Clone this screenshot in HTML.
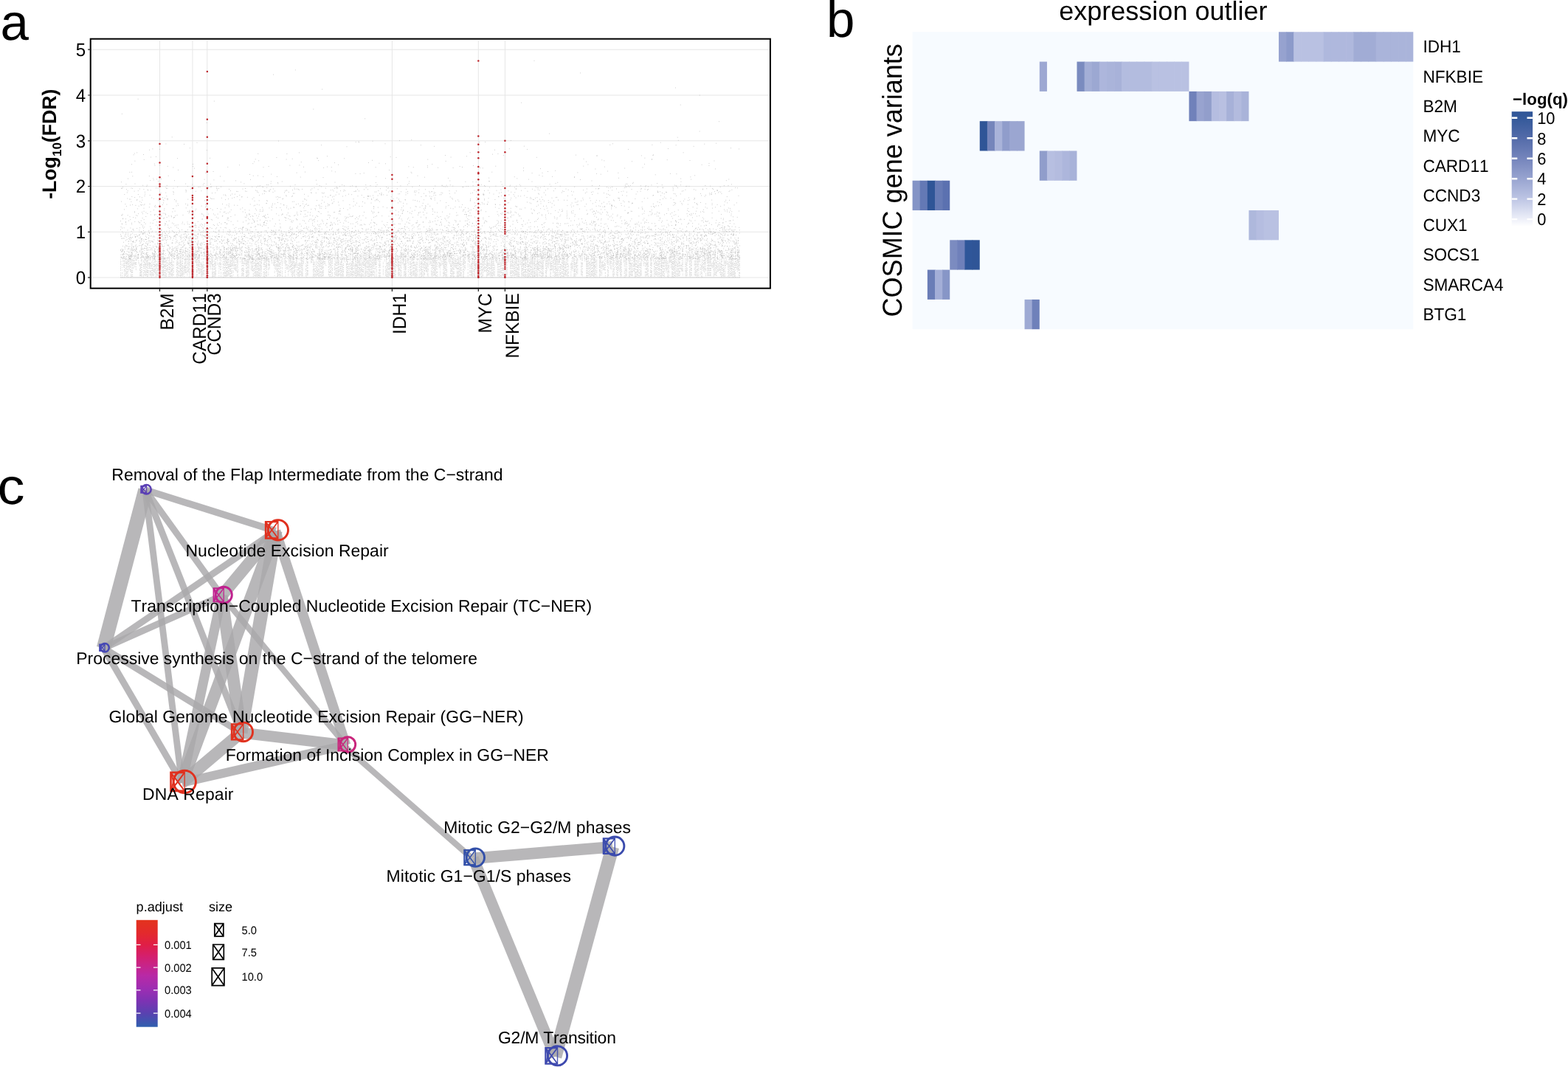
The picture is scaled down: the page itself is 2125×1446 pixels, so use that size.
<!DOCTYPE html>
<html lang="en"><head><meta charset="utf-8"><title>Figure</title>
<style>
html,body{margin:0;padding:0;background:#fff;}
body{width:2125px;height:1446px;overflow:hidden;}
svg{display:block;font-family:'Liberation Sans', sans-serif;}
text{fill:#000;font-kerning:none;text-rendering:geometricPrecision;}
</style></head><body>
<svg width="2125" height="1446" viewBox="0 0 2125 1446">
<rect width="2125" height="1446" fill="#fff"/>
<g id="panel-a">
<path d="M123.7 376.1H1042.7M123.7 314.3H1042.7M123.7 252.5H1042.7M123.7 190.8H1042.7M123.7 129.0H1042.7M123.7 67.2H1042.7M216.5 54.7V390.7M260.9 54.7V390.7M280.8 54.7V390.7M531.4 54.7V390.7M648.3 54.7V390.7M684.4 54.7V390.7" stroke="#e6e6e6" stroke-width="1" fill="none"/>
<g fill="none" stroke="#c1c1c1" stroke-width="0.8">
<path d="M163.50 375.8V349M166.80 352.8V344M174.65 363.8V346M186.80 351.2V342M245.50 375.9V337M247.50 374.5V341M255.80 369.1V345M275.20 372.9V354M281.80 372.8V340M290.80 374.4V352M309.35 372.8V335M310.35 372.7V357M337.35 373.0V335M348.65 374.6V354M350.50 375.9V355M354.20 374.0V346M366.80 351.2V338M387.20 357.4V353M389.35 365.0V357M397.80 373.1V337M400.20 362.1V355M408.80 373.3V337M411.50 357.6V351M428.80 375.6V351M435.35 374.7V350M461.65 375.5V355M464.50 373.7V358M473.20 375.4V356M475.80 373.8V357M477.65 374.8V335M480.80 373.2V357M484.35 373.7V348M489.50 376.1V357M499.80 375.1V339M504.35 373.3V344M525.65 374.5V355M528.20 373.9V349M532.50 375.2V352M534.65 373.9V356M539.80 372.9V349M549.50 375.1V336M550.20 374.2V346M552.35 356.3V352M559.80 373.4V349M564.20 375.3V354M566.20 345.2V343M586.80 373.3V342M590.35 376.0V336M601.80 373.7V350M602.20 372.9V351M603.65 375.4V344M606.20 347.5V343M609.50 357.4V343M618.35 363.4V352M665.65 373.1V348M666.65 376.0V340M672.80 356.3V338M684.20 361.8V339M688.50 347.4V340M691.80 372.9V343M697.65 375.8V336M703.50 375.2V350M706.80 372.9V355M727.80 376.0V334M728.50 374.6V333M734.80 374.1V355M736.35 373.9V333M752.65 374.1V333M753.35 375.6V341M756.65 375.5V345M764.65 375.3V338M766.35 372.9V357M792.65 354.1V339M795.35 375.7V344M797.35 374.2V346M799.35 375.4V354M805.50 373.5V335M815.65 372.9V355M836.80 375.7V336M838.35 365.7V352M840.80 373.2V352M841.20 375.3V333M853.65 374.7V336M872.35 360.3V335M897.35 373.5V335M902.80 369.3V347M911.35 374.6V354M913.50 375.9V334M932.35 353.9V340M946.80 375.8V339M959.35 373.6V335M970.50 373.1V352M977.35 375.3V349M989.65 373.9V354M990.80 374.2V342M1000.35 365.4V341" stroke-dasharray="0.8 1.1 0.8 0.7 0.8 1.4 0.8 2.3 0.8 0.9 0.8 0.9 0.8 0.9 0.8 1.8 0.8 0.5"/>
<path d="M169.80 374.1V349M173.50 375.7V351M177.20 375.9V346M187.80 357.5V348M206.65 373.6V340M209.50 368.8V338M225.35 374.7V353M229.80 372.7V334M234.20 373.3V358M259.65 351.2V347M260.80 373.5V356M265.35 356.1V334M285.65 364.9V342M298.50 366.0V347M315.20 360.1V334M319.65 367.1V358M322.50 376.0V351M327.65 374.3V339M328.65 373.8V352M330.20 374.6V357M336.20 376.1V333M343.20 374.7V345M344.65 373.8V355M351.35 374.1V335M374.65 368.0V344M376.50 374.6V349M401.35 359.9V342M404.35 373.2V358M410.20 374.1V353M414.35 374.4V356M424.50 375.5V352M426.50 375.1V354M431.80 374.5V341M440.35 358.5V339M450.50 373.8V346M456.35 373.8V341M463.50 375.5V333M490.20 374.7V341M510.20 375.6V347M517.80 349.0V335M523.50 374.5V347M535.35 375.2V337M541.35 373.2V354M563.65 374.2V359M570.80 374.3V355M581.50 352.6V337M588.65 373.2V344M605.65 376.0V355M616.50 361.0V342M624.65 373.7V353M627.35 375.9V342M653.20 375.5V347M677.35 375.3V349M680.65 373.5V344M681.80 373.3V337M682.35 373.9V345M687.20 372.9V336M707.20 374.8V339M714.80 375.6V335M722.20 375.8V343M729.50 365.9V355M754.80 373.6V348M755.20 375.7V351M757.80 356.2V337M777.80 375.1V347M819.50 366.3V345M821.50 344.3V334M822.50 356.6V339M823.50 375.4V343M827.35 364.3V337M831.35 374.9V342M832.65 373.0V352M839.80 367.9V351M847.80 375.4V335M848.20 373.8V338M851.80 354.1V334M888.50 373.0V352M894.50 374.3V335M900.35 374.8V349M919.65 374.3V333M923.80 367.7V359M924.20 367.1V344M931.20 373.7V343M936.35 373.4V346M944.20 375.8V337M948.80 355.3V335M956.50 374.2V350M958.80 373.8V334M962.35 373.7V334M964.80 361.4V357M965.20 363.3V355M969.20 373.1V338M973.20 368.2V353M979.65 373.8V359M981.20 374.7V340" stroke-dasharray="0.8 0.9 0.8 1.1 0.8 2.3 0.8 0.9 0.8 0.7 0.8 2.9 0.8 2.3 0.8 1.4 0.8 1.1"/>
<path d="M167.65 361.7V353M168.35 375.7V344M181.65 357.9V352M183.65 358.3V355M184.35 365.9V337M185.20 352.9V351M189.50 374.2V356M213.80 374.2V345M214.80 374.0V336M233.20 374.6V338M244.35 374.7V337M251.20 370.1V338M311.35 374.7V340M312.50 374.9V333M340.20 365.4V349M363.80 373.3V347M368.65 357.1V338M370.80 359.6V338M394.35 369.0V346M395.35 373.5V354M399.65 375.6V357M422.50 356.1V341M425.20 373.3V355M454.20 373.4V337M476.65 373.1V354M482.65 374.4V333M487.35 373.5V349M500.35 375.1V336M514.65 375.2V338M527.80 373.4V336M538.20 361.3V346M540.35 374.3V354M542.80 375.4V339M568.20 375.7V351M580.20 374.6V333M582.65 359.0V342M583.20 356.8V334M599.80 358.5V348M604.65 374.1V344M611.35 375.0V358M626.80 358.3V357M630.65 364.4V336M635.50 354.8V342M643.35 374.4V346M648.50 374.0V355M654.65 374.1V349M659.50 375.7V334M660.50 373.8V350M663.35 372.6V346M669.20 372.9V342M671.65 354.3V348M701.35 373.2V358M708.50 373.7V353M712.35 375.6V333M716.35 375.0V357M718.20 375.1V351M730.50 373.8V345M738.35 353.0V336M745.65 374.4V344M763.50 374.7V349M779.35 374.8V355M781.50 370.1V352M804.50 374.8V342M812.50 375.6V345M828.65 364.9V344M835.35 372.9V344M844.35 347.9V341M850.65 346.2V339M859.50 368.1V333M864.35 375.7V359M870.20 354.1V347M876.50 373.2V352M878.35 375.0V336M890.20 372.7V354M892.65 373.6V350M896.50 375.6V341M901.80 363.9V347M905.80 376.0V358M909.50 362.9V346M917.65 374.8V350M937.20 373.9V338M941.20 373.2V353M945.50 374.4V339M949.20 373.1V358M955.35 365.7V338M960.65 374.0V333M963.35 373.8V343M967.20 374.5V349M985.65 358.8V353M991.35 373.8V342M1001.35 374.0V337" stroke-dasharray="0.8 0.9 0.8 1.4 0.8 2.3 0.8 0.7 0.8 0.5 0.8 2.3 0.8 0.7 0.8 0.5 0.8 1.4"/>
<path d="M180.80 364.1V351M190.50 374.0V357M198.80 373.3V333M202.50 363.6V354M210.35 371.4V336M219.20 373.7V343M220.65 373.7V338M221.50 373.2V336M241.20 374.3V345M250.35 368.1V352M252.20 370.0V351M256.80 375.8V340M263.65 351.0V343M269.65 370.9V334M287.65 375.8V345M291.80 375.8V356M304.35 374.4V335M306.50 374.4V346M307.35 374.5V338M331.65 357.7V343M334.35 375.0V352M335.65 373.8V352M338.35 352.3V337M341.50 366.7V340M353.80 367.3V346M358.35 376.0V340M362.65 353.5V346M367.80 353.7V338M371.65 360.1V352M380.50 374.0V355M382.65 374.8V344M396.50 374.8V349M402.20 373.2V339M405.50 375.1V355M421.35 356.4V342M429.80 372.9V359M437.35 374.3V334M438.20 373.6V347M443.20 351.9V340M445.35 373.2V344M457.80 374.4V337M459.20 373.2V352M470.50 373.8V350M485.20 373.1V337M486.35 374.5V352M497.35 373.3V341M502.80 373.3V338M507.80 375.4V346M519.35 372.6V355M522.35 373.7V359M526.35 375.8V355M529.65 374.4V350M543.80 374.1V342M556.20 373.1V355M577.65 368.2V336M589.50 372.7V337M613.20 374.7V349M614.65 375.8V346M619.35 375.2V355M620.35 375.5V347M621.50 375.1V348M628.50 375.9V339M638.80 373.7V358M640.20 375.1V339M644.35 364.7V355M664.80 375.5V357M683.80 355.1V334M699.35 373.0V347M700.80 375.0V349M720.20 373.0V348M721.50 375.3V342M723.80 375.2V355M724.20 375.0V335M740.50 375.0V349M742.50 360.4V335M743.20 363.3V348M758.35 373.5V334M782.80 371.4V350M787.65 372.7V355M803.50 374.2V355M807.35 373.3V351M813.35 373.4V347M817.35 365.9V352M824.65 374.1V336M837.20 373.7V338M852.50 375.4V337M860.65 375.7V345M863.50 373.1V346M904.80 375.1V353M907.80 355.5V344M910.80 375.7V350M922.65 365.1V358M934.65 373.4V335M942.65 373.7V340M976.35 372.9V356M982.65 374.6V354M983.20 361.0V347M993.50 376.0V342M994.65 373.1V357M995.50 375.0V355" stroke-dasharray="0.8 0.7 0.8 1.4 0.8 0.9 0.8 0.9 0.8 2.3 0.8 0.7 0.8 2.3 0.8 1.4 0.8 0.7"/>
<path d="M171.65 375.2V347M172.35 374.3V352M195.80 372.7V339M223.35 373.4V353M230.35 375.1V356M235.20 373.1V353M240.35 376.0V338M243.80 373.7V349M249.80 375.3V358M261.65 375.3V357M264.35 354.5V342M267.20 372.7V345M277.80 351.2V337M282.65 374.4V339M283.80 357.8V351M297.20 361.8V335M302.20 375.9V341M316.35 373.2V339M321.50 373.5V343M325.35 355.3V335M332.20 357.9V351M339.50 355.3V354M342.50 367.1V349M345.65 373.8V348M360.80 373.8V337M372.20 373.7V348M377.35 373.2V334M391.65 365.8V333M392.20 367.3V336M393.50 366.0V341M398.65 373.3V353M406.50 372.8V358M433.65 373.1V342M436.65 374.2V356M441.80 360.1V357M448.35 372.7V349M449.35 374.8V338M453.20 375.2V357M462.50 373.2V344M467.80 355.4V335M471.20 375.7V351M478.35 373.1V344M496.20 374.1V343M498.50 374.6V350M506.35 373.0V345M536.35 372.6V348M537.35 359.9V355M555.65 375.7V346M569.80 375.8V335M571.50 375.2V344M574.80 376.0V346M587.65 373.3V351M591.50 374.2V346M597.20 359.8V357M615.35 374.7V354M629.50 366.6V340M636.35 372.9V340M637.80 372.9V359M651.65 376.1V356M652.65 375.0V357M655.20 368.6V340M657.20 367.0V343M678.35 373.8V356M694.50 373.0V344M695.65 374.2V344M719.50 375.3V339M731.80 373.3V353M732.65 373.8V339M733.80 374.8V347M744.50 357.2V342M746.50 375.1V355M749.65 373.7V336M759.50 375.9V358M761.50 374.2V342M762.65 374.7V336M770.65 374.0V357M771.50 344.0V339M786.65 352.1V343M814.20 373.6V342M834.35 361.8V345M865.35 373.5V338M873.35 356.3V342M887.20 374.9V341M893.35 375.6V345M899.50 374.0V339M906.80 373.6V349M912.35 375.4V340M914.35 374.1V337M920.50 373.8V353M950.65 374.6V357M961.80 373.5V341M971.20 373.8V355M975.35 369.8V338M986.50 374.5V357" stroke-dasharray="0.8 2.9 0.8 1.1 0.8 2.9 0.8 1.8 0.8 1.1 0.8 2.3 0.8 0.7 0.8 1.4 0.8 2.3"/>
<path d="M175.20 365.8V344M182.80 362.1V348M191.35 374.4V334M194.35 375.6V353M196.20 372.9V352M197.50 373.9V345M201.80 372.8V347M203.80 373.3V346M205.35 375.8V354M211.35 375.2V353M212.65 373.0V357M222.35 375.8V349M224.35 375.6V342M227.35 368.8V356M248.35 372.7V359M270.20 370.9V345M271.80 370.1V356M273.65 374.8V355M274.20 373.2V359M286.65 358.4V347M288.50 375.2V351M320.20 367.4V339M346.65 374.7V351M347.20 373.8V333M352.50 375.1V354M359.80 375.7V341M361.50 374.5V348M365.20 364.5V355M373.65 364.8V345M375.80 375.2V349M378.50 373.5V334M381.20 354.6V351M385.20 356.6V338M407.20 373.4V349M409.20 374.5V339M415.80 375.8V343M423.35 352.8V343M442.20 345.4V342M466.35 353.7V350M469.50 374.3V346M494.65 375.1V338M495.20 373.1V342M501.80 374.2V335M505.65 373.4V345M544.35 348.2V335M546.50 356.3V344M547.50 374.3V337M548.65 373.6V357M562.20 375.2V355M573.80 374.5V349M576.65 365.0V334M578.20 368.3V357M579.20 373.5V337M585.65 374.7V350M596.65 373.7V335M598.20 359.3V351M607.80 354.7V340M623.50 374.2V347M639.20 373.5V353M645.35 364.0V354M656.65 368.1V346M661.50 373.2V349M670.35 374.1V359M674.65 374.2V355M689.20 354.7V345M696.50 372.6V358M702.65 375.0V347M705.50 359.0V333M709.50 374.3V350M715.50 375.8V344M725.20 375.5V348M726.65 373.4V357M735.20 375.6V339M748.20 366.0V353M750.20 367.4V351M760.20 375.2V358M773.80 374.3V355M776.35 363.9V349M780.80 373.3V343M788.80 373.1V342M800.80 374.8V352M806.20 376.0V348M816.35 361.1V353M826.50 359.5V346M830.65 373.6V350M845.35 355.6V335M854.65 373.2V341M855.65 373.8V353M867.50 374.5V357M869.20 373.7V346M877.65 373.0V338M891.20 374.7V349M903.65 365.7V353M908.20 354.8V334M915.35 375.0V351M918.65 373.3V357M943.20 373.7V357M951.35 376.0V351M954.50 369.4V336M968.20 373.2V347M974.50 366.9V355M978.35 375.3V339M988.20 375.9V342M992.35 373.5V336M999.65 367.8V334" stroke-dasharray="0.8 0.9 0.8 1.4 0.8 1.1 0.8 2.3 0.8 1.8 0.8 1.4 0.8 0.7 0.8 0.5 0.8 2.9"/>
<path d="M165.65 375.9V353M170.80 373.4V341M204.20 373.4V356M226.65 365.8V348M228.80 374.9V341M231.35 373.1V355M242.35 373.8V356M246.50 373.1V357M253.80 373.4V355M254.65 367.5V337M276.50 372.6V357M280.65 372.9V338M289.80 374.8V358M292.35 372.8V342M299.50 375.2V344M303.35 375.8V341M305.50 375.4V349M318.50 365.2V346M329.65 373.0V350M349.35 374.1V338M355.65 352.4V337M357.20 374.8V345M379.20 374.6V351M384.65 345.7V339M388.20 364.6V354M390.65 373.5V359M403.80 375.7V357M416.65 373.0V339M417.20 372.9V351M427.65 373.7V358M430.65 373.1V344M432.50 375.3V341M434.65 374.3V343M446.35 374.5V342M455.50 373.3V353M472.20 374.2V358M474.65 373.9V342M479.35 374.1V351M493.35 360.1V342M503.35 374.5V357M508.35 359.0V344M513.35 375.8V339M515.20 375.8V333M557.35 375.5V347M558.20 374.0V349M560.50 373.1V337M561.80 373.1V335M575.50 372.7V346M584.50 373.1V343M592.65 374.7V345M594.80 361.7V348M595.80 363.0V354M600.80 375.5V336M625.20 376.0V352M634.20 375.4V343M649.35 373.4V338M658.20 368.3V358M662.50 372.9V358M667.80 375.6V338M668.20 373.0V345M673.50 355.6V351M676.35 374.8V349M686.65 372.9V340M698.80 373.1V341M710.35 374.9V345M713.20 374.5V341M717.50 373.6V350M741.20 367.1V342M751.35 374.9V348M765.80 372.6V352M769.65 375.3V343M775.20 367.0V349M789.20 374.4V349M790.20 345.4V341M798.65 373.2V355M801.50 373.7V346M802.50 373.1V336M818.35 365.3V358M820.35 375.7V348M857.20 374.0V346M861.20 375.1V336M862.35 375.0V353M866.20 375.6V340M868.50 372.8V342M874.35 374.2V345M875.65 374.4V338M879.80 344.9V344M883.35 373.9V343M884.50 348.9V347M885.50 354.2V340M889.20 373.2V341M895.80 375.4V344M898.65 374.0V355M916.20 373.0V341M921.35 373.4V334M935.20 375.2V342M947.20 354.4V347M953.50 367.3V352M957.65 351.0V345M972.35 367.7V333M984.80 358.2V353M996.50 376.0V334M1002.50 375.6V346" stroke-dasharray="0.8 1.1 0.8 1.8 0.8 0.5 0.8 2.9 0.8 2.9 0.8 1.8 0.8 0.9 0.8 2.9 0.8 1.8"/>
<path d="M176.50 367.6V344M178.50 375.1V333M179.65 374.9V350M192.20 374.4V333M193.50 348.8V340M199.65 374.9V353M200.20 375.2V338M207.35 373.3V358M208.35 373.8V343M216.50 352.9V345M218.50 361.0V356M232.50 373.6V345M239.50 374.3V353M262.35 374.4V342M266.65 374.5V345M268.65 365.7V346M272.65 373.7V355M284.50 361.2V353M293.20 349.4V336M294.65 358.7V349M296.80 375.8V356M308.50 374.0V351M313.35 376.0V345M314.65 375.5V333M317.65 365.4V345M333.50 375.2V352M364.65 360.1V349M386.80 375.2V334M419.50 346.7V345M439.80 356.9V348M447.50 374.9V342M458.35 373.8V340M460.65 372.9V357M465.50 374.4V356M481.65 375.9V335M483.65 375.4V357M488.20 374.5V344M491.50 374.0V354M492.50 374.5V344M509.35 364.2V335M512.35 353.0V336M521.20 354.1V345M524.50 374.8V356M533.50 375.7V354M545.65 358.2V348M553.35 374.3V337M565.65 373.9V339M572.20 374.0V351M610.65 375.9V334M612.65 372.7V343M617.50 362.8V349M622.65 373.7V353M641.20 372.8V334M642.80 374.3V337M646.35 373.8V355M647.35 375.6V359M650.35 373.2V355M675.20 373.7V353M679.35 375.3V352M692.35 376.0V354M693.80 375.7V338M711.50 374.3V336M739.50 375.4V353M747.50 366.2V341M767.20 374.2V344M768.50 373.5V344M774.80 364.3V354M778.50 373.9V341M794.80 375.7V349M796.20 375.9V353M808.80 375.4V348M842.35 374.0V350M846.20 376.0V338M849.50 373.7V338M856.65 374.0V359M858.65 366.8V349M881.65 374.7V350M882.50 375.2V351M886.50 373.4V356M925.50 373.4V336M928.65 373.4V344M929.80 375.5V357M930.35 374.0V347M940.20 347.0V343M952.65 364.3V334M966.80 362.9V352M980.50 374.4V358M987.65 373.9V355M997.35 362.8V346M998.35 365.0V353" stroke-dasharray="0.8 1.1 0.8 2.3 0.8 0.7 0.8 1.1 0.8 2.3 0.8 2.3 0.8 0.9 0.8 1.1 0.8 1.8"/>
<path d="M779.9 340.5h.8M719.5 324.4h.8M270.0 345.3h.8M343.3 343.8h.8M192.9 348.0h.8M503.8 338.3h.8M228.3 332.0h.8M953.7 332.2h.8M461.4 327.0h.8M529.8 346.8h.8M567.1 351.1h.8M730.1 347.2h.8M473.2 316.0h.8M806.3 321.5h.8M701.7 329.9h.8M754.4 315.8h.8M327.7 324.5h.8M415.4 344.2h.8M852.3 331.3h.8M875.9 319.8h.8M657.0 346.1h.8M175.6 333.9h.8M771.8 343.6h.8M221.8 351.3h.8M308.3 327.4h.8M166.3 345.0h.8M385.4 326.8h.8M991.3 351.1h.8M258.8 317.2h.8M976.8 347.6h.8M444.4 334.4h.8M431.6 338.4h.8M564.7 344.1h.8M209.1 349.5h.8M299.3 349.3h.8M686.6 327.4h.8M383.6 323.4h.8M774.4 341.2h.8M575.6 346.4h.8M942.4 332.9h.8M206.0 347.5h.8M744.1 339.6h.8M764.6 345.1h.8M831.8 322.9h.8M242.0 331.9h.8M323.5 326.9h.8M837.6 323.4h.8M357.0 349.2h.8M719.6 332.7h.8M279.0 346.2h.8M651.7 348.8h.8M694.9 344.7h.8M379.9 338.2h.8M610.3 326.2h.8M188.9 326.2h.8M348.4 343.0h.8M699.8 327.6h.8M678.7 318.6h.8M334.7 342.3h.8M718.9 344.0h.8M295.0 345.2h.8M810.1 321.9h.8M764.0 316.1h.8M829.5 342.3h.8M427.7 326.3h.8M209.7 330.9h.8M237.8 350.4h.8M594.0 347.5h.8M944.7 319.7h.8M550.4 346.1h.8M263.3 335.0h.8M600.4 340.4h.8M764.0 334.1h.8M813.6 348.9h.8M221.8 339.5h.8M568.7 344.3h.8M723.9 345.3h.8M430.0 336.1h.8M760.6 324.3h.8M474.8 337.3h.8M941.2 317.2h.8M682.1 348.9h.8M545.4 329.8h.8M396.7 350.7h.8M986.2 318.3h.8M271.2 336.6h.8M682.6 342.6h.8M220.5 325.1h.8M809.7 337.6h.8M234.9 339.3h.8M241.9 315.9h.8M206.0 343.1h.8M807.3 348.0h.8M252.4 349.8h.8M300.6 334.0h.8M862.0 347.0h.8M308.7 324.5h.8M520.2 341.3h.8M266.4 344.6h.8M978.3 348.6h.8M380.8 325.5h.8M911.2 318.5h.8M559.7 316.3h.8M669.8 343.0h.8M553.3 326.6h.8M778.8 348.2h.8M325.5 316.2h.8M252.8 322.5h.8M447.3 344.4h.8M377.1 336.4h.8M994.1 347.6h.8M879.9 341.9h.8M308.0 325.4h.8M449.6 346.4h.8M514.1 322.1h.8M887.1 332.3h.8M171.7 324.6h.8M671.9 318.7h.8M961.7 341.7h.8M874.9 322.2h.8M386.2 340.3h.8M477.3 340.8h.8M480.3 348.8h.8M353.6 318.3h.8M507.5 329.9h.8M907.4 324.9h.8M368.0 317.9h.8M837.7 314.7h.8M773.8 324.9h.8M845.1 344.3h.8M713.3 339.8h.8M867.5 348.1h.8M615.3 341.4h.8M851.5 341.0h.8M871.0 321.0h.8M900.3 347.9h.8M950.2 325.4h.8M730.9 329.2h.8M203.3 320.0h.8M622.6 337.0h.8M447.7 323.8h.8M819.3 320.0h.8M342.7 341.2h.8M372.2 349.0h.8M437.5 350.9h.8M831.3 345.1h.8M222.3 349.9h.8M784.8 346.1h.8M550.7 339.0h.8M836.2 316.4h.8M423.0 330.0h.8M913.7 336.4h.8M917.8 325.8h.8M424.4 319.9h.8M644.0 348.9h.8M655.9 321.8h.8M598.1 335.9h.8M512.4 319.6h.8M721.4 345.8h.8M467.0 340.4h.8M967.3 327.4h.8M267.8 318.1h.8M192.3 331.7h.8M525.8 326.5h.8M523.2 349.3h.8M602.4 322.2h.8M824.9 340.6h.8M349.5 325.4h.8M835.6 345.4h.8M903.9 314.7h.8M526.7 339.8h.8M758.6 317.4h.8M332.2 342.6h.8M439.1 325.9h.8M319.7 333.4h.8M582.8 328.5h.8M283.2 316.2h.8M1002.0 332.9h.8M830.2 346.5h.8M926.7 333.2h.8M800.2 320.1h.8M466.5 317.7h.8M337.0 351.0h.8M584.5 318.8h.8M918.5 316.3h.8M591.6 317.3h.8M632.8 347.8h.8M692.5 322.9h.8M518.6 331.2h.8M380.4 343.5h.8M515.6 334.7h.8M555.9 349.3h.8M167.8 341.2h.8M764.5 325.2h.8M361.9 344.2h.8M596.5 346.8h.8M668.9 318.5h.8M332.5 331.9h.8M767.7 325.2h.8M760.4 326.8h.8M391.7 321.4h.8M939.2 350.3h.8M955.1 337.4h.8M235.4 349.9h.8M831.6 328.2h.8M282.2 336.8h.8M698.9 314.4h.8M444.9 324.4h.8M368.7 346.1h.8M298.3 338.7h.8M681.7 342.5h.8M298.9 345.4h.8M234.3 346.2h.8M427.9 335.1h.8M317.0 336.0h.8M532.0 315.5h.8M571.0 316.8h.8M558.5 346.1h.8M659.7 347.7h.8M305.0 349.8h.8M751.4 315.8h.8M501.4 340.7h.8M519.7 340.8h.8M742.5 339.3h.8M290.8 320.3h.8M643.4 351.3h.8M875.7 326.0h.8M460.4 330.1h.8M935.1 339.0h.8M525.9 342.7h.8M628.0 328.8h.8M779.7 316.6h.8M284.9 340.3h.8M877.5 323.4h.8M658.0 328.2h.8M448.3 316.8h.8M623.9 339.0h.8M316.0 348.6h.8M916.0 323.0h.8M185.4 341.8h.8M565.4 335.4h.8M467.9 318.9h.8M456.5 334.0h.8M942.8 329.7h.8M563.1 341.5h.8M487.8 330.9h.8M822.4 344.0h.8M473.8 339.5h.8M467.4 318.2h.8M615.2 343.5h.8M441.9 322.1h.8M297.4 327.6h.8M181.3 346.2h.8M212.9 322.8h.8M286.2 345.1h.8M211.3 343.9h.8M778.3 326.4h.8M926.8 316.7h.8M625.2 317.8h.8M238.2 317.6h.8M527.2 346.2h.8M790.6 320.5h.8M486.7 349.2h.8M895.4 325.0h.8M663.9 315.3h.8M195.0 350.2h.8M267.2 351.0h.8M757.3 330.1h.8M257.2 347.2h.8M314.8 330.9h.8M727.2 315.7h.8M465.6 315.3h.8M527.5 339.4h.8M375.5 344.9h.8M980.7 314.5h.8M755.2 346.8h.8M313.9 347.5h.8M457.5 325.7h.8M212.4 334.1h.8M734.1 350.8h.8M531.8 323.4h.8M646.0 337.1h.8M902.5 331.3h.8M445.7 339.2h.8M954.5 320.5h.8M930.5 332.9h.8M282.5 346.8h.8M484.6 327.6h.8M166.9 322.9h.8M822.4 334.7h.8M167.7 323.1h.8M510.4 328.5h.8M641.1 326.0h.8M506.0 316.1h.8M964.7 317.5h.8M679.1 342.1h.8M479.0 343.7h.8M921.3 323.4h.8M824.2 322.1h.8M994.3 327.7h.8M430.0 324.8h.8M383.1 330.9h.8M295.9 320.6h.8M573.1 343.5h.8M937.3 349.5h.8M943.4 324.8h.8M288.1 324.7h.8M644.0 318.4h.8M655.1 338.0h.8M946.1 349.4h.8M815.0 349.0h.8M395.1 348.7h.8M894.0 337.5h.8M772.4 344.1h.8M775.7 329.3h.8M244.9 335.5h.8M768.6 345.5h.8M712.0 343.4h.8M473.9 317.9h.8M954.2 314.4h.8M521.0 332.4h.8M841.3 324.8h.8M545.8 320.3h.8M499.7 316.5h.8M559.7 348.5h.8M791.5 347.7h.8M733.1 350.3h.8M992.2 333.7h.8M784.2 348.1h.8M697.3 339.9h.8M372.0 322.4h.8M190.9 336.1h.8M235.9 320.8h.8M912.4 350.7h.8M552.8 336.4h.8M766.0 326.0h.8M451.0 317.3h.8M318.5 348.0h.8M846.5 348.5h.8M319.0 335.2h.8M445.2 347.2h.8M943.2 336.3h.8M822.3 344.4h.8M928.7 345.3h.8M923.5 330.8h.8M977.7 324.3h.8M692.3 334.0h.8M880.2 337.4h.8M245.5 318.1h.8M838.9 328.0h.8M787.8 345.0h.8M551.7 322.1h.8M970.1 317.7h.8M297.7 327.9h.8M627.9 338.9h.8M303.7 348.0h.8M557.6 335.5h.8M387.7 340.2h.8M627.8 324.6h.8M657.5 347.2h.8M906.4 340.2h.8M968.3 315.1h.8M280.7 332.0h.8M974.2 339.6h.8M622.3 342.2h.8M187.0 345.9h.8M267.0 343.2h.8M691.1 332.8h.8M958.6 327.8h.8M467.0 316.6h.8M694.9 333.6h.8M886.7 328.5h.8M465.3 331.1h.8M414.9 315.7h.8M367.9 315.5h.8M217.0 351.2h.8M627.1 345.8h.8M588.8 348.5h.8M865.1 328.5h.8M737.1 317.6h.8M995.4 328.1h.8M761.4 351.4h.8M204.3 338.1h.8M976.0 342.2h.8M639.9 351.3h.8M511.8 318.6h.8M657.6 322.0h.8M174.0 345.9h.8M313.4 321.6h.8M248.3 317.3h.8M387.4 319.6h.8M595.6 341.8h.8M973.8 338.9h.8M748.1 349.9h.8M859.7 315.2h.8M255.7 325.3h.8M389.9 347.6h.8M468.6 328.8h.8M963.0 314.6h.8M996.6 330.4h.8M711.2 347.2h.8M772.2 333.2h.8M464.2 318.7h.8M377.0 347.8h.8M295.7 347.6h.8M656.8 323.0h.8M297.3 335.1h.8M644.9 332.9h.8M509.3 333.6h.8M175.7 350.2h.8M517.6 344.8h.8M798.0 344.6h.8M854.3 344.7h.8M240.7 336.1h.8M488.1 341.4h.8M804.9 345.3h.8M725.1 321.5h.8M542.8 335.1h.8M937.9 331.1h.8M314.8 349.9h.8M231.9 341.5h.8M237.5 329.3h.8M518.4 342.3h.8M592.7 317.1h.8M368.0 347.4h.8M419.2 341.8h.8M926.4 327.0h.8M522.8 347.1h.8M201.1 348.4h.8M874.0 329.4h.8M294.4 330.3h.8M212.0 335.0h.8M444.4 349.0h.8M786.0 326.5h.8M591.4 347.0h.8M724.8 337.8h.8M717.8 349.3h.8M920.3 351.3h.8M349.9 339.1h.8M329.4 349.4h.8M739.8 314.6h.8M444.0 343.8h.8M725.7 345.3h.8M499.2 327.7h.8M524.4 347.4h.8M222.1 333.6h.8M994.1 317.9h.8M246.8 335.2h.8M572.8 346.2h.8M725.0 335.4h.8M841.6 342.9h.8M946.5 322.4h.8M560.3 347.8h.8M568.8 348.3h.8M738.3 327.3h.8M648.1 315.4h.8M200.9 326.6h.8M834.9 348.7h.8M433.2 350.3h.8M652.1 326.3h.8M455.0 327.4h.8M470.7 326.7h.8M395.3 315.3h.8M530.4 351.3h.8M239.7 326.1h.8M888.5 329.8h.8M293.4 319.9h.8M764.4 348.6h.8M482.3 328.4h.8M166.0 350.6h.8M459.7 319.8h.8M998.9 342.0h.8M925.6 323.6h.8M888.8 331.8h.8M976.3 329.5h.8M958.2 332.7h.8M327.9 334.5h.8M568.2 341.3h.8M476.5 334.8h.8M656.4 345.3h.8M395.8 335.1h.8M585.8 338.3h.8M720.2 346.5h.8M609.2 343.5h.8M809.1 327.1h.8M818.3 334.6h.8M371.9 317.6h.8M591.6 340.0h.8M406.6 339.0h.8M757.6 322.2h.8M567.9 325.9h.8M341.6 337.1h.8M463.3 342.4h.8M464.6 324.9h.8M778.3 345.8h.8M359.2 323.7h.8M712.2 328.2h.8M696.0 327.5h.8M391.9 350.1h.8M465.6 350.8h.8M970.1 334.3h.8M725.3 315.8h.8M837.9 345.1h.8M445.7 348.8h.8M830.6 325.7h.8M572.1 340.2h.8M389.4 335.7h.8M760.4 318.9h.8M875.2 320.1h.8M531.5 338.3h.8M426.5 315.5h.8M316.8 347.3h.8M398.7 317.8h.8M878.4 341.5h.8M877.6 319.1h.8M521.4 346.3h.8M811.3 340.0h.8M263.1 318.6h.8M531.8 339.1h.8M662.4 344.2h.8M180.0 339.4h.8M481.2 351.2h.8M474.9 324.7h.8M442.3 328.1h.8M687.0 346.4h.8M180.1 328.3h.8M675.6 342.9h.8M331.0 320.7h.8M925.9 344.9h.8M654.6 332.3h.8M433.2 350.7h.8M436.0 329.5h.8M668.0 334.9h.8M265.6 345.6h.8M424.2 338.4h.8M467.7 318.6h.8M260.3 314.9h.8M364.7 320.6h.8M367.4 331.8h.8M479.5 350.7h.8M831.2 322.6h.8M388.8 324.0h.8M565.0 314.9h.8M208.6 339.8h.8M354.1 330.3h.8M815.7 321.2h.8M623.1 339.5h.8M833.9 348.9h.8M381.1 325.0h.8M532.5 314.6h.8M239.3 336.7h.8M341.3 351.4h.8M241.5 349.3h.8M472.5 337.8h.8M589.0 343.0h.8M752.0 334.6h.8M986.8 347.0h.8M591.4 335.5h.8M475.0 320.4h.8M338.8 319.7h.8M463.2 341.4h.8M678.8 332.8h.8M401.3 349.5h.8M964.4 340.2h.8M259.0 329.0h.8M609.3 341.7h.8M438.6 321.1h.8M447.1 338.4h.8M965.8 340.5h.8M500.3 347.2h.8M718.8 328.7h.8M537.5 338.8h.8M358.3 323.5h.8M546.6 321.7h.8M477.6 325.8h.8M187.1 345.4h.8M968.9 328.0h.8M729.9 335.4h.8M559.3 346.1h.8M308.1 329.5h.8M745.1 344.1h.8M703.8 348.0h.8M677.3 346.9h.8M590.5 342.2h.8M625.0 348.1h.8M568.6 330.6h.8M276.1 342.3h.8M732.4 333.4h.8M680.4 323.9h.8M642.5 345.3h.8M534.3 321.7h.8M638.4 325.0h.8M468.4 337.2h.8M976.7 322.1h.8M710.7 348.9h.8M676.3 350.8h.8M946.6 315.6h.8M773.9 343.8h.8M872.6 346.7h.8M857.6 334.4h.8M176.2 319.1h.8M532.2 321.7h.8M740.6 334.0h.8M886.6 345.9h.8M916.9 341.3h.8M184.8 341.4h.8M218.4 349.8h.8M686.7 348.5h.8M297.0 342.9h.8M396.9 317.8h.8M922.6 320.0h.8M993.4 337.5h.8M830.7 343.3h.8M940.3 322.6h.8M777.3 345.1h.8M239.8 317.6h.8M626.3 330.8h.8M886.2 347.8h.8M749.7 336.6h.8M822.5 336.9h.8M328.0 316.3h.8M398.9 325.4h.8M860.4 344.4h.8M746.1 339.2h.8M351.0 345.5h.8M963.5 340.2h.8M590.8 335.2h.8M185.3 325.0h.8M788.2 319.8h.8M462.5 345.7h.8M454.5 325.9h.8M715.1 338.8h.8M603.2 347.5h.8M933.7 336.3h.8M588.2 323.6h.8M329.0 326.3h.8M459.4 322.5h.8M242.2 343.5h.8M696.3 335.9h.8M479.2 332.2h.8M345.7 337.6h.8M164.6 323.1h.8M376.0 321.7h.8M626.2 331.2h.8M688.2 348.3h.8M815.1 342.9h.8M886.9 323.6h.8M732.0 322.4h.8M529.4 328.3h.8M962.4 346.4h.8M247.5 338.6h.8M590.5 347.6h.8M348.6 320.2h.8M488.5 347.6h.8M316.5 332.2h.8M322.4 336.2h.8M614.1 337.6h.8M585.6 321.5h.8M177.0 317.4h.8M330.2 350.6h.8M807.0 332.5h.8M614.3 345.4h.8M818.3 342.4h.8M772.9 345.1h.8M643.6 329.4h.8M474.8 336.0h.8M217.7 329.6h.8M743.0 347.5h.8M625.0 325.9h.8M247.8 321.4h.8M893.3 350.4h.8M371.4 349.5h.8M375.0 349.4h.8M573.6 344.4h.8M414.8 336.7h.8M474.7 323.5h.8M769.4 348.6h.8M350.5 351.3h.8M439.3 348.8h.8M747.9 323.9h.8M998.5 345.7h.8M193.8 324.9h.8M508.5 317.4h.8M492.3 342.2h.8M224.0 316.6h.8M592.7 337.5h.8M529.7 324.4h.8M860.1 336.2h.8M312.5 338.8h.8M910.8 338.8h.8M717.5 332.9h.8M550.1 332.3h.8M368.6 333.0h.8M888.5 349.6h.8M472.5 319.6h.8M983.8 351.2h.8M689.1 330.0h.8M870.3 336.4h.8M272.9 342.6h.8M761.0 326.0h.8M334.6 329.6h.8M714.0 329.0h.8M181.4 337.5h.8M435.7 331.4h.8M445.5 348.2h.8M725.4 343.1h.8M826.4 342.4h.8M621.0 322.7h.8M260.0 325.9h.8M220.2 317.1h.8M184.1 326.2h.8M472.3 346.7h.8M494.4 335.2h.8M511.1 348.4h.8M601.6 342.6h.8M974.5 339.7h.8M528.2 345.1h.8M975.8 341.9h.8M705.2 321.6h.8M492.9 324.9h.8M396.9 348.8h.8M198.4 337.2h.8M896.2 345.9h.8M532.6 324.6h.8M394.7 347.5h.8M598.7 338.1h.8M950.4 318.8h.8M362.7 332.9h.8M512.2 350.8h.8M535.8 318.0h.8M417.0 331.9h.8M759.0 350.0h.8M938.3 348.8h.8M416.0 326.6h.8M179.2 339.9h.8M269.3 336.3h.8M176.3 347.5h.8M349.6 349.6h.8M239.0 346.2h.8M597.3 348.0h.8M851.9 338.4h.8M374.3 344.7h.8M867.4 350.4h.8M785.7 349.1h.8M955.5 338.7h.8M664.4 320.3h.8M247.3 350.0h.8M744.9 331.8h.8M767.9 343.4h.8M579.9 346.4h.8M529.7 343.3h.8M654.4 342.7h.8M393.6 329.6h.8M234.8 323.0h.8M578.9 345.1h.8M259.4 334.9h.8M585.8 326.4h.8M476.7 338.6h.8M911.9 343.6h.8M986.1 319.0h.8M993.8 316.8h.8M378.8 322.4h.8M676.4 345.9h.8M999.9 329.4h.8M842.3 333.0h.8M229.7 320.3h.8M310.2 344.1h.8M680.0 346.2h.8M551.1 326.7h.8M243.5 328.8h.8M250.7 336.2h.8M707.9 327.8h.8M199.2 346.3h.8M968.6 339.4h.8M519.4 340.0h.8M747.1 325.5h.8M708.5 339.0h.8M640.8 334.7h.8M320.7 316.6h.8M972.5 324.0h.8M995.8 336.6h.8M867.0 344.7h.8M786.1 326.6h.8M950.5 321.6h.8M900.7 343.8h.8M823.7 336.2h.8M425.2 340.2h.8M833.3 321.2h.8M871.7 328.5h.8M305.9 347.4h.8M639.5 345.6h.8M445.4 349.0h.8M292.9 326.5h.8M350.6 321.0h.8M439.1 320.9h.8M416.9 343.8h.8M494.3 351.2h.8M528.4 339.8h.8M173.6 320.4h.8M477.8 351.4h.8M968.7 345.1h.8M375.3 351.0h.8M246.5 326.8h.8M651.3 335.1h.8M369.5 343.1h.8M976.9 340.1h.8M993.1 319.3h.8M267.5 321.0h.8M180.6 326.8h.8M842.2 327.4h.8M624.3 322.5h.8M292.5 333.7h.8M386.0 339.1h.8M323.5 326.9h.8M643.8 323.9h.8M690.1 331.3h.8M936.5 322.5h.8M638.5 341.7h.8M941.5 340.1h.8M248.7 341.5h.8M755.7 317.4h.8M704.7 328.8h.8M949.4 324.0h.8M536.7 336.7h.8M800.3 342.0h.8M255.1 330.5h.8M841.7 344.4h.8M736.6 319.0h.8M270.1 348.0h.8M576.6 341.4h.8M959.6 314.5h.8M536.9 323.3h.8M693.0 346.9h.8M978.3 346.8h.8M226.8 337.1h.8M178.0 336.0h.8M508.7 316.3h.8M510.0 320.9h.8M817.2 331.9h.8M362.5 342.5h.8M575.4 339.2h.8M704.7 335.0h.8M434.0 331.0h.8M999.1 345.9h.8M444.6 351.2h.8M241.7 350.2h.8M517.8 321.5h.8M748.4 315.8h.8M865.2 331.9h.8M650.0 351.2h.8M484.8 344.0h.8M683.8 350.0h.8M618.0 339.9h.8M575.8 338.9h.8M248.7 325.9h.8M834.5 331.4h.8M260.2 331.3h.8M893.8 314.9h.8M799.4 350.5h.8M900.1 328.7h.8M395.0 317.8h.8M856.1 318.9h.8M370.7 332.2h.8M480.9 342.8h.8M801.7 330.6h.8M441.4 333.6h.8M941.9 332.6h.8M929.4 332.7h.8M995.5 350.9h.8M548.9 333.2h.8M772.8 315.7h.8M685.9 336.1h.8M695.1 334.0h.8M754.5 316.7h.8M174.7 341.9h.8M898.3 350.1h.8M826.1 350.8h.8M706.8 323.0h.8M362.8 339.7h.8M353.0 327.0h.8M606.7 331.1h.8M436.1 331.8h.8M963.8 323.9h.8M961.5 344.5h.8M595.9 339.6h.8M453.4 322.9h.8M309.8 333.0h.8M812.4 317.2h.8M178.6 343.7h.8M576.7 317.1h.8M299.9 321.3h.8M496.2 333.4h.8M941.6 350.0h.8M439.5 347.4h.8M275.3 342.5h.8M750.9 332.1h.8M265.2 323.0h.8M588.6 347.8h.8M851.4 322.1h.8M344.9 317.0h.8M842.9 345.1h.8M163.8 320.1h.8M856.1 349.1h.8M806.0 324.2h.8M694.7 321.6h.8M989.2 341.7h.8M862.7 317.8h.8M426.1 327.9h.8M737.2 320.9h.8M638.6 343.5h.8M374.1 333.6h.8M276.6 320.5h.8M909.0 344.6h.8M748.0 328.3h.8M265.2 323.9h.8M805.9 342.4h.8M245.4 343.3h.8M810.4 336.5h.8M847.1 347.3h.8M252.4 340.9h.8M901.2 347.2h.8M224.6 325.0h.8M239.6 328.6h.8M233.0 344.5h.8M719.8 319.9h.8M506.3 337.2h.8M189.1 341.2h.8M366.1 323.5h.8M762.2 323.7h.8M609.1 327.3h.8M269.7 339.6h.8M408.8 343.3h.8M783.2 345.6h.8M436.0 343.3h.8M887.9 329.8h.8M566.2 339.8h.8M936.2 317.0h.8M540.3 332.6h.8M886.6 344.1h.8M380.0 349.0h.8M584.2 324.4h.8M294.3 337.8h.8M994.1 336.0h.8M483.8 321.3h.8M911.5 339.9h.8M266.6 329.8h.8M784.2 317.7h.8M716.8 342.4h.8M595.1 343.1h.8M537.2 336.5h.8M928.4 318.5h.8M940.2 336.1h.8M972.1 347.9h.8M935.8 329.7h.8M895.0 338.5h.8M994.4 350.9h.8M874.3 322.2h.8M477.0 321.8h.8M342.2 325.0h.8M556.0 338.6h.8M327.9 323.0h.8M776.3 349.4h.8M983.6 345.3h.8M477.8 338.5h.8M646.7 319.1h.8M956.0 330.0h.8M469.7 348.8h.8M220.7 334.5h.8M652.3 337.3h.8M987.3 338.5h.8M457.5 338.4h.8M307.1 317.0h.8M658.8 333.6h.8M520.3 344.4h.8M427.6 335.5h.8M537.4 315.2h.8M635.4 345.8h.8M208.0 347.3h.8M453.1 323.8h.8M909.1 344.8h.8M817.7 337.5h.8M614.0 334.0h.8M198.7 350.0h.8M723.1 327.7h.8M482.1 317.9h.8M850.9 342.6h.8M219.2 333.2h.8M712.0 345.2h.8M199.8 335.8h.8M191.7 325.7h.8M687.8 343.4h.8M536.9 344.9h.8M319.0 346.6h.8M847.3 337.0h.8M763.3 341.0h.8M839.9 331.5h.8M711.7 339.3h.8M634.3 346.3h.8M980.0 328.4h.8M609.7 329.7h.8M247.0 341.4h.8M356.5 321.2h.8M173.8 337.4h.8M891.7 323.8h.8M766.1 342.6h.8M357.9 327.0h.8M413.6 326.3h.8M456.6 324.7h.8M643.8 322.4h.8M990.0 339.8h.8M990.7 351.2h.8M899.0 350.8h.8M620.5 339.5h.8M808.9 342.1h.8M337.7 323.7h.8M624.7 324.9h.8M573.5 350.7h.8M810.0 345.4h.8M558.9 351.4h.8M380.3 328.6h.8M804.1 329.8h.8M534.9 325.9h.8M724.2 345.8h.8M612.0 331.4h.8M774.4 346.1h.8M423.7 341.1h.8M243.5 340.9h.8M775.1 332.2h.8M308.1 325.9h.8M261.0 325.1h.8M286.9 349.1h.8M374.2 334.7h.8M389.6 319.4h.8M950.3 343.2h.8M792.2 327.4h.8M633.8 344.2h.8M959.7 316.2h.8M174.0 341.6h.8M432.3 346.1h.8M524.0 318.8h.8M183.0 321.5h.8M422.2 351.2h.8M917.8 343.6h.8M341.0 348.6h.8M471.1 348.5h.8M313.8 344.4h.8M648.2 337.3h.8M418.9 334.2h.8M812.5 326.2h.8M451.2 317.9h.8M826.9 332.8h.8M562.0 341.6h.8M275.5 319.4h.8M673.4 349.1h.8M939.5 319.3h.8M191.2 327.2h.8M362.8 333.9h.8M862.9 340.9h.8M581.1 328.7h.8M324.4 330.2h.8M519.8 315.1h.8M320.5 326.8h.8M197.6 343.5h.8M261.8 347.6h.8M606.2 346.8h.8M829.8 349.2h.8M685.7 320.4h.8M269.2 345.4h.8M804.8 336.4h.8M945.1 341.3h.8M496.9 316.2h.8M451.5 315.8h.8M910.6 346.0h.8M620.9 316.9h.8M261.5 320.9h.8M812.6 325.2h.8M667.1 349.0h.8M967.1 349.0h.8M820.4 326.3h.8M429.3 327.9h.8M507.5 325.1h.8M199.4 317.3h.8M485.6 322.9h.8M558.7 322.5h.8M415.7 333.5h.8M184.2 335.7h.8M229.4 320.5h.8M731.3 338.1h.8M980.4 316.7h.8M965.7 349.5h.8M753.7 326.1h.8M671.4 351.1h.8M938.1 337.6h.8M662.2 322.4h.8M393.9 350.9h.8M937.7 343.7h.8M197.5 348.0h.8M997.7 325.6h.8M339.1 347.7h.8M916.2 328.7h.8M652.2 348.1h.8M509.8 316.7h.8M165.8 338.3h.8M210.9 314.4h.8M250.6 316.4h.8M868.8 325.9h.8M198.5 327.4h.8M576.6 335.6h.8M284.8 334.8h.8M835.9 348.1h.8M898.1 338.3h.8M386.3 344.7h.8M548.7 329.4h.8M641.1 319.2h.8M592.1 334.8h.8M992.7 345.5h.8M176.9 341.6h.8M425.8 348.4h.8M513.8 350.7h.8M935.6 335.9h.8M900.3 327.3h.8M775.3 324.8h.8M416.1 326.0h.8M335.9 333.1h.8M662.5 324.1h.8M303.8 341.1h.8M854.6 322.8h.8M983.5 348.5h.8M339.3 348.9h.8M770.2 325.3h.8M706.8 323.9h.8M595.9 332.8h.8M935.7 329.4h.8M713.4 331.8h.8M577.4 324.9h.8M643.4 348.2h.8M520.3 338.2h.8M525.7 332.9h.8M466.5 339.4h.8M521.1 340.1h.8M978.4 349.3h.8M177.2 326.3h.8M494.6 337.2h.8M659.5 340.3h.8M363.7 351.1h.8M896.1 317.0h.8M402.9 336.6h.8M434.7 350.2h.8M911.9 321.5h.8M365.3 344.2h.8M748.8 323.2h.8M557.0 339.5h.8M358.9 323.1h.8M887.5 320.5h.8M259.0 331.6h.8M989.6 326.6h.8M548.3 347.7h.8M213.8 325.9h.8M220.6 322.6h.8M721.5 336.3h.8M911.0 317.3h.8M680.3 349.1h.8M656.8 338.3h.8M372.4 317.5h.8M775.7 348.4h.8M355.1 341.1h.8M643.7 341.8h.8M531.8 322.5h.8M315.5 326.4h.8M440.4 316.8h.8M961.6 341.7h.8M671.5 348.7h.8M507.3 330.4h.8M698.4 341.1h.8M191.5 348.4h.8M633.2 346.9h.8M419.8 330.6h.8M918.7 334.7h.8M376.7 331.9h.8M394.3 323.8h.8M293.9 344.0h.8M531.0 318.4h.8M301.8 346.3h.8M273.5 345.6h.8M441.8 339.2h.8M800.3 338.9h.8M561.6 339.2h.8M812.6 318.6h.8M520.0 317.8h.8M373.3 315.3h.8M603.8 328.0h.8M482.9 343.6h.8M276.4 319.4h.8M464.7 327.3h.8M549.6 334.2h.8M336.6 346.7h.8M445.1 328.0h.8M618.9 351.4h.8M759.3 337.8h.8M220.8 344.0h.8M340.5 322.1h.8M624.5 341.7h.8M371.6 343.0h.8M398.0 341.0h.8M826.4 323.5h.8M748.7 319.4h.8M711.6 348.7h.8M200.3 347.1h.8M379.5 334.2h.8M852.7 331.9h.8M523.5 344.6h.8M986.7 325.0h.8M449.3 350.5h.8M986.8 344.2h.8M874.2 348.6h.8M710.9 340.6h.8M908.8 342.7h.8M247.6 346.1h.8M839.0 315.3h.8M702.4 328.0h.8M399.7 343.6h.8M235.8 315.0h.8M199.4 330.8h.8M456.6 346.4h.8M528.8 317.4h.8M370.9 347.1h.8M691.1 329.0h.8M591.4 346.7h.8M896.4 348.7h.8M309.1 344.6h.8M594.1 336.2h.8M627.5 326.1h.8M913.1 336.5h.8M198.2 321.7h.8M178.5 342.0h.8M283.1 331.2h.8M819.0 348.2h.8M410.0 320.8h.8M741.2 348.8h.8M738.9 323.3h.8M505.8 347.4h.8M715.9 342.0h.8M275.3 347.1h.8M500.7 348.3h.8M486.1 333.2h.8M626.2 338.9h.8M834.3 349.4h.8M439.7 317.3h.8M888.1 317.8h.8M805.1 333.9h.8M823.8 332.4h.8M261.6 344.2h.8M244.7 319.8h.8M433.2 338.8h.8M614.6 349.0h.8M755.2 323.2h.8M830.9 319.5h.8M429.2 347.7h.8M802.0 327.5h.8M474.7 341.1h.8M291.9 321.7h.8M549.5 322.5h.8M448.0 341.9h.8M593.6 325.3h.8M903.6 340.8h.8M744.8 338.9h.8M885.8 324.7h.8M628.9 340.4h.8M392.7 319.4h.8M835.0 342.5h.8M234.1 346.2h.8M972.0 350.6h.8M842.6 334.1h.8M627.8 333.7h.8M507.2 333.0h.8M238.5 317.9h.8M249.3 347.9h.8M727.2 329.7h.8M839.8 327.5h.8M943.8 350.3h.8M171.9 344.8h.8M816.5 347.5h.8M608.7 324.3h.8M294.1 334.2h.8M918.7 325.2h.8M496.9 336.1h.8M396.1 316.1h.8M819.6 328.0h.8M418.2 325.9h.8M571.4 323.1h.8M468.3 319.5h.8M737.4 337.1h.8M635.1 322.8h.8M606.9 316.1h.8M169.1 318.8h.8M762.1 335.7h.8M876.0 347.6h.8M446.3 326.6h.8M853.8 340.0h.8M997.1 329.3h.8M201.0 348.4h.8M227.1 332.5h.8M433.1 344.0h.8M538.6 349.6h.8M925.6 321.4h.8M631.7 337.4h.8M421.8 331.2h.8M454.0 315.4h.8M965.2 326.1h.8M856.0 349.7h.8M266.8 341.0h.8M268.8 338.2h.8M990.3 321.6h.8M967.4 345.3h.8M349.1 351.0h.8M392.6 350.2h.8M606.1 342.6h.8M728.3 332.9h.8M664.2 342.7h.8M779.5 327.7h.8M762.3 336.4h.8M552.2 343.1h.8M196.6 336.6h.8M680.0 346.5h.8M884.6 319.6h.8M879.1 322.3h.8M572.7 346.8h.8M390.5 325.7h.8M989.1 348.7h.8M168.2 340.8h.8M456.0 331.4h.8M257.2 321.2h.8M446.6 318.3h.8M439.2 342.5h.8M310.5 315.8h.8M657.6 321.9h.8M215.9 333.6h.8M778.0 315.0h.8M948.8 348.9h.8M476.1 314.4h.8M611.8 316.2h.8M375.7 350.9h.8M956.9 343.9h.8M633.4 340.5h.8M647.6 317.2h.8M957.4 319.7h.8M378.4 322.1h.8M178.4 338.4h.8M955.1 344.2h.8M471.1 332.0h.8M361.5 326.9h.8M710.4 349.2h.8M935.0 349.8h.8M747.4 340.9h.8M283.5 349.7h.8M1000.1 323.0h.8M547.9 323.3h.8M976.7 317.6h.8M609.8 343.5h.8M598.0 315.1h.8M775.7 328.5h.8M870.2 338.7h.8M631.9 320.9h.8M330.1 320.5h.8M183.6 333.8h.8M645.3 347.7h.8M936.6 337.6h.8M318.3 338.6h.8M659.2 338.0h.8M165.4 349.3h.8M761.4 348.1h.8M377.3 322.7h.8M885.9 319.5h.8M309.4 351.3h.8M795.8 331.4h.8M468.8 351.1h.8M525.0 344.8h.8M656.3 315.2h.8M338.6 349.7h.8M745.7 348.8h.8M350.1 337.6h.8M990.3 341.8h.8M428.0 336.2h.8M299.2 339.0h.8M750.5 341.8h.8M831.2 346.5h.8M248.2 330.2h.8M543.0 317.9h.8M251.2 325.3h.8M725.0 340.1h.8M270.6 330.8h.8M799.2 336.3h.8M559.4 327.8h.8M674.3 338.2h.8M319.1 336.7h.8M624.3 318.9h.8M997.7 333.0h.8M438.7 345.3h.8M692.0 325.6h.8M370.9 327.6h.8M1001.3 339.4h.8M950.7 337.7h.8M710.2 320.2h.8M333.6 341.0h.8M988.7 350.0h.8M419.9 336.2h.8M787.9 330.1h.8M943.1 328.5h.8M164.3 349.8h.8M193.7 337.9h.8M185.7 334.2h.8M693.7 345.9h.8M881.3 338.5h.8M968.4 340.6h.8M683.1 333.6h.8M383.7 323.9h.8M166.4 344.4h.8M432.1 319.5h.8M583.0 350.7h.8M413.9 330.9h.8M841.6 348.8h.8M816.8 339.4h.8M602.8 338.3h.8M530.8 314.7h.8M934.1 317.9h.8M780.3 327.2h.8M281.8 350.7h.8M860.1 328.3h.8M692.1 342.2h.8M387.1 317.8h.8M609.4 351.1h.8M448.7 340.9h.8M219.7 315.3h.8M920.6 322.4h.8M166.6 338.4h.8M256.6 326.2h.8M842.1 323.5h.8M827.3 348.5h.8M174.2 349.2h.8M869.7 321.8h.8M596.0 344.9h.8M882.0 348.5h.8M435.6 351.4h.8M987.6 338.5h.8M810.0 323.0h.8M650.5 314.9h.8M812.8 317.5h.8M971.3 349.5h.8M792.8 345.2h.8M435.3 341.2h.8M992.4 350.1h.8M527.9 348.2h.8M999.9 335.4h.8M751.9 334.5h.8M806.7 341.4h.8M509.9 325.4h.8M752.5 319.3h.8M422.5 321.0h.8M781.5 332.4h.8M505.4 332.6h.8M227.5 349.1h.8M424.2 348.4h.8M203.9 326.5h.8M776.6 330.7h.8M335.8 326.3h.8M855.9 330.5h.8M353.8 332.7h.8M494.2 343.7h.8M287.6 320.2h.8M693.5 317.3h.8M307.4 343.9h.8M590.3 350.1h.8M416.6 333.7h.8M567.2 318.3h.8M647.4 329.8h.8M653.9 323.7h.8M470.4 351.4h.8M985.6 323.4h.8M269.3 348.7h.8M349.5 329.0h.8M272.9 351.0h.8M577.6 351.3h.8M380.2 339.7h.8M335.2 351.4h.8M381.1 344.6h.8M435.0 338.5h.8M464.9 341.8h.8M179.1 321.4h.8M782.4 335.5h.8M165.4 344.9h.8M918.6 336.9h.8M335.3 322.2h.8M910.9 348.4h.8M583.4 332.9h.8M261.4 342.0h.8M681.7 328.3h.8M690.3 330.5h.8M480.1 349.9h.8M176.5 321.4h.8M888.6 318.5h.8M226.8 324.3h.8M307.2 341.0h.8M331.1 320.5h.8M850.2 321.6h.8M483.0 317.1h.8M381.2 332.3h.8M727.9 344.9h.8M483.3 349.0h.8M831.4 346.5h.8M277.1 343.4h.8M700.2 329.8h.8M603.2 320.7h.8M794.3 345.7h.8M611.6 347.0h.8M365.9 347.7h.8M227.6 340.9h.8M906.7 329.0h.8M236.6 345.4h.8M659.3 334.1h.8M185.3 349.2h.8M637.8 331.3h.8M230.4 324.2h.8M364.7 331.7h.8M607.4 341.2h.8M957.0 339.2h.8M518.1 333.7h.8M867.5 314.9h.8M808.7 333.7h.8M764.4 329.8h.8M967.8 315.6h.8M800.6 345.5h.8M640.0 337.6h.8M357.0 323.8h.8M348.5 326.8h.8M573.5 338.0h.8M755.9 326.2h.8M993.3 314.4h.8M834.2 343.9h.8M724.4 335.4h.8M952.0 337.3h.8M462.9 350.9h.8M557.5 334.0h.8M421.6 348.9h.8M569.1 349.8h.8M307.0 337.4h.8M455.1 335.2h.8M607.8 339.5h.8M275.0 351.1h.8M632.3 315.6h.8M399.0 340.8h.8M431.0 325.5h.8M576.8 323.2h.8M167.4 348.1h.8M336.0 340.2h.8M498.1 339.6h.8M973.2 337.6h.8M645.9 315.9h.8M701.6 331.5h.8M857.9 341.4h.8M193.2 316.2h.8M611.3 332.0h.8M218.9 325.4h.8M476.6 329.6h.8M401.0 317.9h.8M472.4 343.5h.8M913.0 345.3h.8M390.3 335.8h.8M985.9 348.6h.8M339.5 323.2h.8M226.1 338.5h.8M820.0 326.7h.8M828.4 348.6h.8M909.6 340.6h.8M846.1 336.3h.8M910.8 336.1h.8M379.3 347.6h.8M579.5 350.4h.8M300.6 319.8h.8M644.4 320.3h.8M289.6 336.0h.8M556.1 348.8h.8M384.0 317.8h.8M770.1 334.9h.8M674.4 320.4h.8M963.3 331.5h.8M205.2 319.9h.8M301.2 344.7h.8M278.0 334.8h.8M651.8 336.8h.8M557.3 347.9h.8M765.5 333.8h.8M422.2 321.6h.8M950.8 317.7h.8M989.3 349.9h.8M489.0 337.2h.8M378.3 325.4h.8M922.3 347.9h.8M587.7 315.8h.8M908.7 337.1h.8M250.8 336.9h.8M597.3 323.6h.8M319.1 343.4h.8M989.2 351.2h.8M675.6 349.2h.8M792.7 338.2h.8M939.4 345.3h.8M899.2 345.1h.8M203.0 349.4h.8M226.9 339.5h.8M978.5 340.7h.8M764.4 350.7h.8M595.8 333.7h.8M245.2 332.1h.8M537.2 341.7h.8M859.7 327.6h.8M264.0 348.9h.8M207.0 343.9h.8M697.1 315.7h.8M975.8 320.3h.8M267.4 323.4h.8M802.5 336.3h.8M998.4 331.3h.8M262.3 345.5h.8M271.8 330.9h.8M686.7 320.6h.8M171.6 351.2h.8M979.1 344.0h.8M384.7 320.2h.8M256.4 323.3h.8M915.4 332.8h.8M673.5 351.3h.8M672.0 330.8h.8M809.9 334.6h.8M258.6 345.3h.8M710.9 349.6h.8M252.6 344.3h.8M831.1 333.4h.8M462.4 315.9h.8M650.5 344.7h.8M637.4 320.7h.8M472.2 337.8h.8M647.4 314.9h.8M698.7 346.6h.8M651.3 341.9h.8M560.1 326.7h.8M180.0 335.0h.8M426.5 331.3h.8M851.5 336.5h.8M691.4 343.0h.8M377.8 334.9h.8M609.8 345.3h.8M804.9 335.3h.8M461.3 344.2h.8M865.1 318.6h.8M950.1 344.4h.8M222.7 330.0h.8M183.8 320.6h.8M732.7 341.3h.8M533.4 327.9h.8M297.4 340.3h.8M823.1 328.0h.8M654.1 349.0h.8M345.2 344.1h.8M189.4 329.7h.8M643.5 317.7h.8M628.2 317.9h.8M556.4 334.6h.8M399.0 336.6h.8M949.0 335.7h.8M164.8 340.7h.8M328.9 330.4h.8M590.2 336.2h.8M940.9 324.6h.8M236.2 350.8h.8M750.9 331.4h.8M710.4 335.2h.8M193.0 337.1h.8M863.9 331.2h.8M200.1 348.3h.8M922.1 333.5h.8M301.0 327.0h.8M938.9 320.2h.8M704.4 322.7h.8M236.5 336.7h.8M842.8 341.2h.8M283.7 320.2h.8M754.1 351.3h.8M216.4 333.0h.8M963.4 330.6h.8M898.1 348.9h.8M646.2 346.6h.8M441.5 347.6h.8M552.1 350.5h.8M713.9 329.4h.8M922.1 324.4h.8M226.4 320.1h.8M618.5 317.1h.8M575.8 349.6h.8M753.7 346.9h.8M988.6 333.7h.8M920.0 335.5h.8M436.9 328.8h.8M758.5 336.8h.8M394.2 338.3h.8M762.7 345.1h.8M295.4 335.9h.8M715.1 350.0h.8M390.8 315.6h.8M387.1 324.2h.8M419.4 349.4h.8M570.9 320.0h.8M815.0 350.4h.8M753.1 330.5h.8M567.7 328.7h.8M600.8 346.6h.8M746.5 348.2h.8M423.0 320.8h.8M639.7 334.8h.8M758.7 335.5h.8M485.2 333.2h.8M181.7 340.8h.8M196.1 314.5h.8M924.7 329.1h.8M295.7 320.7h.8M400.4 322.8h.8M709.3 331.1h.8M785.1 343.8h.8M862.9 333.6h.8M798.2 321.3h.8M376.6 338.6h.8M466.4 349.7h.8M897.6 327.8h.8M574.0 333.5h.8M901.1 349.9h.8M463.2 327.8h.8M611.6 335.4h.8M380.1 345.3h.8M725.3 341.2h.8M949.5 318.6h.8M977.1 343.5h.8M594.6 348.9h.8M464.4 349.7h.8M583.8 316.2h.8M802.7 340.4h.8M394.7 317.3h.8M207.2 321.1h.8M881.2 349.9h.8M960.9 329.4h.8M489.3 338.1h.8M673.5 334.2h.8M891.1 318.9h.8M437.0 351.3h.8M816.3 329.4h.8M712.6 349.8h.8M226.6 318.8h.8M468.3 336.3h.8M979.6 346.2h.8M695.9 350.1h.8M633.8 325.6h.8M295.1 324.7h.8M975.7 321.9h.8M826.3 316.6h.8M764.3 333.4h.8M854.7 322.8h.8M690.8 328.5h.8M312.7 341.3h.8M436.0 320.5h.8M818.7 343.0h.8M996.9 350.1h.8M214.7 341.7h.8M227.8 316.5h.8M463.9 339.5h.8M880.3 334.0h.8M692.0 337.6h.8M549.1 316.2h.8M395.7 334.3h.8M564.5 347.9h.8M285.8 335.0h.8M833.1 337.8h.8M212.6 317.2h.8M278.4 319.4h.8M200.9 329.3h.8M285.5 344.0h.8M516.7 324.9h.8M528.1 338.4h.8M500.6 334.4h.8M398.5 316.4h.8M322.7 348.1h.8M623.2 340.8h.8M768.2 350.6h.8M730.7 340.4h.8M941.0 342.6h.8M526.2 342.0h.8M610.5 343.3h.8M724.8 338.6h.8M757.1 342.9h.8M546.1 333.0h.8M765.8 329.2h.8M523.0 349.4h.8M257.2 347.7h.8M317.2 346.5h.8M718.4 341.2h.8M924.9 344.9h.8M369.2 346.6h.8M284.1 328.0h.8M648.3 344.3h.8M842.9 328.2h.8M522.7 331.0h.8M713.9 337.5h.8M239.9 340.3h.8M956.8 340.0h.8M699.1 349.4h.8M812.4 320.3h.8M476.0 340.1h.8M593.3 344.3h.8M339.1 348.2h.8M739.4 334.9h.8M965.3 316.0h.8M896.5 316.8h.8M866.2 351.0h.8M271.7 315.4h.8M896.1 330.7h.8M682.9 337.7h.8M519.4 347.7h.8M622.8 343.5h.8M265.3 320.0h.8M645.2 319.8h.8M409.6 332.2h.8M395.3 321.7h.8M338.4 329.4h.8M628.6 341.7h.8M230.1 335.8h.8M601.8 322.3h.8M333.4 346.5h.8M419.3 322.9h.8M357.8 329.9h.8M189.9 349.5h.8M757.3 335.4h.8M257.6 336.3h.8M952.1 339.4h.8M630.4 338.3h.8M587.0 350.5h.8M903.8 332.1h.8M454.2 343.2h.8M319.9 317.2h.8M868.6 339.8h.8M669.0 333.2h.8M331.0 350.8h.8M780.0 347.2h.8M637.0 351.1h.8M181.3 347.1h.8M711.4 330.8h.8M994.5 328.9h.8M601.1 351.2h.8M966.8 335.7h.8M882.8 350.6h.8M863.7 336.2h.8M344.9 338.8h.8M226.0 332.1h.8M346.8 327.2h.8M308.7 327.6h.8M681.1 326.7h.8M960.4 342.8h.8M736.0 339.1h.8M913.1 322.0h.8M803.7 331.3h.8M382.4 318.4h.8M975.8 316.5h.8M446.8 322.1h.8M732.6 321.3h.8M836.0 337.0h.8M494.6 323.2h.8M712.2 333.7h.8M896.0 350.8h.8M174.2 336.6h.8M244.7 321.2h.8M237.0 319.5h.8M351.8 348.1h.8M795.4 328.2h.8M507.3 331.5h.8M627.0 316.6h.8M588.8 333.7h.8M550.6 338.6h.8M741.9 348.7h.8M743.8 317.5h.8M801.6 333.6h.8M459.5 349.1h.8M240.5 333.7h.8M901.4 320.2h.8M316.8 325.2h.8M840.2 336.0h.8M883.1 346.4h.8M444.5 334.7h.8M772.7 337.2h.8M416.5 320.2h.8M491.8 338.3h.8M350.6 335.9h.8M755.5 340.4h.8M718.6 335.5h.8M173.0 316.0h.8M404.7 333.5h.8M967.5 345.8h.8M216.6 345.8h.8M291.3 320.8h.8M597.0 350.6h.8M390.9 334.8h.8M309.3 342.4h.8M922.0 337.4h.8M358.7 331.4h.8M257.6 334.5h.8M706.6 349.4h.8M623.2 342.3h.8M787.8 330.7h.8M926.0 331.0h.8M316.5 346.5h.8M753.4 322.6h.8M215.5 338.4h.8M400.3 336.5h.8M895.0 332.9h.8M787.4 324.5h.8M396.0 330.6h.8M477.7 336.2h.8M608.1 328.6h.8M304.3 321.4h.8M298.1 342.2h.8M875.5 315.0h.8M470.7 316.4h.8M194.4 316.3h.8M331.6 350.7h.8M802.3 347.2h.8M794.1 351.3h.8M267.0 340.6h.8M233.8 336.4h.8M453.4 325.6h.8M576.5 315.9h.8M870.7 346.9h.8M932.7 318.9h.8M637.0 334.2h.8M305.6 341.9h.8M347.7 346.1h.8M678.2 341.8h.8M807.1 332.4h.8M857.1 349.4h.8M873.8 335.0h.8M693.4 344.8h.8M747.0 338.8h.8M768.3 331.9h.8M280.6 342.6h.8M793.9 351.1h.8M693.1 333.5h.8M762.7 341.6h.8M563.2 336.1h.8M791.6 349.8h.8M591.1 344.0h.8M657.4 344.0h.8M336.0 345.0h.8M913.8 340.4h.8M901.5 325.8h.8M388.6 333.1h.8M170.3 317.3h.8M692.4 348.7h.8M598.4 335.4h.8M725.7 343.0h.8M926.3 330.4h.8M224.0 322.2h.8M905.2 342.5h.8M759.9 320.4h.8M902.9 349.9h.8M865.1 344.4h.8M835.8 327.8h.8M553.7 318.6h.8M837.0 314.6h.8M967.4 332.4h.8M779.6 328.4h.8M498.8 335.3h.8M589.1 345.5h.8M382.0 321.1h.8M872.9 327.3h.8M740.7 334.9h.8M643.9 328.6h.8M169.2 337.4h.8M976.6 345.8h.8M555.2 349.7h.8M376.9 322.0h.8M190.5 323.1h.8M832.5 320.1h.8M378.7 317.3h.8M474.9 337.2h.8M960.7 333.5h.8M734.3 348.8h.8M167.0 343.9h.8M251.7 322.0h.8M372.5 316.2h.8M732.1 346.3h.8M759.3 342.0h.8M605.1 349.7h.8M861.7 323.6h.8M650.4 327.6h.8M448.2 348.3h.8M435.8 325.6h.8M635.4 348.0h.8M365.0 336.2h.8M175.1 350.5h.8M540.4 348.1h.8M908.8 348.2h.8M791.7 323.3h.8M427.7 333.6h.8M995.4 330.6h.8M487.8 315.4h.8M380.9 316.3h.8M423.0 338.2h.8M427.8 329.2h.8M903.3 327.7h.8M315.7 314.8h.8M769.4 335.0h.8M875.9 348.8h.8M664.8 323.6h.8M814.6 328.3h.8M215.5 336.1h.8M388.5 331.0h.8M496.0 336.9h.8M614.3 331.8h.8M910.0 343.3h.8M393.6 346.5h.8M257.4 320.9h.8M934.5 348.3h.8M465.3 318.5h.8M887.9 315.3h.8M995.7 342.5h.8M218.8 344.4h.8M584.5 351.1h.8M375.8 336.3h.8M734.9 347.4h.8M266.3 341.6h.8M239.2 348.4h.8M249.5 323.0h.8M900.6 350.5h.8M837.9 321.2h.8M709.1 342.7h.8M851.0 349.6h.8M202.1 316.3h.8M348.7 318.1h.8M795.7 350.4h.8M242.2 329.4h.8M285.5 328.6h.8M727.2 345.0h.8M562.8 345.6h.8M894.0 330.1h.8M742.8 330.4h.8M214.1 319.3h.8M816.9 334.7h.8M658.4 335.6h.8M796.8 334.0h.8M396.0 334.6h.8M342.3 351.3h.8M600.0 320.0h.8M766.6 345.7h.8M589.5 332.0h.8M649.1 336.8h.8M590.4 327.7h.8M902.3 334.6h.8M820.9 328.1h.8M263.3 344.1h.8M426.1 340.7h.8M575.1 342.8h.8M1000.2 325.8h.8M474.4 327.2h.8M938.7 347.3h.8M690.9 316.1h.8M477.9 319.7h.8M837.3 341.9h.8M284.1 322.8h.8M511.6 340.9h.8M552.1 326.1h.8M913.2 318.0h.8M806.0 346.8h.8M472.8 351.3h.8M331.3 341.2h.8M311.7 336.2h.8M273.6 329.2h.8M507.9 344.5h.8M738.4 341.7h.8M183.0 321.4h.8M795.7 319.7h.8M409.5 343.9h.8M747.3 347.7h.8M974.0 329.1h.8M623.1 350.3h.8M400.7 338.2h.8M985.8 347.7h.8M659.5 349.7h.8M977.9 325.3h.8M844.6 325.2h.8M313.8 344.7h.8M196.0 333.2h.8M231.1 346.4h.8M309.1 317.8h.8M825.5 343.1h.8M977.6 347.3h.8M280.9 339.7h.8M838.9 349.1h.8M824.8 333.5h.8M832.9 341.4h.8M198.3 349.1h.8M769.8 335.0h.8M803.8 346.1h.8M397.3 345.6h.8M876.8 327.1h.8M292.9 326.2h.8M195.5 336.5h.8M378.8 324.5h.8M766.0 327.9h.8M328.5 350.5h.8M700.0 327.5h.8M170.8 321.4h.8M915.9 340.5h.8M598.5 329.2h.8M939.7 329.3h.8M595.7 324.3h.8M574.0 350.8h.8M622.2 338.5h.8M444.2 339.3h.8M348.6 342.2h.8M789.8 319.4h.8M545.9 321.1h.8M268.3 334.6h.8M787.6 323.8h.8M487.9 347.0h.8M969.1 330.9h.8M711.0 341.0h.8M257.9 332.5h.8M502.5 319.2h.8M719.5 324.9h.8M641.0 325.0h.8M275.4 314.5h.8M650.3 331.4h.8M322.1 349.3h.8M754.7 326.1h.8M722.3 344.2h.8M571.5 324.4h.8M700.5 318.3h.8M237.9 324.1h.8M174.1 330.3h.8M611.2 349.8h.8M514.5 328.5h.8M890.7 349.7h.8M590.6 323.2h.8M261.0 319.0h.8M950.7 341.1h.8M338.2 347.7h.8M347.2 338.3h.8M756.2 317.1h.8M631.6 316.4h.8M521.1 329.0h.8M163.1 338.3h.8M182.1 348.1h.8M841.5 348.6h.8M414.5 334.2h.8M603.7 350.8h.8M255.7 328.2h.8M502.6 349.3h.8M564.5 340.1h.8M1001.6 350.4h.8M314.2 349.7h.8M625.5 316.1h.8M815.4 348.7h.8M615.7 340.6h.8M983.0 326.9h.8M669.9 344.1h.8M529.4 334.2h.8M480.7 332.7h.8M238.6 338.3h.8M991.0 339.1h.8M587.5 325.0h.8M844.5 325.7h.8M482.9 326.7h.8M330.5 330.6h.8M176.4 346.3h.8M309.9 340.8h.8M782.3 351.0h.8M898.2 349.3h.8M960.4 316.6h.8M678.6 321.3h.8M952.4 337.3h.8M881.1 350.7h.8M818.1 329.4h.8M814.5 347.6h.8M232.9 334.4h.8M671.8 327.7h.8M313.3 332.6h.8M975.8 344.3h.8M850.8 316.1h.8M727.5 337.5h.8M514.0 336.5h.8M267.6 349.7h.8M397.7 346.9h.8M917.7 340.4h.8M897.5 332.8h.8M916.4 318.9h.8M759.7 337.2h.8M367.5 332.7h.8M424.5 321.8h.8M198.8 329.8h.8M447.5 338.3h.8M618.0 315.1h.8M996.5 340.6h.8M966.2 316.3h.8M604.4 332.8h.8M328.7 323.5h.8M570.3 324.6h.8M936.4 330.4h.8M746.1 333.3h.8M272.9 336.8h.8M215.4 346.6h.8M985.7 339.8h.8M276.4 337.7h.8M213.3 331.0h.8M354.6 345.4h.8M697.4 317.6h.8M174.4 326.6h.8M651.3 335.8h.8M516.5 351.2h.8M458.1 334.3h.8M444.4 314.6h.8M448.4 321.1h.8M843.1 323.3h.8M575.7 335.3h.8M870.8 348.5h.8M351.6 351.2h.8M575.3 337.0h.8M964.9 317.4h.8M503.6 335.4h.8M251.1 325.0h.8M598.5 347.0h.8M898.7 350.5h.8M324.5 336.1h.8M999.5 347.9h.8M386.6 323.4h.8M445.1 317.5h.8M178.8 344.8h.8M422.9 321.0h.8M248.7 328.3h.8M907.0 315.5h.8M839.2 350.4h.8M568.3 345.4h.8M265.3 344.6h.8M779.8 332.3h.8M272.4 343.1h.8M218.4 317.6h.8M795.7 336.3h.8M969.5 315.3h.8M336.4 344.2h.8M323.5 330.2h.8M662.2 334.5h.8M812.4 334.1h.8M427.0 328.5h.8M959.3 350.4h.8M570.9 347.9h.8M789.8 337.9h.8M866.8 328.5h.8M967.8 332.1h.8M662.8 315.5h.8M836.8 341.3h.8M249.8 317.8h.8M216.4 317.7h.8M946.1 328.8h.8M959.1 331.0h.8M788.8 331.5h.8M349.6 349.6h.8M786.4 337.1h.8M267.6 332.9h.8M385.3 343.9h.8M898.1 330.6h.8M790.7 322.3h.8M529.4 337.1h.8M525.5 340.6h.8M816.2 319.4h.8M413.0 326.8h.8M343.7 351.3h.8M737.9 324.0h.8M439.7 314.5h.8M766.3 341.9h.8M800.8 321.2h.8M280.7 318.2h.8M527.4 343.5h.8M479.9 334.1h.8M605.3 342.8h.8M213.4 330.1h.8M765.1 327.4h.8M495.7 320.6h.8M177.5 348.2h.8M178.4 333.1h.8M601.9 345.1h.8M603.9 351.3h.8M193.3 316.0h.8M906.1 349.9h.8M713.2 334.9h.8M614.7 321.3h.8M701.0 316.9h.8M735.0 318.1h.8M260.7 322.1h.8M431.1 317.8h.8M827.1 315.8h.8M796.7 339.4h.8M602.4 323.8h.8M211.6 333.7h.8M639.6 326.5h.8M450.0 331.1h.8M780.5 339.7h.8M734.9 318.6h.8M472.9 334.2h.8M569.0 321.4h.8M389.5 343.1h.8M492.3 329.2h.8M292.6 315.3h.8M585.0 326.0h.8M509.0 350.9h.8M486.5 332.4h.8M238.8 315.2h.8M655.6 336.8h.8M187.2 344.5h.8M446.0 329.3h.8M309.1 335.8h.8M390.1 332.7h.8M740.3 334.6h.8M792.4 330.4h.8M233.2 329.0h.8M568.9 324.8h.8M949.2 340.8h.8M876.2 345.0h.8M708.4 351.3h.8M855.1 337.3h.8M544.5 335.3h.8M475.4 345.0h.8M743.8 330.2h.8M208.7 343.7h.8M944.7 343.2h.8M409.2 332.2h.8M475.7 316.6h.8M987.5 348.2h.8M351.7 346.9h.8M536.1 343.2h.8M728.8 319.4h.8M222.9 350.9h.8M257.1 342.3h.8M275.3 337.9h.8M468.0 326.1h.8M974.3 315.3h.8M515.8 329.6h.8M273.9 330.9h.8M904.3 319.4h.8M280.6 347.1h.8M919.6 327.3h.8M802.7 349.9h.8M681.9 351.0h.8M781.2 323.3h.8M433.2 351.4h.8M777.9 314.4h.8M683.6 340.3h.8M439.0 322.5h.8M975.7 340.3h.8M348.4 314.5h.8M521.7 337.5h.8M423.8 326.2h.8M987.3 336.4h.8M880.4 339.0h.8M517.1 322.9h.8M977.6 324.9h.8M754.3 321.9h.8M934.2 316.4h.8M609.0 339.5h.8M168.9 334.2h.8M461.1 351.4h.8M996.2 342.4h.8M944.9 351.1h.8M464.9 323.7h.8M727.7 328.3h.8M572.6 349.3h.8M860.5 324.7h.8M563.9 332.8h.8M837.5 335.5h.8M562.0 335.8h.8M780.6 325.7h.8M443.9 324.0h.8M478.1 328.3h.8M479.6 318.8h.8M951.8 324.0h.8M482.8 340.8h.8M526.6 331.1h.8M191.3 333.5h.8M942.0 350.0h.8M910.8 332.4h.8M1000.0 326.3h.8M766.1 325.0h.8M516.4 348.5h.8M880.1 319.7h.8M768.2 345.4h.8M582.0 334.7h.8M468.4 335.7h.8M546.9 315.2h.8M689.0 315.4h.8M925.1 346.7h.8M810.1 339.7h.8M664.2 332.8h.8M783.6 342.6h.8M731.8 340.2h.8M819.4 335.5h.8M702.7 314.5h.8M398.1 351.3h.8M914.4 334.3h.8M705.1 321.7h.8M910.1 339.6h.8M991.3 339.4h.8M772.7 321.7h.8M467.4 338.3h.8M470.5 341.2h.8M508.6 321.0h.8M213.9 314.8h.8M826.3 332.9h.8M701.8 342.7h.8M804.5 319.8h.8M483.4 335.3h.8M346.6 344.3h.8M877.9 329.6h.8M538.2 329.7h.8M318.4 351.3h.8M462.7 332.3h.8M317.9 333.6h.8M435.8 343.9h.8M783.9 340.5h.8M785.8 325.2h.8M478.1 350.8h.8M870.1 333.2h.8M649.7 327.8h.8M623.3 318.4h.8M170.4 315.7h.8M680.1 338.8h.8M924.2 318.9h.8M663.4 351.2h.8M686.1 338.6h.8M644.5 321.7h.8M273.6 321.1h.8M423.6 344.3h.8M194.3 348.9h.8M387.7 334.1h.8M951.5 346.9h.8M405.5 340.0h.8M700.0 340.7h.8M725.0 347.6h.8M199.7 332.1h.8M770.3 348.1h.8M203.3 328.5h.8M218.0 317.6h.8M742.4 347.3h.8M506.6 350.2h.8M236.6 340.8h.8M899.3 318.3h.8M794.9 329.8h.8M653.1 334.8h.8M713.3 335.4h.8M496.7 321.5h.8M415.5 338.8h.8M732.9 315.9h.8M452.1 337.8h.8M500.3 345.7h.8M460.7 323.5h.8M320.6 336.1h.8M401.3 332.2h.8M811.8 348.6h.8M571.1 346.4h.8M705.4 328.1h.8M348.6 345.0h.8M417.3 341.6h.8M912.0 319.9h.8M827.0 339.3h.8M546.6 346.0h.8M549.1 316.5h.8M239.6 339.3h.8M326.9 321.1h.8M415.9 335.7h.8M206.7 327.6h.8M594.3 323.0h.8M768.3 325.4h.8M383.5 344.3h.8M664.5 350.4h.8M949.0 326.4h.8M577.0 340.5h.8M228.0 333.1h.8M811.6 348.5h.8M246.1 327.8h.8M557.3 323.4h.8M508.2 315.1h.8M895.1 341.9h.8M613.1 331.8h.8M540.9 322.3h.8M754.7 322.2h.8M375.2 335.1h.8M619.0 332.0h.8M176.5 322.5h.8M538.9 347.3h.8M880.3 333.0h.8M784.2 325.6h.8M685.5 318.1h.8M209.9 341.5h.8M300.4 329.8h.8M347.2 350.9h.8M277.3 346.8h.8M616.3 337.0h.8M552.8 351.2h.8M606.2 344.2h.8M239.7 350.2h.8M289.6 339.0h.8M302.9 336.7h.8M300.3 325.8h.8M897.9 341.8h.8M223.2 315.9h.8M233.6 329.3h.8M797.8 335.9h.8M910.6 347.7h.8M767.5 318.4h.8M915.7 320.9h.8M529.2 334.8h.8M875.1 339.8h.8M377.1 350.8h.8M334.3 347.9h.8M942.7 342.3h.8M458.7 315.4h.8M742.7 337.8h.8M251.5 340.3h.8M407.1 316.6h.8M516.0 315.5h.8M389.6 350.4h.8M917.5 349.7h.8M824.2 331.5h.8M401.2 321.6h.8M523.1 315.1h.8M631.2 316.8h.8M943.7 339.9h.8M743.1 326.1h.8M712.6 351.0h.8M740.3 324.6h.8M325.5 349.2h.8M219.6 333.5h.8M252.1 321.0h.8M511.4 314.5h.8M778.8 338.0h.8M316.2 338.1h.8M672.4 320.4h.8M911.3 341.8h.8M182.6 328.7h.8M739.7 329.4h.8M836.9 322.5h.8M687.8 322.1h.8M268.0 316.7h.8M722.1 349.2h.8M304.3 329.6h.8M419.8 317.1h.8M397.0 335.8h.8M585.5 317.0h.8M418.0 319.1h.8M769.9 332.5h.8M956.8 319.4h.8M791.8 333.5h.8M199.8 345.3h.8M709.0 348.6h.8M702.6 341.0h.8M488.1 322.1h.8M868.4 325.2h.8M537.7 333.8h.8M989.9 317.6h.8M672.8 349.6h.8M919.5 350.5h.8M261.3 328.9h.8M327.8 325.0h.8M739.0 347.1h.8M925.1 314.4h.8M714.1 315.1h.8M835.2 336.3h.8M854.7 317.0h.8M747.0 349.5h.8M475.5 327.1h.8M470.0 347.1h.8M545.8 347.9h.8M561.0 349.1h.8M772.7 345.6h.8M948.1 348.8h.8M692.6 329.5h.8M329.9 330.2h.8M623.8 330.7h.8M318.3 336.1h.8M864.4 330.6h.8M367.5 341.4h.8M900.6 350.3h.8M564.1 334.7h.8M523.9 351.4h.8M252.2 321.2h.8M544.8 342.9h.8M541.8 350.3h.8M231.2 321.8h.8M800.4 346.1h.8M429.4 349.7h.8M429.7 334.4h.8M794.5 335.0h.8M874.3 314.4h.8M639.0 350.5h.8M275.8 328.4h.8M272.3 318.8h.8M208.5 350.2h.8M998.5 338.8h.8M628.7 331.5h.8M262.4 341.4h.8M472.4 325.7h.8M819.3 327.4h.8M314.7 336.7h.8M931.3 346.8h.8M455.7 330.7h.8M998.0 350.9h.8M742.9 336.7h.8M606.8 321.3h.8M243.4 331.4h.8M428.9 324.9h.8M762.4 338.5h.8M290.6 324.5h.8M751.0 332.8h.8M788.7 316.6h.8M368.1 327.7h.8M839.9 343.8h.8M920.7 342.2h.8M965.1 332.0h.8M979.2 319.4h.8M819.0 340.1h.8M547.5 331.8h.8M838.5 338.4h.8M917.2 345.5h.8M600.0 347.7h.8M306.3 343.0h.8M202.9 332.5h.8M683.3 339.2h.8M832.3 333.5h.8M736.3 349.5h.8M439.6 351.0h.8M297.1 320.9h.8M276.7 331.5h.8M479.8 328.4h.8M894.2 321.8h.8M972.5 315.8h.8M497.4 314.9h.8M802.8 343.4h.8M438.4 334.3h.8M872.3 349.1h.8M910.7 328.4h.8M660.5 338.8h.8M483.1 338.8h.8M763.5 337.4h.8M761.8 319.8h.8M235.9 351.1h.8M952.7 346.2h.8M846.1 338.9h.8M351.6 351.2h.8M522.6 331.3h.8M208.6 351.2h.8M404.1 319.5h.8M792.3 344.1h.8M501.5 338.4h.8M757.5 343.2h.8M461.0 335.1h.8M361.9 338.0h.8M790.4 335.1h.8M209.9 340.9h.8M641.4 345.0h.8M488.2 332.9h.8M468.7 346.6h.8M897.1 350.0h.8M923.4 349.2h.8M627.8 333.5h.8M506.6 330.3h.8M904.2 342.0h.8M213.4 346.0h.8M900.0 331.4h.8M795.7 339.4h.8M434.7 327.6h.8M639.5 318.1h.8M297.8 341.1h.8M743.0 318.4h.8M554.5 323.6h.8M254.9 329.7h.8M439.2 327.5h.8M412.5 346.4h.8M388.8 326.2h.8M760.6 318.2h.8M510.2 350.0h.8M841.5 344.1h.8M765.3 335.7h.8M535.6 350.8h.8M353.3 325.2h.8M548.7 319.5h.8M840.0 333.9h.8M987.7 351.4h.8M499.4 333.9h.8M208.2 320.0h.8M288.6 332.1h.8M390.4 339.7h.8M553.5 343.0h.8M306.7 328.6h.8M688.4 349.6h.8M979.4 348.9h.8M350.2 343.3h.8M468.8 335.6h.8M920.7 349.0h.8M644.8 330.3h.8M379.1 340.7h.8M536.3 319.3h.8M814.8 336.0h.8M220.9 340.6h.8M848.2 337.8h.8M490.8 329.7h.8M197.0 329.4h.8M738.2 348.7h.8M513.0 320.6h.8M383.1 334.1h.8M453.1 333.2h.8M491.0 341.1h.8M938.8 327.5h.8M1000.9 341.4h.8M554.4 340.3h.8M890.3 340.2h.8M733.6 346.8h.8M618.0 343.7h.8M929.6 340.3h.8M962.4 332.6h.8M449.2 333.3h.8M944.0 327.5h.8M854.6 332.6h.8M681.8 347.9h.8M860.9 329.7h.8M707.0 342.5h.8M803.2 334.2h.8M431.8 314.7h.8M811.0 328.1h.8M867.6 327.4h.8M485.7 316.3h.8M923.0 328.4h.8M527.8 335.2h.8M201.3 319.2h.8M860.0 331.5h.8M553.9 322.9h.8M180.9 339.0h.8M373.3 331.0h.8M460.1 331.0h.8M915.9 338.6h.8M259.4 351.2h.8M863.9 336.5h.8M533.4 350.8h.8M249.5 351.4h.8M914.5 350.4h.8M433.0 336.3h.8M644.0 345.3h.8M704.8 329.7h.8M989.2 349.2h.8M411.2 349.0h.8M406.0 345.6h.8M188.4 322.7h.8M394.0 325.4h.8M845.8 323.2h.8M183.9 331.8h.8M877.1 330.0h.8M669.7 338.1h.8M853.2 333.9h.8M458.2 335.4h.8M558.5 346.4h.8M727.4 321.6h.8M711.5 351.2h.8M502.8 324.5h.8M273.0 335.0h.8M736.3 333.9h.8M440.3 351.1h.8M753.7 347.1h.8M667.5 334.3h.8M769.5 348.7h.8M980.0 325.2h.8M895.2 346.5h.8M767.3 339.8h.8M750.4 327.3h.8M506.0 316.6h.8M530.7 336.5h.8M763.0 347.5h.8M914.6 341.5h.8M907.6 347.7h.8M266.9 331.7h.8M364.9 337.6h.8M331.0 326.2h.8M781.6 327.8h.8M275.7 350.4h.8M652.0 349.6h.8M763.8 333.4h.8M945.2 322.3h.8M712.8 321.9h.8M588.8 343.0h.8M214.4 327.1h.8M721.6 330.0h.8M592.5 337.0h.8M934.2 339.9h.8M280.4 316.5h.8M801.9 318.9h.8M989.9 337.7h.8M293.4 335.5h.8M574.2 339.5h.8M822.6 344.4h.8M977.1 345.6h.8M401.2 321.8h.8M359.3 326.2h.8M392.7 338.7h.8M557.0 344.5h.8M853.7 316.9h.8M938.9 347.3h.8M184.6 337.5h.8M784.1 333.4h.8M969.0 314.9h.8M735.8 344.0h.8M500.0 350.0h.8M493.4 325.1h.8M428.3 346.5h.8M615.0 318.9h.8M704.7 348.8h.8M525.2 345.1h.8M844.2 338.4h.8M535.2 319.7h.8M412.1 337.2h.8M985.5 342.4h.8M615.7 329.3h.8M443.9 330.1h.8M516.6 321.7h.8M630.1 326.1h.8M643.9 327.3h.8M490.2 347.6h.8M468.0 341.7h.8M175.1 324.3h.8M603.3 336.0h.8M754.0 350.0h.8M268.4 326.5h.8M197.2 320.1h.8M589.3 315.8h.8M883.8 338.7h.8M451.4 337.8h.8M808.5 336.7h.8M767.1 314.7h.8M791.3 334.7h.8M785.7 335.5h.8M650.3 338.3h.8M947.8 314.9h.8M639.6 333.0h.8M249.5 332.7h.8M942.7 344.6h.8M813.0 344.2h.8M761.8 343.3h.8M662.7 324.1h.8M190.1 321.3h.8M602.3 344.6h.8M420.8 333.1h.8M784.8 346.7h.8M221.9 345.0h.8M695.3 338.9h.8M803.1 326.1h.8M471.6 331.7h.8M285.3 330.9h.8M706.1 344.8h.8M722.1 347.9h.8M978.4 333.4h.8M936.7 328.5h.8M343.0 325.9h.8M678.6 339.8h.8M744.3 324.7h.8M733.3 345.4h.8M973.0 318.3h.8M527.2 317.6h.8M996.5 341.1h.8M323.4 344.6h.8M573.8 347.8h.8M362.1 325.9h.8M178.7 330.8h.8M505.2 326.8h.8M380.1 336.1h.8M341.7 351.1h.8M888.2 340.3h.8M410.6 317.2h.8M473.5 333.6h.8M281.0 338.6h.8M897.4 322.0h.8M849.3 318.1h.8M356.6 350.3h.8M272.2 329.3h.8M620.8 340.2h.8M760.5 345.4h.8M673.1 338.4h.8M280.0 324.1h.8M317.7 323.0h.8M801.6 337.7h.8M543.4 345.9h.8M280.0 327.4h.8M474.1 332.8h.8M471.8 343.8h.8M299.8 324.6h.8M526.2 347.5h.8M895.7 347.5h.8M355.3 347.4h.8M632.5 324.0h.8M189.0 317.6h.8M752.3 321.7h.8M516.9 337.7h.8M241.8 343.9h.8M893.6 343.2h.8M918.8 321.6h.8M935.4 347.9h.8M517.7 321.6h.8M424.2 344.5h.8M180.2 333.9h.8M624.5 345.6h.8M380.3 330.0h.8M307.9 323.6h.8M894.8 338.3h.8M272.3 332.5h.8M410.8 348.9h.8M758.1 332.9h.8M390.7 344.5h.8M770.3 318.0h.8M458.1 331.9h.8M348.2 336.6h.8M650.0 342.5h.8M670.5 333.6h.8M199.5 348.5h.8M510.5 347.7h.8M621.3 331.6h.8M687.5 319.4h.8M673.3 324.2h.8M259.9 319.9h.8M943.0 331.7h.8M857.4 333.3h.8M527.6 347.3h.8M566.2 326.7h.8M829.4 319.0h.8M597.7 316.8h.8M475.1 351.1h.8M520.6 333.7h.8M811.4 344.9h.8M184.2 326.3h.8M323.4 320.8h.8M637.9 348.0h.8M600.1 324.2h.8M350.7 316.3h.8M210.4 347.6h.8M661.8 328.2h.8M668.2 317.7h.8M331.9 350.5h.8M613.8 340.8h.8M495.4 339.2h.8M903.2 343.2h.8M743.6 332.6h.8M401.4 318.2h.8M377.4 342.6h.8M324.6 327.2h.8M744.6 340.3h.8M261.7 331.5h.8M446.1 333.3h.8M713.0 351.4h.8M201.3 322.2h.8M891.2 349.4h.8M350.1 338.1h.8M861.7 342.3h.8M965.5 349.3h.8M922.6 350.2h.8M667.9 315.6h.8M768.5 318.1h.8M457.8 316.3h.8M921.2 343.5h.8M810.4 318.0h.8M342.3 339.4h.8M809.4 332.4h.8M933.0 337.8h.8M538.9 347.0h.8M393.2 319.8h.8M382.3 318.9h.8M836.7 332.5h.8M416.2 351.4h.8M261.9 321.8h.8M967.3 316.0h.8M398.1 317.1h.8M532.4 340.2h.8M925.4 322.2h.8M732.3 343.1h.8M252.8 346.6h.8M383.9 346.3h.8M642.0 342.1h.8M343.8 319.7h.8M472.2 351.4h.8M170.9 333.2h.8M187.9 333.0h.8M184.5 336.4h.8M682.2 333.7h.8M344.4 321.4h.8M978.9 322.4h.8M944.9 315.6h.8M471.6 333.6h.8M510.2 323.6h.8M304.0 345.2h.8M541.4 333.5h.8M994.3 341.4h.8M166.3 339.5h.8M898.7 349.2h.8M598.2 331.3h.8M867.0 341.7h.8M672.5 316.4h.8M978.8 332.7h.8M446.9 329.3h.8M775.8 328.0h.8M729.4 339.6h.8M763.8 340.8h.8M358.1 349.1h.8M627.3 347.0h.8M399.7 342.7h.8M475.0 338.4h.8M980.8 334.2h.8M623.7 339.0h.8M622.4 322.4h.8M601.5 334.8h.8M457.6 346.5h.8M341.7 349.3h.8M401.7 350.6h.8M511.7 332.4h.8M259.2 324.9h.8M542.0 330.4h.8M523.9 323.3h.8M733.2 348.5h.8M623.5 343.9h.8M789.5 340.1h.8M351.0 350.8h.8M990.3 348.5h.8M373.9 317.4h.8M205.7 338.7h.8M526.2 328.0h.8M819.4 315.5h.8M430.4 349.5h.8M343.7 351.3h.8M388.8 330.5h.8M913.3 349.1h.8M387.9 319.2h.8M655.6 339.1h.8M223.4 350.2h.8M345.3 330.7h.8M211.6 335.1h.8M849.1 351.4h.8M404.2 338.5h.8M674.7 325.7h.8M732.3 337.8h.8M446.6 330.2h.8M548.7 317.4h.8M607.0 331.9h.8M721.7 335.9h.8M576.0 328.7h.8M666.1 314.4h.8M419.1 335.5h.8M980.6 322.4h.8M627.9 342.5h.8M312.8 338.5h.8M520.7 337.8h.8M377.8 336.0h.8M644.3 349.0h.8M715.8 326.8h.8M326.9 344.4h.8M195.1 336.3h.8M729.4 338.6h.8M657.1 331.1h.8M200.2 350.3h.8M588.4 317.6h.8M755.4 337.3h.8M380.9 348.1h.8M705.1 324.5h.8M492.6 349.5h.8M395.5 326.9h.8M809.8 339.0h.8M907.4 339.4h.8M182.8 345.9h.8M909.8 327.0h.8M235.7 343.1h.8M494.2 336.0h.8M184.2 317.8h.8M608.6 343.9h.8M189.4 332.5h.8M945.6 326.5h.8M883.5 319.9h.8M721.0 350.2h.8M424.0 332.0h.8M512.1 345.5h.8M219.8 320.2h.8M722.7 342.7h.8M557.4 319.9h.8M283.9 330.1h.8M358.5 318.5h.8M834.6 316.6h.8M484.2 335.0h.8M432.7 340.8h.8M962.9 315.7h.8M997.1 318.4h.8M573.6 328.9h.8M924.7 337.9h.8M933.9 323.1h.8M401.3 340.5h.8M742.4 347.2h.8M377.7 346.2h.8M252.6 318.4h.8M1000.0 322.2h.8M585.8 325.3h.8M739.4 337.5h.8M599.6 348.3h.8M366.0 341.1h.8M462.6 328.9h.8M365.7 344.8h.8M896.8 323.8h.8M945.1 323.9h.8M326.7 335.7h.8M862.7 322.8h.8M354.5 335.9h.8M657.3 351.2h.8M367.4 325.5h.8M722.3 337.3h.8M642.1 334.2h.8M453.1 349.5h.8M785.5 324.2h.8M527.9 324.3h.8M857.3 327.6h.8M841.0 315.8h.8M196.4 316.9h.8M542.5 324.0h.8M781.4 349.1h.8M655.1 349.4h.8M776.9 341.3h.8M478.9 343.6h.8M842.3 329.7h.8M413.5 325.5h.8M318.5 322.9h.8M670.1 324.5h.8M680.0 315.0h.8M746.2 336.6h.8M658.5 332.6h.8M402.4 342.4h.8M833.2 322.3h.8M972.8 327.8h.8M586.5 339.2h.8M754.7 329.3h.8M954.4 325.2h.8M485.0 343.4h.8M200.7 323.9h.8M521.9 339.3h.8M207.3 335.4h.8M916.7 343.4h.8M786.7 324.8h.8M716.9 331.5h.8M372.2 328.3h.8M653.4 315.8h.8M595.3 340.7h.8M923.2 330.3h.8M449.4 329.3h.8M290.9 346.4h.8M904.8 336.7h.8M835.8 345.5h.8M557.9 344.8h.8M836.1 331.4h.8M493.1 339.6h.8M340.2 345.7h.8M742.3 342.2h.8M250.7 339.6h.8M543.0 314.8h.8M486.3 338.9h.8M978.5 326.4h.8M547.9 339.1h.8M352.0 347.5h.8M559.3 329.7h.8M251.8 336.2h.8M308.3 331.2h.8M452.1 328.6h.8M819.8 338.9h.8M484.0 349.6h.8M340.7 330.4h.8M840.0 347.9h.8M982.0 318.1h.8M469.8 333.7h.8M727.3 341.6h.8M470.4 326.3h.8M569.5 337.7h.8M635.2 348.6h.8M557.8 342.8h.8M303.3 334.3h.8M752.2 334.2h.8M581.6 328.5h.8M516.7 315.1h.8M342.6 351.3h.8M640.0 327.4h.8M483.9 339.1h.8M450.6 344.6h.8M827.2 320.3h.8M397.2 332.7h.8M548.7 348.1h.8M778.4 334.0h.8M994.2 318.3h.8M920.9 344.0h.8M255.0 322.6h.8M253.8 327.8h.8M310.3 327.0h.8M208.1 349.4h.8M891.2 334.7h.8M541.0 315.6h.8M821.0 345.2h.8M755.3 339.6h.8M552.2 342.2h.8M353.5 342.6h.8M391.8 346.4h.8M896.1 339.8h.8M633.3 322.5h.8M732.1 347.4h.8M962.5 317.3h.8M867.2 341.6h.8M859.6 329.6h.8M189.2 339.9h.8M748.6 333.5h.8M958.2 323.4h.8M864.7 315.2h.8M450.8 318.4h.8M165.1 323.1h.8M236.7 335.3h.8M533.1 349.8h.8M697.0 323.6h.8M350.5 344.5h.8M809.7 334.1h.8M178.5 342.4h.8M954.8 343.5h.8M405.6 337.1h.8M906.7 322.6h.8M486.1 328.6h.8M186.2 350.0h.8M475.1 329.9h.8M280.9 350.5h.8M878.9 346.5h.8M208.9 349.4h.8M229.3 343.1h.8M648.7 329.0h.8M402.8 334.7h.8M441.9 332.1h.8M254.6 330.3h.8M163.2 317.7h.8M338.6 333.1h.8M321.2 337.4h.8M384.9 329.7h.8M816.8 321.1h.8M980.3 337.0h.8M624.0 340.8h.8M404.8 334.9h.8M979.5 350.2h.8M790.0 341.8h.8M664.4 343.8h.8M766.1 335.4h.8M423.2 337.2h.8M166.9 349.1h.8M924.6 349.5h.8M496.5 328.5h.8M193.4 317.4h.8M336.4 316.0h.8M526.9 331.9h.8M669.6 349.4h.8M587.7 325.2h.8M825.4 325.8h.8M733.8 348.2h.8M506.3 334.9h.8M197.1 324.5h.8M248.7 332.7h.8M387.0 347.2h.8M962.2 330.5h.8M777.7 331.0h.8M636.4 319.9h.8M216.1 339.8h.8M346.7 331.4h.8M493.9 317.8h.8M358.6 343.7h.8M932.6 326.4h.8M523.1 340.0h.8M778.8 347.6h.8M768.6 345.1h.8M839.4 349.8h.8M930.0 320.4h.8M183.5 347.3h.8M930.2 322.2h.8M407.9 323.0h.8M649.6 344.5h.8M740.1 338.5h.8M282.1 320.8h.8M765.0 344.6h.8M521.3 327.9h.8M474.5 344.1h.8M604.7 316.5h.8M242.7 344.3h.8M568.3 315.0h.8M995.8 351.3h.8M701.5 347.9h.8M336.7 348.0h.8M582.3 314.6h.8M973.3 340.2h.8M916.6 327.7h.8M225.3 318.7h.8M392.4 315.3h.8M273.9 318.7h.8M593.2 334.7h.8M316.5 335.7h.8M800.2 333.1h.8M985.4 333.9h.8M921.6 348.1h.8M781.1 331.3h.8M903.7 341.4h.8M551.4 322.5h.8M377.5 340.1h.8M873.2 329.3h.8M573.7 351.1h.8M803.8 338.5h.8M362.4 339.6h.8M278.3 321.3h.8M831.9 315.8h.8M728.6 347.2h.8M517.6 314.5h.8M163.8 341.2h.8M288.2 346.9h.8M393.8 330.5h.8M219.5 320.1h.8M523.9 346.9h.8M247.9 334.3h.8M456.0 335.2h.8M253.6 340.7h.8M587.1 349.5h.8M583.7 321.3h.8M657.9 348.2h.8M692.7 349.5h.8M282.1 351.2h.8M608.0 346.7h.8M396.8 348.5h.8M914.0 347.7h.8M728.8 322.8h.8M540.0 332.0h.8M442.6 322.2h.8M738.3 349.7h.8M753.5 347.9h.8M566.6 346.5h.8M569.4 329.1h.8M778.3 341.8h.8M208.9 337.2h.8M930.2 333.2h.8M682.7 324.5h.8M698.3 316.6h.8M963.9 325.6h.8M840.2 347.8h.8M385.0 326.8h.8M650.0 320.4h.8M812.4 341.5h.8M306.8 329.0h.8M256.1 335.4h.8M394.3 339.0h.8M711.7 330.0h.8M681.1 350.1h.8M913.0 327.0h.8M924.0 330.8h.8M705.4 319.2h.8M789.0 329.9h.8M196.5 351.0h.8M764.4 321.0h.8M487.3 345.7h.8M533.3 321.3h.8M796.9 348.2h.8M332.2 345.8h.8M788.4 344.3h.8M908.6 338.6h.8M325.0 338.5h.8M280.3 319.6h.8M182.4 338.4h.8M480.7 350.6h.8M349.1 314.8h.8M883.7 338.3h.8M895.5 318.4h.8M882.5 326.1h.8M638.8 334.8h.8M764.0 331.2h.8M979.5 346.6h.8M916.8 324.9h.8M534.3 321.0h.8M403.2 339.4h.8M646.9 315.7h.8M366.5 321.0h.8M714.5 317.8h.8M414.7 328.7h.8M908.5 319.4h.8M748.9 321.3h.8M695.0 333.2h.8M324.3 334.5h.8M982.6 316.7h.8M198.3 342.5h.8M363.9 321.2h.8M315.7 324.5h.8M327.6 341.2h.8M978.9 348.3h.8M651.0 343.5h.8M797.2 349.9h.8M731.1 344.1h.8M966.2 341.6h.8M724.6 350.9h.8M951.2 330.0h.8M930.1 325.4h.8M213.5 325.4h.8M482.5 346.0h.8M910.2 328.7h.8M455.9 349.8h.8M707.6 350.1h.8M363.7 350.4h.8M307.5 325.2h.8M387.4 314.9h.8M397.2 323.1h.8M780.5 329.5h.8M670.5 347.9h.8M858.3 317.7h.8M608.6 346.4h.8M235.2 344.2h.8M978.5 342.0h.8M398.3 334.3h.8M192.0 323.5h.8M817.0 342.4h.8M188.0 318.7h.8M842.2 324.6h.8M339.7 316.3h.8M700.7 350.8h.8M986.4 327.3h.8M317.4 319.1h.8M664.0 329.8h.8M186.4 345.6h.8M827.7 351.2h.8M325.6 349.9h.8M651.9 348.0h.8M821.1 337.1h.8M819.3 318.1h.8M978.3 346.3h.8M468.7 323.3h.8M441.9 317.1h.8M445.1 330.2h.8M377.8 326.3h.8M400.8 338.2h.8M769.7 321.8h.8M280.6 346.9h.8M340.9 324.4h.8M728.4 326.5h.8M840.6 344.9h.8M579.6 351.3h.8M458.5 331.3h.8M381.5 323.2h.8M341.2 337.5h.8M736.9 345.3h.8M719.8 339.0h.8M203.6 348.9h.8M710.3 322.1h.8M733.3 320.3h.8M721.5 323.9h.8M866.2 331.5h.8M608.9 347.2h.8M361.2 349.4h.8M256.2 339.3h.8M408.2 332.8h.8M857.9 343.7h.8M913.4 321.6h.8M324.2 331.7h.8M328.7 350.0h.8M347.8 345.9h.8M169.4 350.9h.8M840.3 320.2h.8M887.6 349.8h.8M182.7 320.6h.8M477.3 341.0h.8M750.9 334.1h.8M439.3 347.6h.8M259.4 326.7h.8M922.8 350.6h.8M350.3 334.3h.8M386.6 335.7h.8M584.0 343.9h.8M261.3 338.3h.8M843.5 347.9h.8M614.4 322.6h.8M641.6 341.0h.8M941.8 323.8h.8M999.4 342.7h.8M568.9 337.2h.8M868.1 330.5h.8M624.6 334.7h.8M910.4 340.8h.8M273.1 346.8h.8M367.5 349.2h.8M982.3 333.1h.8M832.4 337.0h.8M600.4 345.2h.8M910.4 338.3h.8M503.5 325.5h.8M891.7 314.4h.8M566.8 338.1h.8M856.1 338.1h.8M332.9 336.1h.8M419.7 344.1h.8M811.2 340.9h.8M687.6 342.5h.8M258.8 323.8h.8M813.1 327.0h.8M674.7 346.8h.8M583.7 321.6h.8M821.0 331.7h.8M692.5 346.9h.8M209.3 321.1h.8M178.3 344.2h.8M498.4 327.2h.8M747.7 320.2h.8M943.1 343.6h.8M371.8 348.4h.8M439.8 349.0h.8M969.4 332.3h.8M575.0 350.2h.8M928.2 344.5h.8M808.8 345.9h.8M390.0 348.0h.8M611.8 343.2h.8M642.5 326.6h.8M352.5 348.1h.8M595.4 339.1h.8M537.9 340.2h.8M301.3 348.4h.8M773.1 329.9h.8M740.0 329.7h.8M593.6 346.1h.8M929.9 334.0h.8M547.3 344.0h.8M479.3 315.2h.8M503.8 322.9h.8M267.3 331.3h.8M391.0 344.9h.8M417.8 339.2h.8M703.0 338.8h.8M885.5 347.4h.8M880.6 337.7h.8M827.9 339.2h.8M378.8 319.0h.8M697.1 326.3h.8M601.4 326.8h.8M965.5 325.5h.8M975.9 340.9h.8M412.9 319.4h.8M862.6 319.2h.8M528.4 338.5h.8M957.8 345.9h.8M302.6 346.9h.8M416.9 338.4h.8M484.4 336.8h.8M192.6 341.2h.8M589.3 350.3h.8M566.9 318.5h.8M711.1 316.7h.8M884.6 335.5h.8M180.7 350.1h.8M646.4 321.2h.8M441.3 348.1h.8M799.8 333.7h.8M555.6 348.3h.8M627.7 332.4h.8M759.1 318.6h.8M226.6 321.7h.8M432.6 338.5h.8M451.6 322.7h.8M533.1 349.8h.8M560.8 347.6h.8M176.3 350.3h.8M482.3 337.1h.8M163.6 348.0h.8M919.6 333.5h.8M985.3 333.6h.8M963.6 327.6h.8M487.9 350.4h.8M286.9 323.4h.8M718.6 342.7h.8M300.0 329.7h.8M943.1 344.4h.8M999.4 333.9h.8M337.6 346.6h.8M760.0 317.5h.8M333.6 344.8h.8M283.0 345.7h.8M352.3 338.4h.8M362.5 328.8h.8M364.2 343.8h.8M514.3 347.0h.8M205.9 349.3h.8M167.1 328.3h.8M204.2 336.0h.8M909.0 330.7h.8M419.9 339.0h.8M521.5 341.9h.8M208.1 347.4h.8M283.1 345.8h.8M440.6 349.0h.8M679.6 346.0h.8M591.2 327.5h.8M580.1 325.5h.8M817.5 337.3h.8M341.1 350.6h.8M744.3 340.2h.8M407.0 349.5h.8M314.0 319.1h.8M559.1 321.0h.8M871.4 344.4h.8M352.6 319.3h.8M361.7 331.4h.8M948.7 336.6h.8M519.3 316.2h.8M887.1 317.5h.8M756.2 345.2h.8M203.3 351.0h.8M937.5 333.6h.8M904.0 316.2h.8M362.1 315.6h.8M392.7 346.7h.8M391.3 314.5h.8M951.4 340.8h.8M567.4 322.0h.8M837.6 318.8h.8M467.0 345.0h.8M593.3 317.2h.8M677.4 319.9h.8M327.6 335.0h.8M932.5 332.5h.8M829.0 322.7h.8M534.4 327.7h.8M743.5 337.6h.8M599.4 322.6h.8M902.7 314.9h.8M471.3 328.2h.8M625.1 320.8h.8M364.7 336.5h.8M377.9 322.9h.8M759.0 351.3h.8M254.0 347.8h.8M659.0 324.1h.8M451.6 349.6h.8M654.2 330.7h.8M524.1 343.7h.8M454.0 345.0h.8M844.9 339.7h.8M761.6 333.3h.8M355.3 343.4h.8M725.5 320.3h.8M932.8 347.5h.8M380.5 349.1h.8M321.8 339.5h.8M765.5 318.0h.8M658.7 347.7h.8M478.8 347.8h.8M397.5 332.3h.8M583.9 346.9h.8M394.7 318.9h.8M692.0 331.2h.8M433.2 342.7h.8M801.9 351.1h.8M711.6 316.3h.8M696.0 350.4h.8M191.4 323.7h.8M318.4 338.2h.8M709.6 328.3h.8M404.5 328.0h.8M929.6 336.5h.8M495.5 327.8h.8M895.6 327.8h.8M941.0 323.8h.8M965.6 344.4h.8M727.7 345.7h.8M261.5 341.2h.8M956.5 342.8h.8M422.1 317.6h.8M986.8 324.8h.8M458.8 322.0h.8M218.0 351.2h.8M216.0 341.4h.8M365.4 320.5h.8M537.8 320.8h.8M572.3 340.1h.8M447.7 350.4h.8M544.5 316.5h.8M978.2 317.3h.8M245.1 337.5h.8M862.7 347.5h.8M217.8 345.8h.8M233.6 325.6h.8M760.9 314.8h.8M205.4 327.1h.8M828.8 346.7h.8M229.4 315.2h.8M826.2 349.9h.8M320.0 328.9h.8M306.4 337.7h.8M288.8 349.3h.8M569.4 333.6h.8M873.7 351.3h.8M460.6 349.8h.8M626.6 347.1h.8M440.8 315.7h.8M707.9 328.5h.8M671.2 346.0h.8M737.5 315.6h.8M237.9 321.4h.8M451.6 346.0h.8M712.7 320.8h.8M303.1 346.1h.8M583.2 345.9h.8M588.2 314.8h.8M184.5 338.0h.8M332.5 347.1h.8M656.9 316.6h.8M557.1 333.0h.8M749.7 320.5h.8M974.1 341.5h.8M311.7 318.0h.8M670.7 319.5h.8M286.1 323.5h.8M262.2 348.1h.8M264.6 340.4h.8M511.4 329.0h.8M949.8 337.9h.8M648.4 338.6h.8M484.2 343.9h.8M167.3 344.2h.8M769.5 323.1h.8M738.6 337.5h.8M507.8 346.4h.8M366.6 314.4h.8M656.0 338.9h.8M612.0 335.5h.8M409.6 338.4h.8M524.1 318.8h.8M910.5 343.1h.8M545.2 345.3h.8M962.4 348.0h.8M567.0 351.2h.8M549.6 336.8h.8M175.0 347.5h.8M582.4 336.3h.8M417.5 350.3h.8M435.0 341.0h.8M250.0 331.3h.8M347.6 334.0h.8M758.5 351.2h.8M580.7 329.8h.8M913.2 327.6h.8M865.8 328.8h.8M351.2 322.5h.8M797.1 335.8h.8M939.4 350.4h.8M924.7 340.6h.8M618.1 323.2h.8M303.3 335.4h.8M175.7 350.7h.8M965.1 345.4h.8M521.1 348.5h.8M945.0 335.0h.8M880.5 343.6h.8M551.7 344.5h.8M657.7 326.9h.8M644.1 331.9h.8M423.2 316.4h.8M179.3 347.1h.8M722.9 315.5h.8M874.0 344.5h.8M954.5 336.9h.8M642.1 329.4h.8M681.1 319.6h.8M917.0 342.1h.8M911.5 342.1h.8M736.7 347.3h.8M698.1 342.6h.8M997.4 328.7h.8M488.0 316.0h.8M259.9 325.3h.8M707.1 351.1h.8M548.9 348.6h.8M1001.9 349.1h.8M696.2 333.6h.8M268.0 317.2h.8M644.5 330.6h.8M383.9 347.5h.8M436.3 350.7h.8M331.9 335.4h.8M490.6 324.7h.8M282.0 345.8h.8M601.9 327.8h.8M426.8 345.8h.8M268.0 340.4h.8M481.2 323.2h.8M364.5 341.2h.8M788.2 345.8h.8M195.4 315.6h.8M930.3 342.1h.8M400.7 336.8h.8M339.4 323.6h.8M905.6 326.7h.8M498.1 321.3h.8M948.6 346.5h.8M723.8 346.9h.8M990.4 323.2h.8M506.7 325.5h.8M409.0 350.0h.8M593.9 349.7h.8M546.3 320.8h.8M647.2 343.8h.8M340.9 333.0h.8M590.3 318.6h.8M306.9 336.6h.8M538.6 339.9h.8M319.2 339.7h.8M618.5 346.2h.8M431.9 334.2h.8M951.7 335.9h.8M453.5 350.7h.8M597.6 341.1h.8M260.1 336.2h.8M679.9 340.8h.8M779.8 330.0h.8M215.6 350.4h.8M603.9 331.1h.8M630.3 345.1h.8M451.9 326.5h.8M496.0 334.1h.8M354.7 330.1h.8M565.2 351.4h.8M796.0 322.9h.8M991.1 316.9h.8M752.2 336.5h.8M385.9 327.1h.8M514.4 341.8h.8M261.1 331.1h.8M759.1 324.3h.8M291.0 345.9h.8M697.6 348.2h.8M906.6 317.5h.8M692.3 344.0h.8M634.8 324.5h.8M452.4 329.3h.8M667.5 318.3h.8M814.2 328.5h.8M620.2 319.2h.8M668.6 327.7h.8M423.6 348.8h.8M631.0 345.3h.8M976.5 345.3h.8M914.4 341.5h.8M323.9 332.2h.8M433.4 314.6h.8M681.2 349.0h.8M423.1 348.7h.8M577.1 334.2h.8M428.0 328.3h.8M536.2 322.2h.8M732.8 344.1h.8M859.3 350.8h.8M360.4 350.9h.8M961.3 333.9h.8M868.9 314.8h.8M239.7 318.7h.8M180.4 327.2h.8M828.5 339.6h.8M909.8 324.4h.8M580.5 343.3h.8M296.6 349.7h.8M617.2 334.3h.8M320.4 334.1h.8M229.6 342.6h.8M724.4 347.5h.8M601.8 348.1h.8M903.0 345.6h.8M944.5 317.9h.8M972.4 343.3h.8M734.9 349.9h.8M978.6 327.5h.8M194.0 347.9h.8M251.6 341.0h.8M949.3 323.5h.8M436.6 322.6h.8M171.9 333.5h.8M489.6 349.7h.8M934.4 329.0h.8M998.4 329.7h.8M684.0 348.3h.8M562.5 318.9h.8M631.7 329.8h.8M548.7 340.6h.8M172.8 345.4h.8M319.3 349.3h.8M208.4 324.9h.8M998.2 327.3h.8M859.9 345.7h.8M875.8 339.8h.8M880.1 344.8h.8M413.9 334.2h.8M350.6 344.1h.8M772.7 323.5h.8M987.8 329.1h.8M457.1 336.4h.8M654.5 331.6h.8M932.7 332.6h.8M969.7 336.1h.8M537.4 350.9h.8M434.9 335.9h.8M172.7 337.6h.8M260.3 343.8h.8M904.7 318.0h.8M259.0 331.8h.8M571.1 350.3h.8M412.5 333.9h.8M519.8 332.5h.8M218.4 330.8h.8M676.0 346.3h.8M638.7 317.2h.8M910.6 330.6h.8M599.9 325.2h.8M543.8 326.9h.8M475.7 333.1h.8M778.7 331.9h.8M668.8 339.6h.8M456.7 329.1h.8M537.1 337.5h.8M480.8 343.0h.8M688.1 319.7h.8M326.5 329.3h.8M608.8 329.8h.8M719.5 339.0h.8M171.8 340.4h.8M600.2 330.1h.8M940.5 329.0h.8M711.0 340.9h.8M829.5 348.2h.8M905.7 335.7h.8M543.5 327.6h.8M618.4 314.5h.8M264.2 350.0h.8M662.0 345.2h.8M353.8 314.4h.8M606.9 342.9h.8M469.0 345.2h.8M374.5 348.0h.8M982.2 325.8h.8M464.7 348.8h.8M981.5 319.2h.8M242.7 320.1h.8M625.6 315.0h.8M532.5 337.7h.8M170.0 332.3h.8M363.3 319.5h.8M350.8 319.5h.8M442.9 322.7h.8M762.1 317.3h.8M645.5 340.5h.8M383.6 344.9h.8M249.6 342.7h.8M429.0 322.1h.8M168.8 335.2h.8M588.9 347.3h.8M744.8 345.8h.8M786.5 347.0h.8M900.1 342.2h.8M242.2 347.6h.8M334.3 348.1h.8M426.4 315.6h.8M477.4 339.3h.8M794.7 349.8h.8M236.5 320.0h.8M437.4 346.8h.8M317.1 325.4h.8M983.1 339.1h.8M760.1 336.7h.8M334.0 342.1h.8M447.6 344.4h.8M828.8 349.3h.8M487.2 325.8h.8M190.8 315.9h.8M678.9 329.2h.8M324.3 345.9h.8M870.5 315.4h.8M175.5 322.3h.8M330.8 349.7h.8M663.7 349.2h.8M868.4 321.1h.8M403.0 347.7h.8M593.4 325.2h.8M194.8 327.0h.8M266.7 339.9h.8M301.4 349.6h.8M611.7 342.7h.8M927.4 318.6h.8M772.3 334.8h.8M705.5 341.5h.8M556.5 333.4h.8M516.3 337.4h.8M877.8 314.8h.8M780.4 320.5h.8M419.0 349.7h.8M349.8 335.3h.8M804.6 325.8h.8M930.7 323.9h.8M413.6 350.2h.8M567.6 341.6h.8M892.8 318.5h.8M614.6 324.1h.8M772.8 334.5h.8M533.9 316.4h.8M832.1 332.5h.8M991.0 347.6h.8M808.5 333.3h.8M432.8 348.3h.8M650.6 320.1h.8M310.5 318.8h.8M991.0 346.2h.8M626.5 335.8h.8M444.6 348.5h.8M387.4 316.9h.8M867.8 316.5h.8M581.3 335.3h.8M214.7 338.0h.8M650.9 314.6h.8M217.0 329.0h.8M202.3 315.6h.8M332.4 327.5h.8M695.1 345.8h.8M550.5 338.2h.8M313.0 339.2h.8M216.2 326.9h.8M977.8 333.6h.8M498.2 334.7h.8M284.0 325.6h.8M742.8 348.9h.8M480.0 348.4h.8M751.1 351.2h.8M893.3 350.0h.8M864.0 346.3h.8M606.8 326.7h.8M950.7 319.8h.8M290.8 326.6h.8M523.8 347.0h.8M550.6 317.1h.8M179.2 327.3h.8M618.1 319.5h.8M561.7 344.4h.8M877.1 348.8h.8M740.8 342.9h.8M208.1 347.0h.8M876.3 347.4h.8M933.6 347.7h.8M941.8 350.3h.8M716.1 333.9h.8M663.6 317.6h.8M353.3 314.6h.8M641.0 322.6h.8M373.2 314.4h.8M767.5 336.4h.8M345.4 319.6h.8M633.0 314.8h.8M904.6 325.2h.8M768.7 347.0h.8M859.4 326.6h.8M244.9 349.9h.8M248.1 345.4h.8M804.2 324.4h.8M746.0 340.2h.8M950.1 347.5h.8M354.0 337.5h.8M381.7 325.7h.8M863.2 325.4h.8M434.4 332.1h.8M427.3 333.3h.8M608.5 347.5h.8M872.0 322.5h.8M815.4 349.3h.8M359.2 325.2h.8M840.5 330.6h.8M945.8 338.1h.8M353.3 336.2h.8M416.0 339.7h.8M819.3 341.8h.8M761.0 331.6h.8M181.2 334.8h.8M890.5 329.4h.8M877.2 329.7h.8M997.6 350.6h.8M519.8 346.1h.8M797.7 342.9h.8M720.8 329.1h.8M177.4 330.7h.8M439.1 344.3h.8M704.6 330.0h.8M342.3 326.8h.8M226.0 350.2h.8M907.7 317.5h.8M957.4 314.6h.8M784.6 332.6h.8M607.3 333.9h.8M954.6 315.8h.8M528.7 346.0h.8M614.2 338.2h.8M841.8 317.8h.8M683.1 349.5h.8M611.3 348.2h.8M613.4 322.2h.8M727.7 336.5h.8M295.6 317.4h.8M894.1 335.7h.8M206.9 328.2h.8M499.4 339.1h.8M480.4 343.5h.8M280.8 329.3h.8M597.9 337.9h.8M792.6 335.1h.8M298.8 343.8h.8M631.7 328.6h.8M694.6 325.3h.8M463.0 324.4h.8M652.1 344.2h.8M268.2 330.3h.8M873.8 316.5h.8M848.1 322.1h.8M657.9 344.5h.8M411.6 320.4h.8M392.2 335.9h.8M623.7 351.1h.8M256.4 346.0h.8M830.9 323.7h.8M236.3 347.2h.8M990.7 347.1h.8M834.1 331.9h.8M894.6 325.7h.8M244.6 324.3h.8M763.2 350.6h.8M953.5 342.9h.8M552.6 334.3h.8M628.9 332.5h.8M218.1 320.7h.8M602.0 349.1h.8M584.7 346.4h.8M525.2 326.4h.8M795.4 347.2h.8M404.3 315.7h.8M690.2 346.5h.8M674.5 344.4h.8M225.2 328.9h.8M257.0 347.9h.8M732.0 315.8h.8M220.7 325.2h.8M282.8 350.2h.8M177.0 351.0h.8M776.2 318.4h.8M173.9 347.6h.8M202.7 338.8h.8M433.3 346.3h.8M847.2 348.9h.8M693.5 347.8h.8M711.6 348.2h.8M328.3 314.8h.8M386.6 337.1h.8M717.4 314.4h.8M623.8 348.6h.8M724.0 327.9h.8M653.2 339.6h.8M851.0 350.0h.8M621.4 333.5h.8M933.2 323.9h.8M363.9 339.7h.8M663.1 339.8h.8M215.7 314.6h.8M544.2 347.9h.8M291.1 351.1h.8M927.2 347.9h.8M635.8 316.8h.8M807.4 331.7h.8M401.8 328.3h.8M839.9 345.8h.8M354.7 338.6h.8M665.0 319.2h.8M658.9 343.8h.8M771.6 347.6h.8M253.0 351.3h.8M646.6 332.2h.8M552.8 333.1h.8M320.7 345.7h.8M653.8 338.9h.8M581.8 318.1h.8M555.1 325.4h.8M213.9 335.6h.8M208.2 346.1h.8M321.2 339.6h.8M296.4 317.2h.8M415.1 342.5h.8M222.6 340.2h.8M820.9 333.4h.8M912.8 330.6h.8M703.3 338.0h.8M863.8 337.2h.8M279.9 345.2h.8M831.9 350.2h.8M314.4 330.2h.8M735.5 336.6h.8M710.4 338.3h.8M657.8 350.6h.8M508.8 315.5h.8M645.6 341.2h.8M685.9 315.4h.8M553.7 338.4h.8M852.3 320.9h.8M352.7 328.5h.8M413.7 340.7h.8M836.7 340.4h.8M930.2 335.8h.8M890.6 348.2h.8M502.3 350.8h.8M882.9 319.2h.8M570.7 336.6h.8M977.2 339.5h.8M419.8 348.0h.8M934.0 322.9h.8M605.2 326.0h.8M864.3 328.5h.8M253.9 329.3h.8M894.4 336.2h.8M521.4 329.5h.8M323.0 345.2h.8M733.7 314.6h.8M258.4 328.7h.8M585.4 350.7h.8M298.4 342.5h.8M743.9 348.1h.8M476.3 330.5h.8M796.2 314.5h.8M866.0 346.3h.8M632.2 331.1h.8M626.5 331.4h.8M484.2 344.8h.8M722.8 319.9h.8M735.4 329.0h.8M966.6 344.2h.8M645.4 321.9h.8M710.6 351.4h.8M591.6 322.3h.8M332.9 339.3h.8M987.3 337.0h.8M618.9 331.4h.8M876.0 337.0h.8M916.9 327.0h.8M499.7 330.7h.8M415.0 350.3h.8M570.1 350.5h.8M413.9 321.2h.8M977.3 346.1h.8M302.2 340.8h.8M541.0 347.8h.8M839.8 347.4h.8M615.5 343.6h.8M705.5 348.6h.8M577.5 321.0h.8M177.1 346.2h.8M223.6 321.5h.8M725.7 344.6h.8M918.1 346.9h.8M572.9 326.0h.8M667.3 350.0h.8M202.6 346.5h.8M956.4 318.8h.8M415.1 350.4h.8M695.6 346.1h.8M911.4 317.9h.8M819.1 324.0h.8M816.2 321.7h.8M481.6 326.3h.8M173.7 327.5h.8M536.2 315.0h.8M822.0 337.1h.8M756.1 331.9h.8M680.6 351.3h.8M351.6 344.1h.8M753.1 318.0h.8M690.3 324.8h.8M696.7 347.7h.8M377.2 332.0h.8M795.6 338.3h.8M746.0 341.4h.8M427.2 347.0h.8M510.3 332.1h.8M255.1 317.4h.8M170.0 325.9h.8M454.0 317.1h.8M403.4 350.9h.8M742.4 339.8h.8M849.4 328.6h.8M533.1 328.8h.8M734.6 341.6h.8M326.5 329.1h.8M640.4 350.4h.8M298.8 337.9h.8M238.5 334.3h.8M494.7 342.8h.8M792.8 325.6h.8M219.2 331.4h.8M995.8 331.0h.8M989.3 344.9h.8M348.4 341.7h.8M359.7 347.3h.8M376.7 335.2h.8M843.9 324.2h.8M196.4 324.4h.8M698.4 343.8h.8M168.8 320.5h.8M276.0 344.2h.8M418.2 323.2h.8M956.1 318.0h.8M875.7 321.1h.8M559.2 350.2h.8M360.1 347.9h.8M260.2 348.0h.8M430.7 350.4h.8M410.7 320.7h.8M365.8 334.9h.8M876.9 351.1h.8M773.1 333.6h.8M188.4 319.1h.8M830.3 349.0h.8M969.5 332.2h.8M695.8 345.6h.8M188.7 327.0h.8M761.4 346.6h.8M191.6 332.3h.8M421.3 341.1h.8M891.3 332.7h.8M261.9 327.3h.8M767.5 332.6h.8M963.0 336.2h.8M708.2 350.2h.8M415.6 342.6h.8M523.5 334.8h.8M259.2 327.6h.8M208.7 344.3h.8M654.0 351.0h.8M438.9 322.6h.8M776.8 339.9h.8M303.1 325.1h.8M892.2 349.6h.8M514.0 333.4h.8M744.6 345.9h.8M852.8 330.9h.8M833.2 316.6h.8M736.4 328.4h.8M412.6 343.6h.8M476.5 322.6h.8M663.0 343.4h.8M920.2 334.6h.8M984.3 329.2h.8M779.6 341.1h.8M995.0 336.0h.8M728.2 338.9h.8M601.8 346.8h.8M472.1 338.5h.8M786.3 347.3h.8M328.9 329.5h.8M560.2 319.5h.8M179.4 337.5h.8M860.5 324.9h.8M459.1 334.6h.8M496.1 351.3h.8M231.1 345.1h.8M894.8 346.3h.8M402.5 333.0h.8M747.9 329.4h.8M422.4 341.2h.8M173.8 323.3h.8M479.4 342.9h.8M336.8 335.5h.8M288.7 341.7h.8M251.3 346.3h.8M605.5 341.7h.8M253.0 319.9h.8M212.9 338.6h.8M408.8 350.2h.8M411.2 337.5h.8M741.2 344.1h.8M481.3 318.7h.8M695.5 337.3h.8M341.0 323.6h.8M943.7 344.7h.8M876.8 340.0h.8M564.7 350.9h.8M366.6 344.7h.8M333.1 321.9h.8M960.9 342.0h.8M836.0 342.6h.8M650.5 346.2h.8M925.8 334.7h.8M658.3 323.3h.8M602.4 335.6h.8M760.1 336.2h.8M646.6 342.7h.8M291.0 345.3h.8M977.8 331.7h.8M178.3 346.4h.8M652.3 334.8h.8M992.8 318.6h.8M222.8 322.8h.8M987.8 325.3h.8M962.8 339.7h.8M690.8 327.8h.8M831.4 326.5h.8M851.3 341.3h.8M830.2 331.4h.8M969.4 341.8h.8M682.9 320.4h.8M800.6 327.3h.8M285.3 347.4h.8M429.8 329.2h.8M190.4 328.9h.8M263.7 346.2h.8M395.9 333.4h.8M765.5 316.7h.8M354.7 349.4h.8M882.6 331.7h.8M934.1 326.6h.8M272.2 340.4h.8M346.9 337.2h.8M402.5 320.4h.8M914.6 346.4h.8M1001.8 316.0h.8M486.3 319.8h.8M956.7 325.8h.8M467.6 330.1h.8M806.3 341.2h.8M561.8 349.4h.8M294.1 323.2h.8M421.9 327.1h.8M523.2 326.8h.8M402.5 349.4h.8M723.0 344.1h.8M334.6 336.7h.8M579.3 319.1h.8M747.8 337.7h.8M532.9 331.3h.8M271.8 342.7h.8M669.6 317.0h.8M667.2 345.7h.8M974.7 323.2h.8M349.9 340.2h.8M191.1 324.6h.8M346.0 321.9h.8M765.2 324.0h.8M636.7 344.6h.8M193.2 331.5h.8M174.0 334.5h.8M812.4 347.9h.8M529.5 333.6h.8M289.5 346.0h.8M675.2 346.9h.8M290.7 345.3h.8M949.0 318.8h.8M256.4 332.4h.8M508.0 350.8h.8M373.9 329.3h.8M179.4 316.2h.8M402.6 341.0h.8M959.3 347.9h.8M272.6 336.3h.8M425.8 342.0h.8M651.9 316.5h.8M511.1 350.5h.8M475.9 320.8h.8M526.0 350.1h.8M372.5 345.1h.8M457.2 342.0h.8M725.9 326.4h.8M200.5 347.7h.8M852.8 319.8h.8M824.5 346.7h.8M744.3 349.7h.8M729.6 345.3h.8M867.6 321.2h.8M555.0 326.2h.8M955.5 319.0h.8M706.1 330.7h.8M462.4 327.9h.8M281.1 336.9h.8M234.4 349.3h.8M723.2 338.1h.8M337.1 316.6h.8M406.8 333.7h.8M574.3 346.5h.8M996.6 324.8h.8M911.3 342.7h.8M927.3 318.3h.8M953.1 346.7h.8M293.7 349.5h.8M238.5 327.2h.8M205.5 336.6h.8M460.9 326.0h.8M202.0 326.4h.8M966.8 342.8h.8M501.6 325.5h.8M419.2 321.0h.8M999.0 345.3h.8M557.6 347.7h.8M630.9 339.3h.8M978.8 326.1h.8M995.5 322.6h.8M855.0 339.7h.8M720.8 348.7h.8M455.0 317.8h.8M985.2 346.9h.8M578.1 338.9h.8M683.2 331.6h.8M381.9 319.6h.8M540.6 324.1h.8M768.8 315.2h.8M595.1 331.8h.8M810.7 345.0h.8M200.8 322.5h.8M745.4 325.2h.8M834.4 346.0h.8M899.6 329.7h.8M955.4 333.1h.8M889.1 350.2h.8M301.9 333.2h.8M723.1 339.6h.8M223.4 319.3h.8M223.1 319.2h.8M358.5 327.0h.8M660.6 344.8h.8M438.5 344.7h.8M610.2 343.4h.8M619.3 343.3h.8M264.0 327.4h.8M382.5 316.6h.8M503.0 344.0h.8M765.5 318.7h.8M473.7 325.8h.8M441.2 314.6h.8M414.8 350.7h.8M166.2 333.6h.8M687.0 343.1h.8M510.4 338.7h.8M467.8 346.4h.8M619.9 328.6h.8M185.7 319.5h.8M380.6 336.2h.8M345.7 328.3h.8M503.7 332.1h.8M505.2 334.9h.8M235.6 315.1h.8M520.1 341.6h.8M873.4 342.8h.8M826.7 338.1h.8M260.8 332.3h.8M398.2 346.0h.8M993.5 317.1h.8M558.6 322.7h.8M725.0 342.6h.8M271.6 332.1h.8M323.1 324.9h.8M662.1 345.4h.8M814.7 315.8h.8M565.8 315.7h.8M540.4 351.1h.8M550.8 340.8h.8M932.8 334.4h.8M969.1 347.2h.8M484.5 351.2h.8M206.1 326.8h.8M190.6 345.3h.8M527.4 317.8h.8M361.1 351.3h.8M751.4 327.4h.8M279.3 317.5h.8M889.0 317.1h.8M854.1 333.4h.8M751.3 348.4h.8M703.1 340.7h.8M444.7 342.2h.8M231.0 322.6h.8M804.3 351.3h.8M593.4 351.0h.8M620.3 347.1h.8M969.1 342.0h.8M602.2 344.0h.8M921.5 351.3h.8M417.1 345.2h.8M789.2 340.1h.8M886.0 341.7h.8M268.6 337.0h.8M235.3 347.5h.8M601.7 332.3h.8M342.2 346.7h.8M600.5 337.3h.8M567.1 328.4h.8M281.3 351.2h.8M217.3 323.2h.8M752.5 347.5h.8M440.3 342.4h.8M937.3 338.6h.8M762.3 349.4h.8M197.7 345.2h.8M701.3 337.3h.8M894.7 322.1h.8M720.4 314.4h.8M968.6 319.5h.8M238.0 339.1h.8M285.0 330.8h.8M586.8 349.3h.8M229.7 336.6h.8M687.2 338.8h.8M558.8 329.9h.8M748.6 326.9h.8M511.2 346.9h.8M892.8 350.6h.8M335.6 346.3h.8M661.6 330.4h.8M246.8 334.7h.8M645.3 327.8h.8M225.0 326.1h.8M389.7 339.6h.8M267.4 321.2h.8M681.6 322.5h.8M594.9 348.8h.8M499.7 349.6h.8M245.8 322.8h.8M163.0 339.4h.8M198.0 324.5h.8M994.2 350.8h.8M468.2 315.4h.8M373.5 342.3h.8M991.3 317.8h.8M487.1 328.4h.8M829.2 340.7h.8M164.9 340.0h.8M744.0 315.9h.8M533.5 338.6h.8M482.5 331.0h.8M181.7 318.2h.8M963.5 350.8h.8M168.1 342.2h.8M285.5 324.3h.8M892.8 333.5h.8M955.0 345.1h.8M327.5 339.6h.8M541.7 346.1h.8M935.8 325.1h.8M404.8 345.2h.8M400.9 339.2h.8M712.1 324.0h.8M960.0 349.6h.8M327.1 339.8h.8M961.8 336.9h.8M766.3 321.8h.8M549.6 339.9h.8M814.1 329.7h.8M996.0 343.7h.8M962.9 335.8h.8M891.9 329.6h.8M635.9 320.7h.8M230.6 343.3h.8M572.1 322.2h.8M319.1 323.9h.8M237.0 340.9h.8M552.0 326.6h.8M601.6 320.9h.8M744.1 339.6h.8M600.1 339.4h.8M895.1 342.5h.8M314.6 344.6h.8M373.1 322.6h.8M739.2 344.5h.8M515.4 319.0h.8M969.2 345.3h.8M954.9 350.2h.8M1000.9 341.9h.8M963.7 350.8h.8M740.5 317.7h.8M851.1 332.4h.8M293.6 344.8h.8M954.2 320.2h.8M348.6 341.1h.8M677.5 342.5h.8M342.0 320.1h.8M256.3 330.0h.8M503.4 336.4h.8M894.3 325.3h.8M812.7 351.1h.8M842.8 323.3h.8M163.5 345.2h.8M775.9 320.1h.8M615.4 319.2h.8M236.6 344.0h.8M851.2 323.3h.8M350.3 332.5h.8M530.7 325.6h.8M497.2 342.0h.8M802.2 327.4h.8M466.5 326.6h.8M383.1 335.2h.8M320.5 341.1h.8M514.1 349.4h.8M424.5 340.8h.8M437.4 335.0h.8M917.7 320.9h.8M411.1 348.0h.8M236.7 319.4h.8M800.5 325.6h.8M924.7 339.0h.8M306.7 349.3h.8M498.1 324.4h.8M234.5 337.6h.8M231.2 345.6h.8M627.4 329.3h.8M953.8 341.9h.8M357.9 350.1h.8M320.5 350.7h.8M164.1 348.6h.8M613.2 336.9h.8M923.8 335.8h.8M235.9 347.7h.8M750.7 315.2h.8M791.7 344.9h.8M452.8 337.6h.8M526.6 343.3h.8M292.7 350.9h.8M901.4 315.4h.8M983.6 339.8h.8M739.7 345.8h.8M257.4 351.4h.8M442.5 323.1h.8M605.7 344.9h.8M567.0 333.7h.8M326.9 337.3h.8M942.5 337.3h.8M993.8 326.3h.8M270.9 317.9h.8M743.9 337.4h.8M321.4 328.9h.8M322.7 336.7h.8M289.9 338.5h.8M974.5 331.4h.8M593.1 330.6h.8M712.2 331.2h.8M402.2 345.6h.8M671.7 317.4h.8M894.5 335.7h.8M410.6 331.8h.8M202.2 335.4h.8M820.3 315.8h.8M239.4 346.0h.8M565.6 331.0h.8M971.7 348.8h.8M271.0 335.8h.8M828.6 350.9h.8M482.1 326.8h.8M515.8 346.7h.8M222.7 324.7h.8M591.1 333.8h.8M736.3 324.6h.8M500.1 340.3h.8M934.1 349.7h.8M814.6 336.8h.8M610.0 344.3h.8M954.0 342.5h.8M431.9 350.1h.8M911.0 321.8h.8M205.3 347.6h.8M404.9 350.9h.8M580.5 321.0h.8M767.1 335.1h.8M984.5 342.5h.8M429.7 343.8h.8M668.7 336.6h.8M267.6 335.6h.8M973.8 319.7h.8M686.3 320.3h.8M571.0 335.4h.8M747.0 346.0h.8M660.8 335.2h.8M413.0 335.4h.8M312.3 329.6h.8M259.1 337.3h.8M209.7 333.7h.8M244.4 322.0h.8M178.2 322.7h.8M413.8 316.3h.8M438.8 347.7h.8M724.7 344.6h.8M845.2 336.1h.8M387.4 331.7h.8M350.1 343.9h.8M231.8 344.8h.8M346.5 347.3h.8M512.0 337.2h.8M661.8 333.3h.8M735.5 330.8h.8M557.9 320.7h.8M281.7 343.5h.8M173.2 318.3h.8M901.3 338.8h.8M870.0 332.8h.8M944.0 318.7h.8M441.0 343.4h.8M511.8 316.3h.8M555.8 340.4h.8M183.0 339.6h.8M939.3 338.3h.8M829.9 318.9h.8M949.3 325.9h.8M579.8 342.7h.8M952.0 322.8h.8M786.5 350.2h.8M707.0 327.6h.8M276.2 341.7h.8M544.4 344.2h.8M253.0 347.5h.8M546.7 351.2h.8M828.5 338.4h.8M396.8 344.3h.8M428.3 331.4h.8M763.0 337.9h.8M762.9 332.4h.8M843.7 326.0h.8M804.9 351.0h.8M457.7 348.6h.8M859.5 347.2h.8M938.1 341.1h.8M290.8 327.3h.8M318.4 340.4h.8M531.2 329.9h.8M597.3 328.7h.8M827.9 315.8h.8M683.9 338.1h.8M579.4 341.0h.8M862.6 333.4h.8M747.4 322.2h.8M747.2 319.3h.8M543.8 327.4h.8M905.6 335.7h.8M851.7 343.4h.8M296.6 320.8h.8M625.8 316.0h.8M665.1 344.1h.8M265.0 318.8h.8M375.1 347.1h.8M606.1 326.5h.8M644.6 350.4h.8M818.7 328.2h.8M435.7 317.7h.8M578.1 324.4h.8M239.3 342.4h.8M797.4 327.9h.8M751.7 327.5h.8M186.1 320.6h.8M197.9 344.6h.8M416.9 335.3h.8M243.4 338.0h.8M280.4 341.4h.8M451.9 348.7h.8M836.7 350.8h.8M331.7 319.0h.8M503.0 316.7h.8M421.0 334.5h.8M605.3 338.9h.8M993.2 339.0h.8M831.7 335.0h.8M456.0 321.1h.8M938.3 351.1h.8M665.4 325.0h.8M588.5 338.9h.8M766.4 347.4h.8M561.5 346.0h.8M888.2 323.6h.8M495.7 323.6h.8M618.1 329.1h.8M363.6 324.2h.8M707.5 314.5h.8M383.1 339.0h.8M816.8 344.1h.8M805.2 320.9h.8M302.3 326.1h.8M406.7 343.6h.8M458.4 323.9h.8M698.4 339.6h.8M735.7 322.5h.8M327.6 320.2h.8M600.1 329.9h.8M884.9 345.6h.8M555.5 326.8h.8M176.4 339.4h.8M617.5 337.2h.8M586.4 321.4h.8M258.7 326.4h.8M399.8 349.5h.8M550.7 348.2h.8M548.0 347.0h.8M535.9 348.0h.8M998.8 345.7h.8M535.2 331.1h.8M728.4 348.2h.8M874.3 340.1h.8M232.5 337.9h.8M685.0 340.5h.8M773.9 342.3h.8M847.5 317.3h.8M848.3 350.1h.8M515.2 334.0h.8M484.2 346.5h.8M656.6 348.5h.8M303.4 338.4h.8M999.4 339.7h.8M973.3 328.3h.8M705.4 318.1h.8M652.0 325.6h.8M559.1 323.2h.8M897.2 351.4h.8M946.8 350.8h.8M700.0 349.8h.8M797.4 337.8h.8M277.6 321.2h.8M370.6 318.7h.8M485.1 333.0h.8M536.6 324.7h.8M460.4 334.7h.8M356.0 341.3h.8M255.6 344.0h.8M396.3 327.7h.8M285.0 347.5h.8M979.3 329.6h.8M235.0 320.2h.8M799.9 330.9h.8M970.1 333.9h.8M279.7 351.2h.8M238.7 336.6h.8M627.0 321.6h.8M222.1 349.8h.8M243.2 340.4h.8M948.3 323.9h.8M199.7 331.7h.8M314.9 345.2h.8M432.8 344.5h.8M411.1 345.2h.8M451.5 331.7h.8M635.0 326.0h.8M397.7 350.9h.8M642.8 342.2h.8M339.2 338.7h.8M956.9 331.3h.8M764.7 350.5h.8M619.2 327.2h.8M888.5 324.7h.8M205.5 314.9h.8M176.7 324.3h.8M558.1 317.5h.8M957.6 325.3h.8M232.6 329.4h.8M261.9 338.1h.8M271.9 342.6h.8M207.0 333.7h.8M240.1 344.6h.8M815.3 342.9h.8M649.0 320.2h.8M696.8 322.2h.8M945.3 344.5h.8M319.2 314.6h.8M932.9 341.9h.8M940.0 349.4h.8M353.5 320.3h.8M250.5 320.4h.8M350.2 324.3h.8M269.8 335.2h.8M645.0 333.0h.8M886.9 350.7h.8M757.4 320.8h.8M600.7 344.8h.8M832.0 337.9h.8M382.3 324.2h.8M804.0 322.0h.8M577.4 351.1h.8M182.8 333.2h.8M193.7 330.4h.8M274.8 324.0h.8M179.7 327.6h.8M350.0 314.4h.8M561.1 334.6h.8M875.5 343.2h.8M978.1 342.8h.8M194.0 343.4h.8M471.1 331.4h.8M218.9 318.5h.8M815.5 325.3h.8M992.2 350.3h.8M738.8 320.6h.8M312.6 338.6h.8M330.6 317.6h.8M558.4 321.7h.8M374.6 331.2h.8M789.0 341.2h.8M387.7 349.5h.8M690.2 338.7h.8M330.9 341.9h.8M430.7 348.3h.8M660.5 347.4h.8M344.4 340.5h.8M992.3 326.8h.8M341.2 321.1h.8M950.6 341.6h.8M832.0 330.1h.8M627.7 318.5h.8M725.8 329.4h.8M949.1 336.9h.8M250.7 351.3h.8M769.8 336.4h.8M898.2 315.5h.8M376.8 346.0h.8M644.1 351.0h.8M247.6 349.8h.8M412.5 337.5h.8M327.4 327.7h.8M799.6 321.6h.8M621.4 325.0h.8M830.8 326.1h.8M429.3 332.3h.8M855.1 344.5h.8M463.9 351.2h.8M667.4 348.6h.8M536.6 346.4h.8M260.1 319.2h.8M439.2 316.2h.8M782.2 331.8h.8M569.3 329.3h.8M843.2 346.3h.8M616.5 343.7h.8M320.0 345.4h.8M824.7 317.3h.8M525.9 346.8h.8M311.4 342.4h.8M474.8 319.4h.8M604.0 335.6h.8M688.6 346.7h.8M473.9 337.5h.8M217.9 342.4h.8M642.7 331.2h.8M386.2 349.8h.8M642.0 347.4h.8M166.4 315.9h.8M776.7 317.1h.8M430.2 324.3h.8M877.7 330.2h.8M191.3 343.5h.8M477.1 337.6h.8M643.3 346.5h.8M349.1 351.0h.8M500.2 348.5h.8M358.9 351.1h.8M870.0 345.1h.8M588.9 332.2h.8M197.5 333.5h.8M835.8 344.7h.8M692.4 326.2h.8M633.3 340.6h.8M592.2 328.6h.8M529.9 325.7h.8M791.6 325.1h.8M527.0 347.7h.8M308.8 342.8h.8M634.6 350.1h.8M423.6 347.7h.8M612.2 346.0h.8M853.2 350.0h.8M462.4 325.3h.8M862.6 339.4h.8M954.1 319.7h.8M635.0 341.6h.8M324.8 327.7h.8M213.3 329.3h.8M355.4 346.4h.8M679.7 339.4h.8M210.5 347.6h.8M825.6 339.5h.8M817.2 330.6h.8M165.5 341.1h.8M666.4 344.6h.8M274.4 314.3h.8M435.1 328.9h.8M533.3 314.8h.8M353.5 350.8h.8M707.8 327.5h.8M863.8 348.8h.8M311.0 336.2h.8M396.7 348.2h.8M281.3 350.5h.8M522.1 348.1h.8M187.1 349.2h.8M752.8 329.4h.8M452.2 322.8h.8M200.5 338.4h.8M945.7 350.3h.8M288.1 336.0h.8M457.3 349.9h.8M867.3 323.4h.8M655.0 338.4h.8M630.0 335.3h.8M640.4 341.9h.8M846.8 334.5h.8M361.2 331.9h.8M815.5 335.3h.8M435.2 333.5h.8M741.9 346.6h.8M906.6 338.7h.8M514.3 334.5h.8M800.4 346.9h.8M317.1 335.7h.8M176.2 337.7h.8M270.5 346.0h.8M469.6 318.9h.8M676.3 343.3h.8M698.2 334.9h.8M164.7 337.6h.8M752.1 322.7h.8M973.2 351.1h.8M594.1 339.8h.8M536.5 322.2h.8M529.6 333.6h.8M799.8 320.1h.8M652.8 334.2h.8M247.9 339.9h.8M322.9 324.2h.8M726.2 348.0h.8M649.0 319.8h.8M874.7 339.9h.8M470.4 334.1h.8M513.7 315.5h.8M877.6 319.0h.8M1001.9 348.9h.8M956.9 340.5h.8M382.2 331.3h.8M497.5 345.7h.8M981.0 346.6h.8M233.5 339.3h.8M855.0 322.8h.8M544.0 338.9h.8M280.0 323.1h.8M798.7 345.4h.8M724.2 319.0h.8M464.5 345.0h.8M787.6 330.4h.8M494.1 351.3h.8M434.6 327.0h.8M320.0 336.0h.8M809.2 341.0h.8M268.1 328.2h.8M738.0 331.0h.8M924.3 340.1h.8M591.0 337.1h.8M880.8 341.6h.8M365.1 340.2h.8M854.3 325.4h.8M320.1 322.3h.8M991.4 341.3h.8M825.2 327.5h.8M680.0 345.0h.8M163.8 320.1h.8M441.2 322.0h.8M879.8 320.6h.8M778.0 326.1h.8M851.0 316.9h.8M934.5 319.6h.8M432.9 317.8h.8M239.9 346.5h.8M890.4 333.4h.8M963.3 341.5h.8M218.5 347.6h.8M904.0 322.7h.8M522.4 329.1h.8M193.4 317.1h.8M400.6 346.0h.8M571.2 336.1h.8M572.2 326.4h.8M317.6 323.2h.8M436.0 339.1h.8M915.6 325.6h.8M774.0 323.3h.8M518.0 341.0h.8M601.4 321.0h.8M309.1 327.2h.8M561.4 316.8h.8M758.3 317.8h.8M509.8 336.7h.8M372.3 345.8h.8M425.6 345.6h.8M688.1 287.8h.8M781.5 274.1h.8M977.0 290.6h.8M679.6 290.5h.8M563.6 302.0h.8M423.0 302.5h.8M589.7 296.0h.8M622.1 280.5h.8M991.4 286.8h.8M994.5 303.3h.8M673.6 286.9h.8M541.3 295.1h.8M361.3 254.2h.8M225.9 269.6h.8M565.1 301.7h.8M420.7 257.5h.8M444.3 287.2h.8M511.9 281.1h.8M630.8 290.4h.8M251.7 314.1h.8M708.5 314.3h.8M598.2 305.2h.8M785.0 302.9h.8M203.9 310.4h.8M440.9 282.3h.8M754.4 267.4h.8M964.7 288.7h.8M201.9 280.8h.8M460.3 285.2h.8M309.6 298.9h.8M367.7 279.8h.8M957.7 300.5h.8M585.6 283.0h.8M804.1 301.1h.8M388.0 281.6h.8M423.4 292.7h.8M691.0 288.7h.8M979.5 301.6h.8M343.1 298.3h.8M916.1 265.4h.8M213.3 309.9h.8M360.9 271.8h.8M743.4 310.2h.8M825.9 264.6h.8M846.9 301.6h.8M850.2 306.1h.8M944.7 311.0h.8M493.2 303.9h.8M851.6 273.0h.8M609.0 290.0h.8M408.2 286.5h.8M202.6 276.4h.8M964.7 295.3h.8M552.1 286.7h.8M481.3 259.1h.8M342.6 293.3h.8M742.9 274.5h.8M420.4 311.7h.8M741.6 311.6h.8M854.7 314.2h.8M901.9 268.9h.8M587.8 262.4h.8M816.7 280.3h.8M380.7 312.7h.8M260.6 312.5h.8M729.3 278.0h.8M956.2 299.7h.8M467.9 265.0h.8M827.1 254.4h.8M171.0 256.7h.8M509.6 270.3h.8M337.4 289.7h.8M794.3 276.6h.8M746.2 312.7h.8M930.6 313.5h.8M850.9 288.1h.8M684.6 307.8h.8M824.8 273.4h.8M372.0 258.9h.8M511.7 265.0h.8M358.1 300.2h.8M340.9 313.9h.8M282.3 310.6h.8M596.7 293.6h.8M251.7 260.1h.8M695.7 291.3h.8M392.7 297.7h.8M926.9 297.3h.8M584.9 259.6h.8M497.9 265.6h.8M220.2 277.5h.8M264.5 305.5h.8M234.7 263.2h.8M912.5 270.7h.8M581.6 312.0h.8M599.4 261.7h.8M768.3 314.3h.8M991.5 257.2h.8M656.5 314.1h.8M761.5 283.8h.8M166.3 296.0h.8M177.7 313.4h.8M732.5 273.0h.8M435.8 310.5h.8M392.8 307.6h.8M630.0 305.5h.8M928.6 314.2h.8M355.9 283.8h.8M538.6 312.8h.8M487.7 305.1h.8M833.0 307.1h.8M699.6 280.1h.8M512.8 313.7h.8M611.8 312.1h.8M364.8 259.4h.8M310.1 256.4h.8M296.6 314.0h.8M189.1 266.8h.8M915.0 305.5h.8M452.6 302.0h.8M694.6 304.0h.8M555.8 281.8h.8M393.8 311.3h.8M711.3 281.8h.8M166.2 296.7h.8M873.0 286.1h.8M729.5 254.7h.8M333.2 299.0h.8M287.2 261.7h.8M654.9 263.9h.8M714.5 302.1h.8M758.7 305.6h.8M586.1 283.6h.8M814.4 306.8h.8M795.9 289.6h.8M689.6 312.5h.8M604.4 312.6h.8M691.6 270.8h.8M484.9 296.7h.8M686.7 288.5h.8M984.9 266.6h.8M738.3 301.6h.8M209.2 279.9h.8M350.8 277.8h.8M710.4 265.0h.8M213.1 293.6h.8M448.5 302.0h.8M379.0 267.4h.8M545.2 289.1h.8M261.7 288.7h.8M694.3 311.6h.8M447.2 305.8h.8M626.6 312.9h.8M987.7 299.3h.8M939.7 313.9h.8M792.9 261.6h.8M532.1 300.2h.8M685.2 303.9h.8M369.6 260.4h.8M702.9 292.6h.8M548.7 270.5h.8M783.5 305.1h.8M425.2 298.1h.8M209.6 297.5h.8M259.5 280.7h.8M442.2 302.8h.8M346.0 306.6h.8M355.5 262.8h.8M544.6 289.4h.8M430.7 256.8h.8M665.2 310.0h.8M733.9 314.3h.8M997.9 274.9h.8M342.2 296.9h.8M926.0 272.3h.8M822.2 287.0h.8M328.3 281.8h.8M648.3 310.7h.8M210.6 290.8h.8M932.6 302.7h.8M698.1 312.2h.8M899.8 262.7h.8M415.2 276.7h.8M783.7 296.8h.8M901.8 313.7h.8M404.6 311.8h.8M856.6 275.1h.8M355.3 281.2h.8M592.1 287.9h.8M512.4 288.0h.8M632.9 303.2h.8M470.8 310.2h.8M692.4 268.4h.8M354.7 286.4h.8M490.3 309.6h.8M215.6 313.9h.8M787.0 311.3h.8M399.5 291.8h.8M328.7 287.0h.8M560.7 307.8h.8M732.3 282.7h.8M960.8 302.3h.8M814.3 283.9h.8M642.5 313.9h.8M421.2 297.0h.8M201.4 312.4h.8M854.4 312.0h.8M633.1 307.1h.8M604.7 299.2h.8M386.3 295.2h.8M396.2 257.6h.8M549.1 311.5h.8M785.6 310.2h.8M787.3 272.2h.8M937.2 291.2h.8M789.9 270.8h.8M846.7 285.2h.8M913.2 274.6h.8M483.7 300.5h.8M867.7 259.2h.8M479.6 259.5h.8M829.0 278.5h.8M447.0 305.4h.8M406.3 279.2h.8M551.4 307.8h.8M285.8 269.3h.8M323.0 310.0h.8M608.7 313.5h.8M502.5 308.7h.8M883.6 288.8h.8M577.2 294.5h.8M178.4 266.4h.8M955.6 314.3h.8M637.0 271.2h.8M873.7 256.4h.8M921.8 262.9h.8M286.1 253.0h.8M989.2 282.4h.8M899.5 306.1h.8M525.5 312.1h.8M558.5 253.4h.8M754.7 295.1h.8M427.4 308.3h.8M523.8 304.8h.8M573.2 287.6h.8M503.2 286.1h.8M510.2 292.6h.8M570.6 266.5h.8M913.7 286.7h.8M799.3 304.1h.8M299.6 303.4h.8M279.7 272.9h.8M931.8 282.5h.8M346.5 311.4h.8M810.1 287.5h.8M285.1 253.2h.8M794.9 256.0h.8M988.0 271.4h.8M942.5 257.7h.8M296.9 301.7h.8M613.7 282.8h.8M290.0 305.6h.8M810.9 255.6h.8M561.9 258.7h.8M897.2 261.5h.8M321.6 299.6h.8M719.8 269.1h.8M860.9 311.7h.8M731.4 314.1h.8M423.7 313.6h.8M591.8 311.6h.8M716.3 298.2h.8M842.5 302.9h.8M994.1 311.8h.8M231.7 292.5h.8M584.6 266.3h.8M185.3 309.6h.8M369.0 296.7h.8M851.9 280.9h.8M361.9 299.4h.8M806.7 288.7h.8M253.6 301.0h.8M183.4 295.3h.8M357.2 304.1h.8M447.7 264.6h.8M232.8 312.7h.8M273.4 297.0h.8M528.1 258.8h.8M772.8 305.7h.8M273.3 289.3h.8M861.4 307.7h.8M804.9 300.7h.8M966.3 256.6h.8M309.2 269.6h.8M658.6 299.4h.8M597.6 261.1h.8M566.9 288.1h.8M578.0 314.1h.8M799.6 312.2h.8M917.9 314.3h.8M639.3 306.4h.8M737.5 283.8h.8M789.5 268.5h.8M991.9 311.9h.8M355.7 293.5h.8M941.6 298.9h.8M337.1 290.9h.8M427.7 313.0h.8M840.5 295.3h.8M870.1 312.2h.8M446.4 311.8h.8M872.5 295.9h.8M671.3 313.6h.8M532.4 299.4h.8M753.9 307.2h.8M988.9 302.7h.8M594.0 294.4h.8M451.0 313.5h.8M195.9 260.3h.8M985.0 284.6h.8M275.0 309.1h.8M431.3 313.9h.8M449.9 305.1h.8M436.8 266.9h.8M631.6 252.6h.8M420.5 313.2h.8M802.8 275.9h.8M848.6 300.3h.8M846.3 312.4h.8M768.5 278.7h.8M637.8 284.5h.8M552.2 296.9h.8M561.7 285.0h.8M873.2 302.3h.8M630.4 299.3h.8M306.7 277.8h.8M168.4 263.5h.8M204.4 310.0h.8M788.2 296.6h.8M414.1 293.2h.8M944.3 282.2h.8M465.8 257.3h.8M367.9 312.5h.8M779.0 269.9h.8M830.8 298.9h.8M734.9 308.4h.8M387.6 257.8h.8M877.0 257.5h.8M626.1 277.3h.8M466.9 298.9h.8M941.0 274.6h.8M951.3 310.7h.8M509.6 260.0h.8M940.7 268.5h.8M906.1 305.9h.8M762.0 312.2h.8M547.4 314.2h.8M526.2 309.0h.8M506.4 280.4h.8M730.1 263.1h.8M946.5 303.8h.8M443.0 297.5h.8M375.9 266.5h.8M828.4 280.9h.8M707.0 304.5h.8M395.9 273.3h.8M240.4 253.3h.8M284.4 308.4h.8M801.1 260.6h.8M293.9 258.1h.8M590.8 311.6h.8M621.2 307.4h.8M706.4 283.6h.8M863.5 259.8h.8M886.6 280.1h.8M775.0 264.3h.8M865.5 292.8h.8M952.2 256.1h.8M328.5 308.3h.8M678.3 289.4h.8M517.4 292.6h.8M337.6 297.7h.8M660.9 274.0h.8M755.4 312.3h.8M339.0 293.6h.8M811.2 305.4h.8M782.3 307.5h.8M417.4 265.9h.8M327.6 266.7h.8M625.0 314.1h.8M557.4 289.7h.8M267.8 300.3h.8M570.2 294.2h.8M936.0 299.5h.8M915.1 304.5h.8M788.4 310.5h.8M652.8 274.4h.8M857.0 313.6h.8M787.3 310.6h.8M973.5 303.9h.8M879.3 310.2h.8M990.7 290.0h.8M348.3 260.2h.8M826.0 276.3h.8M522.2 307.4h.8M696.8 266.0h.8M781.5 277.3h.8M215.4 294.9h.8M407.0 290.2h.8M723.9 285.6h.8M165.3 303.8h.8M402.3 297.4h.8M402.1 309.1h.8M349.9 293.1h.8M903.2 308.1h.8M969.3 280.9h.8M914.8 262.9h.8M794.7 260.2h.8M325.6 283.3h.8M465.5 310.1h.8M393.6 282.2h.8M275.0 312.2h.8M872.8 268.8h.8M189.0 308.8h.8M165.7 290.3h.8M988.8 310.7h.8M647.4 296.3h.8M774.1 286.4h.8M777.5 312.2h.8M983.4 271.3h.8M254.1 314.3h.8M844.4 272.1h.8M482.1 259.0h.8M693.4 291.7h.8M197.4 293.5h.8M481.2 296.5h.8M452.3 266.0h.8M472.9 312.5h.8M373.8 267.1h.8M596.8 301.5h.8M897.9 254.0h.8M512.7 311.1h.8M432.7 312.0h.8M895.9 277.2h.8M432.8 282.0h.8M874.0 253.0h.8M308.7 295.1h.8M705.9 296.1h.8M606.7 295.2h.8M506.7 287.5h.8M494.6 304.4h.8M512.1 271.7h.8M292.8 294.2h.8M357.8 259.1h.8M169.9 301.6h.8M971.7 277.3h.8M360.8 275.4h.8M583.9 312.5h.8M250.4 313.7h.8M402.3 298.1h.8M977.5 262.5h.8M624.7 280.7h.8M683.8 269.1h.8M473.8 282.0h.8M345.3 307.6h.8M386.8 298.5h.8M411.8 285.7h.8M196.7 303.3h.8M670.5 270.5h.8M823.7 296.9h.8M686.3 314.1h.8M938.7 280.7h.8M827.9 312.2h.8M510.2 304.2h.8M869.8 273.4h.8M295.9 255.4h.8M335.4 311.3h.8M633.4 296.4h.8M963.6 313.7h.8M924.1 277.1h.8M429.4 310.7h.8M755.3 314.0h.8M408.5 312.9h.8M455.7 253.2h.8M872.5 289.1h.8M704.4 283.3h.8M822.1 267.6h.8M971.6 257.6h.8M450.5 257.2h.8M373.6 312.0h.8M709.3 313.7h.8M897.9 254.5h.8M835.9 306.2h.8M606.8 313.5h.8M537.6 268.2h.8M327.5 310.4h.8M460.8 301.4h.8M442.8 302.9h.8M222.5 282.5h.8M575.4 284.8h.8M436.0 261.3h.8M812.6 288.8h.8M484.6 265.7h.8M528.7 297.7h.8M639.3 313.5h.8M579.2 312.8h.8M934.0 270.9h.8M265.2 308.3h.8M720.9 289.6h.8M503.3 298.2h.8M352.2 298.1h.8M205.9 313.3h.8M360.8 314.1h.8M363.1 308.8h.8M460.7 286.1h.8M994.7 277.8h.8M851.1 288.5h.8M801.9 283.3h.8M170.0 300.6h.8M272.7 279.2h.8M468.3 296.7h.8M293.1 255.3h.8M395.9 311.1h.8M474.9 303.3h.8M321.5 278.4h.8M524.3 314.2h.8M958.9 311.7h.8M891.0 253.7h.8M621.5 272.9h.8M167.7 308.8h.8M828.1 278.5h.8M263.5 305.8h.8M226.7 270.8h.8M701.2 301.5h.8M637.8 292.5h.8M382.5 290.1h.8M169.5 276.7h.8M966.4 310.2h.8M528.6 286.1h.8M737.1 272.3h.8M439.1 274.0h.8M464.6 271.9h.8M588.8 287.5h.8M913.1 309.7h.8M581.2 301.7h.8M214.5 271.8h.8M327.9 310.2h.8M276.9 271.9h.8M754.1 302.7h.8M572.8 301.2h.8M576.7 313.9h.8M404.1 256.4h.8M431.5 278.1h.8M683.0 294.7h.8M683.9 278.5h.8M645.9 271.2h.8M415.0 307.5h.8M548.9 271.1h.8M580.5 314.3h.8M552.2 262.0h.8M303.2 287.6h.8M402.1 289.7h.8M803.3 302.7h.8M307.8 295.8h.8M988.0 314.1h.8M417.8 308.0h.8M559.6 271.2h.8M634.1 286.5h.8M350.8 290.3h.8M791.4 302.5h.8M179.3 255.3h.8M587.0 255.7h.8M675.4 302.0h.8M312.2 258.6h.8M802.7 287.4h.8M178.3 304.1h.8M517.4 312.6h.8M559.1 294.4h.8M334.1 290.8h.8M961.5 263.9h.8M852.4 304.0h.8M358.3 293.9h.8M945.9 308.3h.8M225.4 265.8h.8M172.7 291.8h.8M988.1 287.5h.8M170.5 304.0h.8M792.4 279.8h.8M234.9 294.9h.8M566.5 310.2h.8M272.5 303.6h.8M498.1 256.8h.8M437.6 262.2h.8M180.3 294.6h.8M289.0 313.4h.8M406.8 278.5h.8M672.2 304.8h.8M773.5 277.8h.8M888.7 278.9h.8M238.4 271.6h.8M964.1 263.5h.8M714.3 311.6h.8M889.9 292.9h.8M774.2 259.3h.8M341.8 314.1h.8M949.0 262.4h.8M234.9 295.2h.8M882.8 284.6h.8M600.8 252.8h.8M187.4 300.3h.8M294.3 256.0h.8M653.2 306.0h.8M891.6 260.3h.8M567.5 257.0h.8M343.7 278.8h.8M996.4 307.5h.8M752.8 267.7h.8M888.5 305.8h.8M485.3 312.0h.8M587.6 264.9h.8M412.1 263.3h.8M385.6 294.4h.8M718.3 269.1h.8M953.1 301.2h.8M491.1 273.4h.8M831.0 271.0h.8M387.4 264.8h.8M804.1 286.1h.8M443.7 276.2h.8M221.0 275.0h.8M513.9 273.3h.8M656.3 301.1h.8M428.9 292.3h.8M276.6 306.2h.8M698.2 309.0h.8M934.0 290.6h.8M432.1 309.7h.8M394.9 298.9h.8M277.2 303.7h.8M971.5 258.3h.8M928.6 257.2h.8M752.2 255.7h.8M700.0 298.1h.8M304.7 281.8h.8M972.2 258.2h.8M979.9 296.1h.8M737.3 252.5h.8M768.9 265.4h.8M892.7 288.7h.8M896.2 301.3h.8M855.6 296.7h.8M343.6 267.8h.8M828.3 283.0h.8M557.8 306.0h.8M869.7 280.8h.8M725.1 268.4h.8M185.5 270.5h.8M879.3 311.1h.8M202.7 264.6h.8M382.5 290.2h.8M943.2 309.1h.8M578.0 313.4h.8M895.1 265.0h.8M529.3 270.7h.8M289.5 269.5h.8M841.4 275.8h.8M191.1 304.3h.8M718.6 267.4h.8M576.1 279.1h.8M545.3 286.8h.8M401.8 308.8h.8M893.5 288.9h.8M432.6 304.4h.8M445.7 291.3h.8M295.2 295.6h.8M457.0 299.5h.8M470.0 313.7h.8M905.3 304.0h.8M790.3 257.6h.8M482.3 301.6h.8M730.6 257.8h.8M610.4 282.2h.8M253.8 303.5h.8M544.1 281.7h.8M483.1 275.2h.8M866.1 306.7h.8M604.8 312.3h.8M432.0 287.2h.8M858.1 309.1h.8M834.5 281.2h.8M853.4 313.3h.8M596.6 310.9h.8M813.0 279.8h.8M356.4 253.5h.8M915.1 299.3h.8M344.6 272.3h.8M447.3 264.9h.8M396.1 265.6h.8M459.3 286.4h.8M427.2 284.1h.8M212.5 300.8h.8M459.5 286.2h.8M835.9 292.9h.8M961.8 310.6h.8M778.0 298.9h.8M341.1 302.4h.8M477.1 293.3h.8M574.1 270.8h.8M827.9 298.7h.8M808.2 285.8h.8M191.9 267.8h.8M905.0 282.7h.8M587.9 260.8h.8M985.3 286.9h.8M209.1 291.4h.8M333.1 294.6h.8M667.9 307.9h.8M217.6 292.8h.8M733.9 290.8h.8M847.4 252.7h.8M979.4 302.3h.8M539.7 287.2h.8M346.2 258.0h.8M807.3 255.8h.8M486.9 292.3h.8M600.1 312.3h.8M379.4 281.5h.8M940.0 313.3h.8M444.3 291.8h.8M506.7 306.0h.8M307.1 303.6h.8M211.0 305.1h.8M216.2 263.3h.8M704.5 292.7h.8M433.3 279.8h.8M450.0 266.9h.8M872.7 307.3h.8M596.8 300.8h.8M988.0 307.3h.8M195.4 307.8h.8M953.2 284.2h.8M778.5 293.2h.8M754.4 297.0h.8M603.7 281.9h.8M829.3 257.9h.8M698.7 268.0h.8M298.6 308.6h.8M928.6 313.3h.8M548.3 306.9h.8M620.3 304.0h.8M922.5 312.3h.8M855.6 256.6h.8M503.1 269.6h.8M680.8 307.7h.8M599.2 311.5h.8M422.3 313.1h.8M314.4 262.9h.8M590.2 264.6h.8M548.7 303.8h.8M573.1 300.9h.8M980.9 313.9h.8M329.2 308.0h.8M589.4 299.4h.8M264.6 284.9h.8M903.2 289.4h.8M446.9 292.5h.8M369.5 313.8h.8M417.9 299.7h.8M814.3 298.1h.8M896.3 311.8h.8M426.1 309.7h.8M824.2 310.1h.8M635.2 292.1h.8M778.9 290.8h.8M404.8 257.3h.8M568.8 310.2h.8M619.8 291.6h.8M243.1 313.8h.8M579.6 276.8h.8M465.1 282.4h.8M380.3 276.1h.8M829.9 290.2h.8M934.4 298.2h.8M480.1 314.3h.8M479.1 273.0h.8M810.7 296.9h.8M536.1 285.1h.8M208.8 291.0h.8M873.4 311.5h.8M228.4 292.7h.8M675.2 300.0h.8M512.5 258.5h.8M996.3 254.3h.8M307.3 303.1h.8M385.0 260.9h.8M680.3 288.7h.8M236.1 270.5h.8M982.1 307.6h.8M407.2 314.2h.8M870.3 307.2h.8M305.2 264.1h.8M729.2 296.0h.8M366.4 256.6h.8M450.5 275.1h.8M700.1 299.4h.8M979.8 297.8h.8M379.6 307.6h.8M192.7 295.6h.8M943.9 275.8h.8M454.2 304.0h.8M837.4 268.3h.8M425.1 306.6h.8M383.3 269.1h.8M563.8 280.1h.8M731.2 270.2h.8M617.4 314.1h.8M718.7 307.0h.8M880.0 286.7h.8M740.0 279.2h.8M877.4 268.7h.8M932.9 268.0h.8M376.1 274.5h.8M458.2 274.0h.8M630.5 287.4h.8M241.3 309.5h.8M270.4 312.4h.8M891.1 260.7h.8M456.6 295.4h.8M644.4 278.5h.8M234.6 255.1h.8M188.5 311.9h.8M769.3 302.7h.8M699.3 288.5h.8M566.2 291.3h.8M846.3 298.4h.8M805.2 286.4h.8M905.4 312.2h.8M411.5 314.1h.8M187.3 289.6h.8M545.6 309.5h.8M293.3 308.8h.8M910.4 288.4h.8M512.7 287.8h.8M526.6 293.0h.8M224.5 254.0h.8M653.8 276.2h.8M918.0 312.4h.8M213.5 307.8h.8M306.0 309.0h.8M492.7 267.6h.8M660.0 276.5h.8M581.4 259.4h.8M900.8 311.4h.8M728.6 257.0h.8M850.1 289.0h.8M495.6 312.7h.8M391.1 312.6h.8M221.6 271.9h.8M585.9 300.6h.8M759.3 303.2h.8M930.1 307.5h.8M329.4 307.9h.8M963.2 262.9h.8M332.2 259.0h.8M191.3 278.3h.8M548.0 307.6h.8M662.9 307.8h.8M604.4 274.6h.8M516.6 261.4h.8M913.4 309.5h.8M339.3 314.2h.8M458.7 313.1h.8M416.7 311.7h.8M566.5 306.2h.8M940.3 270.4h.8M461.0 290.1h.8M234.1 313.4h.8M850.3 312.7h.8M471.7 307.2h.8M339.4 308.1h.8M347.8 258.6h.8M364.6 281.9h.8M364.0 258.8h.8M913.1 291.8h.8M956.0 276.1h.8M915.4 291.0h.8M229.2 313.0h.8M868.0 256.2h.8M514.1 262.6h.8M923.4 303.4h.8M799.9 271.9h.8M723.9 307.4h.8M206.7 302.5h.8M388.5 291.0h.8M459.4 298.7h.8M426.6 311.2h.8M397.6 280.7h.8M398.6 262.1h.8M894.1 295.1h.8M411.4 281.7h.8M908.7 268.7h.8M340.2 308.2h.8M203.8 257.8h.8M397.3 299.1h.8M806.0 304.6h.8M768.7 314.2h.8M504.0 314.0h.8M851.2 304.9h.8M845.7 273.7h.8M256.1 304.2h.8M829.1 279.4h.8M515.6 311.3h.8M304.3 301.6h.8M575.9 281.7h.8M892.1 278.8h.8M629.2 290.6h.8M677.0 313.6h.8M199.5 289.5h.8M524.0 264.5h.8M358.0 301.7h.8M374.3 281.6h.8M836.2 312.4h.8M486.6 279.6h.8M782.7 272.6h.8M301.1 276.5h.8M541.3 262.7h.8M327.3 266.9h.8M931.3 285.0h.8M305.3 301.7h.8M472.2 263.2h.8M307.6 297.9h.8M472.7 290.4h.8M774.0 314.0h.8M358.6 312.9h.8M576.3 282.1h.8M822.4 276.1h.8M299.1 253.2h.8M176.5 309.0h.8M691.8 282.3h.8M490.5 279.6h.8M541.9 303.5h.8M426.1 297.0h.8M253.9 277.0h.8M304.5 287.1h.8M941.0 269.0h.8M849.0 309.4h.8M838.6 314.2h.8M352.6 305.4h.8M732.0 254.2h.8M341.7 292.6h.8M403.8 276.2h.8M171.9 261.0h.8M414.9 309.7h.8M856.0 275.9h.8M824.3 263.4h.8M543.7 296.9h.8M827.9 292.9h.8M367.6 284.6h.8M530.3 273.2h.8M894.3 270.7h.8M220.7 289.0h.8M537.8 313.7h.8M404.9 314.3h.8M755.5 308.2h.8M312.1 264.6h.8M388.4 279.2h.8M719.7 283.2h.8M227.6 308.1h.8M853.9 299.3h.8M415.9 292.8h.8M192.2 277.3h.8M811.5 255.6h.8M428.0 278.9h.8M950.0 265.0h.8M550.4 256.6h.8M618.4 288.1h.8M645.9 309.3h.8M491.6 292.2h.8M823.1 288.4h.8M453.3 255.2h.8M228.9 309.7h.8M455.5 254.4h.8M554.8 298.7h.8M853.6 307.4h.8M834.4 313.0h.8M661.2 258.0h.8M669.4 306.9h.8M341.7 269.7h.8M386.0 258.9h.8M523.4 312.4h.8M774.7 275.1h.8M725.4 314.3h.8M473.8 293.1h.8M930.4 312.5h.8M524.6 301.5h.8M687.9 295.5h.8M430.3 293.5h.8M619.1 313.8h.8M431.5 306.5h.8M395.7 301.1h.8M394.4 300.6h.8M737.1 307.3h.8M962.3 313.0h.8M410.1 276.1h.8M711.7 303.9h.8M401.1 277.0h.8M478.7 269.7h.8M924.7 310.7h.8M728.2 307.4h.8M637.5 262.0h.8M695.7 263.7h.8M448.0 304.9h.8M617.5 301.0h.8M602.5 306.5h.8M337.6 285.0h.8M257.4 307.5h.8M238.7 278.9h.8M295.3 305.5h.8M881.9 291.1h.8M554.7 302.7h.8M596.5 272.0h.8M465.5 311.2h.8M317.2 278.1h.8M564.3 258.9h.8M348.1 277.1h.8M489.9 305.1h.8M764.9 303.1h.8M348.6 295.7h.8M519.9 312.8h.8M989.4 298.8h.8M467.4 311.5h.8M286.7 309.5h.8M222.9 289.2h.8M705.3 265.9h.8M382.5 269.8h.8M790.2 313.5h.8M328.6 308.7h.8M893.6 274.5h.8M215.9 307.0h.8M298.9 283.6h.8M523.0 257.7h.8M865.6 304.9h.8M391.5 292.4h.8M503.4 270.6h.8M324.4 264.5h.8M657.0 299.1h.8M974.5 301.6h.8M810.0 255.9h.8M911.6 254.1h.8M534.6 272.2h.8M862.9 304.3h.8M543.1 259.8h.8M818.8 303.9h.8M812.4 311.9h.8M493.1 287.5h.8M420.5 314.3h.8M644.9 284.6h.8M718.5 310.1h.8M222.2 313.7h.8M619.3 313.9h.8M334.2 292.6h.8M478.5 279.3h.8M275.5 291.4h.8M517.3 309.0h.8M925.6 258.7h.8M972.2 306.5h.8M183.5 278.4h.8M919.1 301.6h.8M412.3 269.6h.8M626.9 286.2h.8M759.4 291.1h.8M850.8 288.7h.8M782.3 314.3h.8M567.1 261.2h.8M571.7 278.8h.8M608.6 258.7h.8M227.0 305.1h.8M302.7 264.1h.8M981.1 309.1h.8M402.9 306.8h.8M671.0 277.4h.8M377.4 267.8h.8M542.0 292.7h.8M469.3 295.3h.8M190.9 313.8h.8M974.9 304.7h.8M457.3 254.5h.8M423.1 312.6h.8M892.7 298.7h.8M707.0 304.3h.8M269.3 308.0h.8M806.4 289.8h.8M719.4 275.8h.8M643.2 279.7h.8M325.3 309.4h.8M529.8 266.7h.8M350.8 271.9h.8M856.8 275.4h.8M253.9 311.5h.8M841.3 308.0h.8M182.2 286.8h.8M747.6 268.2h.8M762.2 285.8h.8M465.4 259.2h.8M387.5 295.5h.8M256.5 287.3h.8M739.2 291.4h.8M477.3 313.7h.8M695.4 313.8h.8M799.7 284.3h.8M886.4 281.1h.8M801.7 305.1h.8M952.2 286.6h.8M622.9 299.6h.8M870.6 283.3h.8M627.6 284.7h.8M822.1 253.6h.8M328.6 256.1h.8M401.0 296.6h.8M779.1 269.1h.8M449.8 303.8h.8M608.1 293.8h.8M500.4 304.2h.8M172.7 258.7h.8M456.3 260.3h.8M688.8 312.1h.8M312.7 300.2h.8M328.1 312.2h.8M805.5 293.0h.8M290.8 291.4h.8M733.7 267.1h.8M528.2 308.3h.8M194.7 286.3h.8M605.6 253.0h.8M370.7 313.6h.8M607.5 278.5h.8M359.8 305.4h.8M321.2 266.4h.8M645.2 305.4h.8M464.5 306.4h.8M182.3 267.5h.8M807.6 303.4h.8M451.6 258.9h.8M384.5 278.0h.8M931.7 304.0h.8M820.7 303.3h.8M984.7 310.9h.8M309.6 278.4h.8M452.4 295.3h.8M881.9 310.4h.8M352.2 284.4h.8M360.0 295.5h.8M346.2 283.0h.8M712.1 313.7h.8M824.2 258.3h.8M415.1 271.2h.8M421.7 261.6h.8M964.7 277.6h.8M507.3 301.8h.8M317.9 263.2h.8M944.8 277.5h.8M933.1 302.4h.8M232.1 293.8h.8M1001.2 286.0h.8M865.3 282.0h.8M508.4 293.3h.8M365.6 299.2h.8M968.2 259.7h.8M677.0 277.6h.8M434.8 282.4h.8M919.7 313.0h.8M981.4 309.9h.8M201.3 314.1h.8M502.6 275.1h.8M365.4 257.7h.8M805.9 311.1h.8M817.9 308.3h.8M760.4 313.6h.8M834.0 301.6h.8M740.5 313.2h.8M582.3 299.5h.8M285.8 297.4h.8M978.6 313.9h.8M969.7 302.0h.8M838.1 268.9h.8M651.8 284.4h.8M976.8 296.0h.8M841.1 293.6h.8M434.9 252.9h.8M280.6 256.9h.8M787.0 309.8h.8M908.5 313.8h.8M766.6 256.0h.8M803.3 259.9h.8M747.8 275.8h.8M923.8 259.1h.8M471.8 309.8h.8M481.2 312.2h.8M922.0 296.9h.8M982.7 312.1h.8M546.4 285.3h.8M473.5 277.4h.8M384.8 314.0h.8M908.0 290.0h.8M436.3 271.3h.8M249.5 304.0h.8M576.8 265.3h.8M654.5 295.0h.8M688.5 258.7h.8M477.2 309.3h.8M614.8 311.3h.8M368.1 281.3h.8M540.5 309.7h.8M164.3 255.1h.8M870.0 283.0h.8M631.8 293.9h.8M975.7 253.4h.8M957.8 282.1h.8M714.6 259.2h.8M357.0 292.9h.8M639.8 302.9h.8M658.1 286.8h.8M938.0 294.9h.8M504.9 289.2h.8M165.4 314.0h.8M186.9 263.5h.8M890.7 273.6h.8M381.1 284.6h.8M289.1 289.9h.8M604.1 279.9h.8M264.9 259.2h.8M657.1 252.7h.8M240.6 276.1h.8M849.3 253.2h.8M361.2 302.8h.8M912.0 278.2h.8M256.5 285.2h.8M413.0 270.2h.8M251.3 276.4h.8M499.2 310.4h.8M375.6 270.2h.8M957.4 255.7h.8M196.2 263.1h.8M689.1 299.3h.8M195.6 276.8h.8M612.6 308.1h.8M611.7 312.9h.8M954.8 266.2h.8M778.3 253.2h.8M312.5 293.5h.8M964.2 261.3h.8M700.5 312.0h.8M578.0 288.9h.8M614.1 304.8h.8M349.1 304.1h.8M369.9 256.0h.8M304.6 308.5h.8M987.1 311.5h.8M190.8 299.1h.8M630.0 281.4h.8M891.2 260.1h.8M175.1 270.0h.8M347.2 284.9h.8M854.4 311.7h.8M617.9 258.8h.8M506.2 282.7h.8M806.2 300.7h.8M253.8 278.6h.8M181.7 259.1h.8M567.0 288.9h.8M282.4 290.1h.8M532.1 281.7h.8M240.8 304.8h.8M617.2 272.3h.8M718.2 314.1h.8M951.9 299.0h.8M697.3 254.0h.8M864.9 301.0h.8M377.5 291.9h.8M582.7 311.3h.8M675.0 266.5h.8M312.8 284.4h.8M614.5 308.3h.8M881.7 311.2h.8M817.8 313.1h.8M910.1 305.5h.8M747.4 280.9h.8M728.3 272.5h.8M390.5 296.2h.8M659.9 277.2h.8M506.0 301.3h.8M687.6 312.6h.8M616.3 298.6h.8M736.7 302.7h.8M210.2 278.4h.8M431.4 313.2h.8M199.7 257.1h.8M585.0 311.1h.8M216.6 288.6h.8M527.3 313.7h.8M618.3 292.0h.8M649.8 312.1h.8M168.0 283.9h.8M164.7 291.9h.8M489.8 264.5h.8M606.9 310.8h.8M284.9 268.4h.8M356.3 285.9h.8M457.5 303.9h.8M470.7 284.2h.8M465.4 302.3h.8M464.2 266.0h.8M982.0 273.3h.8M801.5 299.8h.8M774.3 280.3h.8M991.7 307.0h.8M164.7 291.7h.8M756.2 303.3h.8M979.0 308.9h.8M701.9 265.7h.8M989.5 299.5h.8M775.6 311.0h.8M582.5 311.2h.8M814.3 290.2h.8M211.1 254.8h.8M576.8 265.6h.8M933.0 286.5h.8M531.0 279.7h.8M581.0 309.5h.8M164.1 273.1h.8M931.9 277.0h.8M609.8 266.9h.8M441.0 305.1h.8M821.8 262.9h.8M631.5 290.6h.8M678.8 299.3h.8M519.7 313.2h.8M656.0 269.7h.8M458.9 278.0h.8M776.8 279.1h.8M308.8 295.9h.8M668.6 263.1h.8M180.7 312.3h.8M324.5 270.8h.8M294.7 290.1h.8M416.7 278.6h.8M520.9 305.5h.8M608.8 262.3h.8M887.1 290.2h.8M763.8 259.5h.8M757.8 284.3h.8M809.1 312.0h.8M642.3 306.0h.8M582.0 312.8h.8M403.0 291.4h.8M845.8 254.4h.8M981.1 284.0h.8M842.3 299.3h.8M264.5 303.8h.8M730.4 288.2h.8M257.8 308.1h.8M738.9 258.0h.8M536.3 291.3h.8M914.6 275.0h.8M728.0 289.6h.8M848.6 302.8h.8M207.8 269.3h.8M732.8 312.4h.8M952.1 294.9h.8M546.7 313.0h.8M287.4 269.5h.8M756.1 287.7h.8M607.7 301.2h.8M824.5 254.6h.8M236.6 305.9h.8M811.1 278.9h.8M819.3 311.2h.8M506.1 294.4h.8M182.2 287.9h.8M301.4 292.5h.8M806.6 312.6h.8M949.2 274.4h.8M467.8 312.5h.8M739.6 296.8h.8M998.8 294.4h.8M677.9 302.2h.8M287.0 298.1h.8M347.3 292.1h.8M372.1 276.2h.8M882.3 279.9h.8M401.6 313.6h.8M793.2 298.7h.8M981.9 311.7h.8M679.3 265.3h.8M422.8 299.1h.8M380.8 314.2h.8M970.5 298.7h.8M856.3 314.3h.8M918.9 293.2h.8M860.4 303.9h.8M358.8 295.0h.8M507.6 302.5h.8M311.6 314.0h.8M179.6 310.9h.8M334.9 267.3h.8M720.6 288.4h.8M224.1 303.4h.8M961.0 262.0h.8M916.3 301.0h.8M708.1 306.6h.8M702.0 290.3h.8M655.7 313.6h.8M357.6 305.0h.8M597.8 303.6h.8M477.8 292.7h.8M635.8 301.1h.8M453.3 287.6h.8M687.6 275.0h.8M691.1 311.7h.8M460.7 282.7h.8M760.9 261.0h.8M776.5 285.7h.8M675.4 305.7h.8M645.2 300.7h.8M442.7 307.9h.8M965.3 255.5h.8M419.8 291.5h.8M220.0 267.7h.8M387.7 265.8h.8M359.2 291.6h.8M742.0 285.9h.8M923.5 275.5h.8M565.3 299.2h.8M495.5 295.4h.8M856.1 314.0h.8M417.8 278.2h.8M254.4 270.1h.8M459.1 263.0h.8M361.9 272.4h.8M883.1 302.8h.8M636.9 272.1h.8M953.5 287.5h.8M912.8 262.4h.8M977.3 308.6h.8M545.9 284.6h.8M675.8 312.3h.8M645.4 259.8h.8M616.5 309.6h.8M421.3 260.8h.8M515.0 312.8h.8M402.0 287.6h.8M300.9 293.1h.8M568.6 280.9h.8M395.8 309.3h.8M553.5 309.5h.8M632.7 299.1h.8M877.0 309.4h.8M607.1 305.2h.8M278.7 311.2h.8M632.2 291.2h.8M681.9 279.7h.8M226.5 255.3h.8M949.6 306.1h.8M305.0 270.6h.8M233.8 282.6h.8M422.5 255.8h.8M275.7 293.1h.8M268.9 311.5h.8M764.1 271.2h.8M293.3 253.2h.8M288.8 304.4h.8M371.6 306.4h.8M664.0 314.2h.8M839.2 268.8h.8M965.1 282.1h.8M274.2 304.7h.8M272.5 258.7h.8M670.8 276.9h.8M806.7 274.1h.8M975.4 309.5h.8M469.7 294.2h.8M675.5 292.4h.8M372.9 303.4h.8M728.4 313.0h.8M856.7 312.7h.8M519.4 263.9h.8M318.1 291.3h.8M338.0 312.0h.8M676.4 261.6h.8M507.6 260.1h.8M435.5 279.8h.8M891.9 309.7h.8M775.8 305.1h.8M495.5 311.0h.8M915.7 304.7h.8M497.9 266.2h.8M504.7 287.3h.8M656.0 271.1h.8M539.5 262.9h.8M354.9 253.2h.8M172.4 269.0h.8M597.7 263.7h.8M296.3 312.6h.8M809.8 297.9h.8M395.2 266.2h.8M665.6 308.4h.8M647.4 285.6h.8M203.8 291.0h.8M664.6 309.3h.8M916.2 300.1h.8M632.9 303.3h.8M525.9 254.4h.8M483.2 294.6h.8M378.0 298.3h.8M402.0 256.1h.8M948.0 310.9h.8M809.7 262.1h.8M724.6 258.0h.8M390.8 260.4h.8M819.1 279.6h.8M550.8 276.2h.8M956.1 309.7h.8M185.9 282.9h.8M217.6 261.7h.8M878.1 252.9h.8M274.2 296.9h.8M215.7 277.9h.8M259.8 312.1h.8M334.9 310.3h.8M894.0 259.8h.8M750.8 278.1h.8M525.7 308.7h.8M324.4 312.9h.8M238.5 305.1h.8M626.8 313.2h.8M635.0 292.5h.8M418.6 313.0h.8M501.4 265.8h.8M782.8 277.4h.8M416.4 310.0h.8M809.4 312.8h.8M550.7 301.0h.8M323.7 313.6h.8M416.8 287.6h.8M583.0 268.9h.8M698.8 256.0h.8M352.2 304.0h.8M458.1 311.0h.8M398.4 292.4h.8M488.8 304.6h.8M815.2 275.9h.8M936.5 289.5h.8M651.4 285.8h.8M938.3 302.7h.8M878.7 292.0h.8M807.8 271.4h.8M406.8 286.1h.8M542.7 310.2h.8M484.3 256.8h.8M446.2 311.4h.8M739.2 294.2h.8M675.1 311.5h.8M602.5 295.8h.8M643.2 294.1h.8M626.9 253.5h.8M259.1 313.6h.8M456.5 311.8h.8M191.3 274.3h.8M864.1 314.3h.8M319.5 308.3h.8M482.0 253.4h.8M228.8 299.3h.8M605.7 308.7h.8M446.1 277.8h.8M735.3 270.5h.8M749.2 302.4h.8M277.5 314.2h.8M721.8 270.4h.8M752.4 285.4h.8M505.9 313.7h.8M539.3 312.0h.8M410.3 272.9h.8M654.7 262.2h.8M884.9 276.4h.8M948.2 310.6h.8M784.9 283.2h.8M624.6 311.7h.8M582.1 261.1h.8M762.1 258.9h.8M816.9 313.3h.8M499.0 266.3h.8M767.8 293.1h.8M544.6 299.1h.8M471.7 301.3h.8M558.0 286.3h.8M292.2 310.0h.8M692.4 287.5h.8M574.1 291.1h.8M460.2 252.8h.8M413.0 290.3h.8M413.8 285.5h.8M419.0 297.3h.8M203.6 302.1h.8M543.4 284.4h.8M810.8 313.6h.8M433.4 306.9h.8M549.8 261.0h.8M943.7 276.3h.8M947.3 292.4h.8M681.4 311.3h.8M770.0 305.9h.8M627.9 307.4h.8M592.8 298.9h.8M900.2 291.0h.8M806.2 306.3h.8M586.2 290.6h.8M423.7 297.9h.8M180.3 310.7h.8M440.9 279.7h.8M650.7 277.1h.8M239.3 308.0h.8M941.5 311.2h.8M308.7 288.7h.8M549.6 263.9h.8M881.7 286.8h.8M540.4 296.0h.8M991.1 312.0h.8M567.9 273.1h.8M725.7 312.5h.8M844.5 259.1h.8M789.0 309.9h.8M915.7 310.9h.8M176.3 278.0h.8M742.8 271.7h.8M607.2 313.2h.8M194.6 282.2h.8M801.2 301.7h.8M804.2 299.9h.8M546.3 279.2h.8M740.8 282.1h.8M279.3 279.0h.8M817.9 274.1h.8M691.7 286.1h.8M367.5 252.9h.8M978.6 306.2h.8M714.1 274.0h.8M559.5 304.7h.8M458.6 310.5h.8M836.6 291.2h.8M1001.4 308.3h.8M986.9 282.0h.8M624.1 312.2h.8M218.7 292.7h.8M265.4 283.2h.8M360.3 259.7h.8M706.0 313.6h.8M885.2 279.5h.8M344.3 300.2h.8M729.3 262.2h.8M497.9 269.4h.8M952.1 256.9h.8M682.4 268.4h.8M225.6 277.1h.8M878.4 301.7h.8M875.5 301.5h.8M862.7 302.6h.8M628.5 284.0h.8M263.7 312.8h.8M455.8 296.8h.8M699.2 256.1h.8M953.0 311.5h.8M757.4 311.9h.8M218.3 312.4h.8M914.1 277.4h.8M599.1 287.2h.8M687.7 312.2h.8M562.7 260.8h.8M190.0 277.3h.8M224.1 290.2h.8M311.7 313.1h.8M216.3 297.1h.8M979.1 310.9h.8M533.2 303.8h.8M469.4 308.0h.8M495.7 254.4h.8M280.4 267.5h.8M829.6 295.1h.8M743.1 289.0h.8M994.3 313.6h.8M798.8 268.4h.8M711.4 255.2h.8M207.9 284.7h.8M789.0 313.1h.8M612.1 268.6h.8M726.2 299.8h.8M848.9 260.3h.8M355.0 306.6h.8M852.2 273.8h.8M523.4 253.4h.8M982.4 286.0h.8M482.1 312.7h.8M173.9 299.1h.8M525.9 312.8h.8M351.1 264.6h.8M788.9 301.0h.8M251.9 258.7h.8M921.7 273.1h.8M736.0 279.4h.8M389.9 288.6h.8M164.8 303.1h.8M318.4 312.1h.8M771.1 296.1h.8M429.1 271.6h.8M700.1 280.1h.8M921.1 309.4h.8M540.3 313.2h.8M779.4 274.2h.8M189.5 301.9h.8M223.0 268.7h.8M671.2 306.7h.8M749.9 258.7h.8M897.3 299.5h.8M182.4 300.5h.8M384.2 277.6h.8M440.7 266.2h.8M397.2 262.1h.8M942.0 289.7h.8M192.5 271.1h.8M881.4 311.3h.8M773.8 312.6h.8M430.1 304.7h.8M294.2 282.5h.8M990.5 292.2h.8M954.2 305.9h.8M270.8 305.1h.8M849.9 302.8h.8M454.7 264.1h.8M673.5 298.9h.8M894.1 311.0h.8M331.6 284.3h.8M576.7 279.3h.8M845.8 279.3h.8M309.9 276.3h.8M360.5 312.5h.8M412.1 299.6h.8M586.2 311.8h.8M694.8 299.8h.8M993.2 293.8h.8M860.5 269.5h.8M670.9 280.9h.8M234.9 260.8h.8M974.6 259.8h.8M231.3 308.2h.8M427.7 309.8h.8M377.7 312.4h.8M654.8 264.0h.8M444.3 267.2h.8M890.4 287.5h.8M887.5 306.4h.8M675.8 282.4h.8M166.2 253.7h.8M381.5 291.3h.8M826.2 293.9h.8M268.5 253.5h.8M892.2 292.9h.8M434.5 314.3h.8M425.6 254.4h.8M797.4 310.8h.8M707.6 312.8h.8M576.0 256.8h.8M185.7 292.4h.8M974.9 312.4h.8M540.1 270.0h.8M870.4 290.1h.8M648.2 289.7h.8M727.7 254.5h.8M716.5 307.7h.8M357.9 293.1h.8M723.0 270.6h.8M391.9 309.2h.8M238.4 273.3h.8M188.5 314.3h.8M532.8 269.6h.8M986.0 305.8h.8M457.5 312.1h.8M274.4 309.0h.8M828.6 277.4h.8M749.9 272.2h.8M332.0 255.4h.8M608.7 305.9h.8M838.4 306.7h.8M177.5 273.4h.8M270.7 253.4h.8M868.5 302.3h.8M973.8 286.2h.8M619.5 305.0h.8M918.8 284.7h.8M406.1 303.6h.8M413.7 302.7h.8M949.2 287.2h.8M689.0 274.7h.8M215.5 285.3h.8M819.8 312.9h.8M944.2 293.0h.8M177.5 254.9h.8M505.7 267.9h.8M984.5 313.9h.8M392.7 293.1h.8M413.5 277.2h.8M467.4 293.9h.8M507.8 271.9h.8M617.6 299.5h.8M894.2 296.3h.8M995.7 311.4h.8M241.3 278.4h.8M908.5 313.6h.8M449.8 275.9h.8M767.9 288.8h.8M739.1 264.1h.8M648.6 299.9h.8M336.8 302.4h.8M848.8 265.3h.8M467.0 307.3h.8M983.9 313.5h.8M488.8 298.3h.8M748.7 313.8h.8M734.1 313.9h.8M336.3 296.2h.8M805.3 309.1h.8M711.8 314.1h.8M294.1 303.8h.8M227.2 269.5h.8M645.7 267.7h.8M555.2 288.6h.8M186.8 258.6h.8M426.6 282.5h.8M876.0 298.3h.8M452.4 273.1h.8M837.9 260.7h.8M502.2 302.1h.8M586.3 286.0h.8M727.5 267.7h.8M691.2 306.5h.8M812.3 272.1h.8M865.0 312.4h.8M499.3 265.7h.8M491.3 310.3h.8M194.6 277.8h.8M188.2 301.8h.8M548.2 310.0h.8M546.4 275.4h.8M223.3 302.9h.8M723.2 284.2h.8M635.2 305.0h.8M461.1 258.6h.8M567.5 304.8h.8M558.1 311.9h.8M642.4 257.9h.8M708.6 314.3h.8M870.3 308.9h.8M193.1 305.3h.8M609.8 314.3h.8M993.4 298.3h.8M170.9 279.5h.8M983.4 314.1h.8M296.6 311.9h.8M468.7 299.8h.8M188.8 256.0h.8M806.6 305.0h.8M691.4 293.8h.8M834.8 307.0h.8M964.7 275.7h.8M687.9 288.0h.8M709.3 314.1h.8M909.8 293.3h.8M329.1 301.0h.8M768.4 271.4h.8M344.6 299.6h.8M992.5 313.3h.8M493.1 256.8h.8M768.3 291.2h.8M540.1 313.2h.8M794.2 302.1h.8M225.1 255.5h.8M236.0 294.5h.8M746.0 289.7h.8M494.0 275.1h.8M368.7 278.0h.8M515.1 255.7h.8M878.9 307.8h.8M911.3 296.0h.8M449.0 310.8h.8M309.8 313.9h.8M348.0 299.4h.8M736.9 261.1h.8M742.0 255.9h.8M956.1 264.4h.8M405.7 313.8h.8M659.4 300.6h.8M986.3 314.1h.8M956.5 305.1h.8M732.6 275.9h.8M565.3 272.4h.8M868.0 311.6h.8M847.6 253.9h.8M854.7 286.2h.8M664.8 312.4h.8M633.4 304.3h.8M358.6 258.9h.8M379.7 308.9h.8M883.5 290.1h.8M898.7 309.8h.8M919.8 297.6h.8M905.5 284.8h.8M448.3 301.2h.8M255.6 288.9h.8M224.4 261.1h.8M379.2 303.2h.8M486.4 293.9h.8M939.4 313.0h.8M459.1 289.7h.8M595.7 263.8h.8M616.5 280.6h.8M724.0 300.3h.8M534.3 308.4h.8M258.3 256.2h.8M729.6 311.8h.8M871.0 298.1h.8M509.9 271.0h.8M412.2 279.5h.8M819.2 280.5h.8M302.4 311.7h.8M794.6 285.0h.8M467.4 258.3h.8M626.9 253.6h.8M317.0 267.7h.8M988.7 310.0h.8M331.7 294.2h.8M430.9 286.5h.8M251.8 313.9h.8M242.6 312.1h.8M448.9 271.1h.8M651.6 310.2h.8M663.3 254.0h.8M970.0 311.2h.8M748.3 312.8h.8M887.1 302.9h.8M692.4 260.3h.8M540.0 303.2h.8M210.6 280.5h.8M726.8 279.7h.8M233.2 302.2h.8M393.7 310.5h.8M256.2 307.6h.8M884.9 264.5h.8M674.1 303.0h.8M438.7 261.4h.8M278.7 311.9h.8M956.8 305.5h.8M963.9 304.5h.8M246.5 303.1h.8M884.6 265.2h.8M674.4 290.5h.8M531.9 301.8h.8M950.4 299.1h.8M254.0 286.6h.8M477.7 303.3h.8M955.6 280.8h.8M552.2 259.5h.8M317.4 309.6h.8M979.5 312.0h.8M785.3 304.8h.8M251.5 257.4h.8M766.8 303.0h.8M338.8 276.9h.8M794.7 304.4h.8M195.0 301.4h.8M621.1 303.9h.8M808.2 294.3h.8M345.1 289.6h.8M278.4 277.4h.8M981.3 307.4h.8M311.0 287.1h.8M367.4 312.0h.8M585.3 309.4h.8M734.0 292.1h.8M349.7 260.9h.8M620.3 270.9h.8M822.7 306.3h.8M349.6 304.7h.8M592.3 275.2h.8M265.5 306.0h.8M176.6 270.1h.8M943.0 286.2h.8M654.6 296.9h.8M437.1 300.1h.8M163.6 307.4h.8M563.9 302.2h.8M680.3 310.7h.8M486.0 258.9h.8M347.3 253.7h.8M164.9 255.4h.8M976.5 260.3h.8M999.0 254.7h.8M584.0 269.0h.8M314.4 268.6h.8M305.6 265.2h.8M807.7 279.4h.8M814.2 302.8h.8M841.7 259.6h.8M698.3 279.4h.8M359.9 298.6h.8M761.1 286.5h.8M623.3 311.3h.8M175.6 293.7h.8M852.4 253.2h.8M281.9 254.4h.8M398.6 254.8h.8M510.8 270.0h.8M641.5 282.5h.8M218.5 311.3h.8M922.8 313.5h.8M678.6 257.1h.8M697.7 287.4h.8M756.2 271.1h.8M407.4 311.9h.8M421.4 283.5h.8M344.4 301.4h.8M553.3 302.0h.8M706.1 258.2h.8M613.2 270.0h.8M358.2 262.2h.8M883.1 312.0h.8M176.4 297.6h.8M371.6 314.3h.8M299.9 268.3h.8M574.0 282.9h.8M579.8 312.1h.8M988.7 258.2h.8M537.9 255.7h.8M727.9 297.5h.8M261.2 253.7h.8M194.7 297.6h.8M435.3 275.8h.8M485.8 313.5h.8M490.6 314.0h.8M656.2 258.5h.8M721.0 256.3h.8M636.6 288.7h.8M641.8 314.1h.8M426.9 294.6h.8M616.3 261.6h.8M755.6 302.2h.8M989.5 284.9h.8M224.1 291.1h.8M410.3 298.7h.8M675.6 266.7h.8M769.8 257.3h.8M642.6 312.0h.8M654.4 263.7h.8M440.9 255.0h.8M222.2 284.7h.8M352.2 286.5h.8M362.4 290.5h.8M320.3 259.4h.8M935.4 291.6h.8M306.0 289.2h.8M333.7 259.4h.8M870.4 311.7h.8M284.9 282.6h.8M377.8 311.7h.8M308.3 313.8h.8M888.3 311.2h.8M223.3 305.1h.8M185.1 271.4h.8M804.1 290.3h.8M987.7 259.5h.8M650.1 310.4h.8M791.9 314.3h.8M964.3 271.1h.8M729.1 311.6h.8M839.1 271.3h.8M953.3 296.8h.8M476.3 263.7h.8M518.7 280.2h.8M794.9 308.5h.8M637.3 269.5h.8M986.8 306.6h.8M446.0 295.0h.8M302.0 314.3h.8M717.6 274.9h.8M513.0 311.2h.8M502.2 311.7h.8M687.1 313.3h.8M393.5 313.5h.8M584.5 259.8h.8M736.4 311.7h.8M278.0 280.5h.8M236.7 286.1h.8M194.1 312.4h.8M903.6 298.7h.8M432.1 313.6h.8M775.9 288.8h.8M762.4 312.5h.8M484.4 303.2h.8M170.1 296.7h.8M605.5 292.5h.8M768.2 295.7h.8M558.8 309.6h.8M502.8 307.5h.8M524.1 281.7h.8M565.6 307.6h.8M794.0 311.2h.8M861.7 263.0h.8M332.9 309.6h.8M631.7 313.9h.8M592.0 293.1h.8M824.1 309.3h.8M791.8 313.0h.8M597.9 297.4h.8M475.6 293.6h.8M444.9 277.7h.8M724.1 314.3h.8M519.6 304.2h.8M713.7 267.5h.8M818.1 261.6h.8M939.3 289.3h.8M179.3 277.4h.8M903.1 260.6h.8M524.2 311.7h.8M577.7 310.6h.8M411.1 309.6h.8M869.2 255.7h.8M855.9 286.4h.8M902.2 260.4h.8M517.5 300.0h.8M412.6 309.1h.8M847.6 303.1h.8M505.0 265.0h.8M660.9 313.8h.8M682.8 312.5h.8M582.0 306.8h.8M816.3 287.9h.8M542.7 273.6h.8M922.4 297.7h.8M748.3 310.7h.8M960.5 313.0h.8M709.0 299.4h.8M246.3 311.5h.8M496.9 310.8h.8M602.9 253.1h.8M802.4 263.5h.8M544.1 309.5h.8M197.5 288.0h.8M505.9 279.8h.8M423.1 305.0h.8M697.4 260.8h.8M541.0 272.6h.8M184.3 291.8h.8M895.2 314.1h.8M814.6 296.5h.8M234.8 282.8h.8M983.5 300.4h.8M273.5 290.5h.8M213.7 254.9h.8M692.4 294.0h.8M225.2 300.3h.8M163.0 311.3h.8M568.5 304.3h.8M562.7 279.7h.8M200.4 257.9h.8M688.8 289.1h.8M194.5 256.7h.8M481.0 306.9h.8M750.9 293.8h.8M335.4 312.3h.8M898.0 269.3h.8M976.3 279.6h.8M526.0 260.1h.8M222.2 295.4h.8M889.4 289.9h.8M831.9 272.0h.8M409.4 256.4h.8M189.3 273.0h.8M172.6 311.9h.8M193.9 309.3h.8M634.8 297.7h.8M640.0 261.3h.8M442.5 313.3h.8M918.2 254.4h.8M973.2 260.9h.8M620.3 312.3h.8M940.2 256.8h.8M464.2 309.7h.8M207.5 298.5h.8M357.0 301.7h.8M452.1 270.0h.8M507.4 310.1h.8M662.3 293.4h.8M225.7 294.5h.8M407.9 306.4h.8M916.6 252.6h.8M574.0 262.2h.8M516.6 264.7h.8M590.6 303.9h.8M427.8 261.5h.8M890.8 258.9h.8M938.2 306.8h.8M187.7 279.3h.8M655.8 302.4h.8M369.1 276.0h.8M813.4 310.8h.8M437.9 302.9h.8M398.2 273.2h.8M178.1 302.3h.8M828.7 313.2h.8M525.4 255.2h.8M981.1 277.9h.8M819.4 284.0h.8M506.9 314.0h.8M570.0 314.3h.8M239.6 291.5h.8M915.3 298.9h.8M592.6 311.4h.8M679.0 260.8h.8M988.5 313.5h.8M363.4 294.6h.8M561.1 260.1h.8M767.8 286.1h.8M309.9 280.1h.8M582.4 279.3h.8M163.2 299.6h.8M436.0 298.3h.8M588.8 271.0h.8M604.7 308.5h.8M568.9 287.6h.8M203.7 286.8h.8M634.3 282.4h.8M727.7 273.5h.8M235.2 303.3h.8M390.6 283.2h.8M909.0 300.7h.8M819.8 314.2h.8M374.3 289.8h.8M915.3 275.6h.8M911.9 255.9h.8M388.4 258.2h.8M297.8 287.2h.8M333.4 312.1h.8M432.6 278.0h.8M743.7 310.4h.8M456.5 255.7h.8M661.7 268.7h.8M1001.8 311.9h.8M205.3 268.0h.8M846.3 303.4h.8M841.8 278.6h.8M443.8 278.9h.8M823.9 291.8h.8M614.9 308.7h.8M225.5 313.3h.8M829.4 253.4h.8M843.0 264.6h.8M554.5 312.1h.8M930.7 289.7h.8M655.9 276.5h.8M357.6 258.5h.8M635.5 284.9h.8M451.9 287.8h.8M961.3 310.0h.8M345.4 278.2h.8M758.5 293.0h.8M795.4 290.4h.8M335.7 303.7h.8M425.7 300.6h.8M291.5 261.2h.8M450.2 309.1h.8M262.7 294.0h.8M221.2 296.1h.8M281.4 294.0h.8M273.1 306.9h.8M966.8 313.7h.8M588.7 268.3h.8M802.9 311.0h.8M420.1 288.1h.8M776.8 260.0h.8M615.1 311.1h.8M192.1 287.6h.8M896.8 306.4h.8M745.5 274.1h.8M165.2 309.1h.8M574.2 307.6h.8M251.8 281.8h.8M287.7 284.4h.8M997.9 313.9h.8M370.4 312.3h.8M562.1 271.5h.8M799.5 303.4h.8M434.7 289.6h.8M616.5 313.0h.8M927.5 269.9h.8M782.3 312.8h.8M628.1 311.1h.8M942.1 309.5h.8M247.6 291.5h.8M577.0 296.1h.8M774.2 288.4h.8M516.4 263.6h.8M338.4 290.8h.8M220.8 270.9h.8M332.3 288.0h.8M752.1 312.9h.8M237.2 292.3h.8M672.8 309.0h.8M447.8 257.7h.8M705.7 309.9h.8M677.6 305.8h.8M191.0 314.3h.8M835.2 255.9h.8M360.6 275.7h.8M806.0 310.4h.8M969.0 262.6h.8M203.1 307.1h.8M773.5 299.3h.8M272.6 314.0h.8M911.8 258.0h.8M538.9 274.9h.8M725.6 253.2h.8M411.6 293.8h.8M672.6 258.2h.8M932.2 271.6h.8M608.6 302.2h.8M985.4 274.9h.8M972.8 305.0h.8M553.4 295.2h.8M516.7 263.0h.8M572.8 275.4h.8M589.6 261.1h.8M860.8 304.0h.8M1000.6 265.3h.8M832.4 279.5h.8M530.9 311.1h.8M247.0 301.1h.8M689.5 263.9h.8M481.3 277.9h.8M662.9 261.5h.8M933.7 314.3h.8M781.4 304.7h.8M953.4 313.3h.8M476.4 313.9h.8M679.1 313.7h.8M233.4 287.0h.8M291.4 314.3h.8M899.9 267.0h.8M582.1 265.9h.8M655.6 263.9h.8M250.8 313.9h.8M734.2 304.3h.8M642.7 274.8h.8M591.5 304.4h.8M958.9 299.6h.8M539.4 291.3h.8M192.9 289.7h.8M678.2 310.0h.8M751.5 295.7h.8M956.2 299.9h.8M234.4 259.8h.8M399.4 256.4h.8M718.4 301.6h.8M584.0 270.1h.8M898.5 311.2h.8M409.6 312.5h.8M595.5 305.4h.8M397.9 281.4h.8M977.6 308.6h.8M603.5 297.1h.8M640.2 302.6h.8M315.6 304.6h.8M931.5 292.8h.8M961.8 314.2h.8M321.8 259.6h.8M256.0 286.8h.8M310.6 311.3h.8M562.6 264.1h.8M633.9 314.2h.8M341.4 253.3h.8M821.8 291.1h.8M434.5 303.3h.8M193.1 307.5h.8M873.6 300.7h.8M877.9 256.5h.8M734.2 304.6h.8M529.8 311.8h.8M357.0 301.6h.8M195.7 265.6h.8M583.0 301.3h.8M687.5 295.4h.8M429.8 299.6h.8M534.6 303.9h.8M471.7 294.7h.8M884.5 210.5h.8M887.8 236.8h.8M962.3 252.2h.8M873.0 222.4h.8M185.3 206.9h.8M438.3 227.3h.8M209.5 224.2h.8M716.1 243.1h.8M443.0 211.7h.8M929.4 252.5h.8M413.2 233.1h.8M428.0 244.2h.8M636.7 206.7h.8M838.0 241.3h.8M894.8 193.2h.8M285.2 249.6h.8M980.9 251.6h.8M377.0 191.1h.8M848.2 249.2h.8M504.6 191.3h.8M374.5 213.5h.8M375.2 239.3h.8M950.7 223.3h.8M521.6 194.8h.8M915.7 196.7h.8M604.7 251.1h.8M429.2 249.7h.8M399.6 250.4h.8M726.9 213.3h.8M180.7 209.8h.8M837.5 234.3h.8M986.6 251.6h.8M193.3 251.2h.8M284.2 214.3h.8M691.0 251.1h.8M856.1 218.8h.8M644.8 246.7h.8M486.1 193.0h.8M671.5 252.2h.8M527.2 230.5h.8M742.2 232.5h.8M342.4 221.7h.8M585.4 222.6h.8M990.1 200.7h.8M430.2 214.6h.8M339.0 243.4h.8M211.1 212.4h.8M349.4 208.3h.8M667.0 209.1h.8M744.7 249.7h.8M780.1 210.1h.8M528.8 212.6h.8M432.7 251.6h.8M589.4 252.0h.8M469.6 198.8h.8M883.0 215.8h.8M495.4 250.6h.8M598.8 251.8h.8M808.0 211.1h.8M236.0 244.7h.8M607.2 241.4h.8M746.4 252.4h.8M796.5 223.0h.8M352.4 251.9h.8M274.9 250.4h.8M551.9 250.4h.8M173.2 242.1h.8M198.4 252.5h.8M846.3 228.0h.8M381.9 246.0h.8M509.5 239.3h.8M679.8 249.9h.8M671.4 225.2h.8M885.0 209.9h.8M806.5 229.0h.8M206.5 201.8h.8M709.0 227.7h.8M466.2 251.8h.8M256.9 200.7h.8M551.8 240.8h.8M916.5 235.7h.8M437.6 240.6h.8M579.0 226.8h.8M758.8 252.3h.8M794.2 219.1h.8M936.3 243.1h.8M266.6 193.3h.8M405.0 206.9h.8M934.6 217.5h.8M401.7 234.1h.8M640.5 246.5h.8M649.1 192.6h.8M653.8 227.8h.8M538.1 247.2h.8M874.9 251.7h.8M559.8 226.7h.8M991.2 249.9h.8M960.5 224.5h.8M203.4 244.6h.8M279.8 203.6h.8M714.1 202.4h.8M201.9 238.6h.8M882.6 250.8h.8M448.8 226.7h.8M890.3 248.6h.8M350.8 252.3h.8M641.0 224.5h.8M198.9 251.0h.8M553.5 225.8h.8M202.2 203.2h.8M626.1 226.5h.8M700.4 241.9h.8M662.3 241.1h.8M782.5 233.9h.8M207.4 241.9h.8M216.0 202.3h.8M227.8 238.3h.8M778.3 239.7h.8M182.6 249.1h.8M508.9 247.4h.8M857.2 248.6h.8M960.6 221.4h.8M356.4 239.5h.8M651.8 250.2h.8M922.0 250.7h.8M734.6 234.3h.8M867.9 251.8h.8M279.8 230.6h.8M376.1 247.5h.8M429.1 214.2h.8M609.8 250.6h.8M703.8 250.2h.8M164.1 246.7h.8M487.7 235.5h.8M363.2 250.5h.8M853.8 251.4h.8M603.0 210.6h.8M458.3 223.2h.8M392.5 224.1h.8M224.5 195.0h.8M954.4 195.2h.8M730.5 237.4h.8M681.9 210.7h.8M908.0 235.3h.8M441.7 249.4h.8M407.8 219.7h.8M234.4 226.9h.8M204.0 213.0h.8M349.2 238.0h.8M883.2 216.1h.8M261.1 222.5h.8M485.7 192.0h.8M356.6 226.7h.8M557.5 234.7h.8M696.8 239.7h.8M818.9 226.1h.8M376.4 248.9h.8M709.1 231.4h.8M298.1 239.0h.8M935.5 239.8h.8M411.1 226.3h.8M211.9 242.9h.8M933.5 252.4h.8M276.7 243.2h.8M348.9 252.4h.8M593.3 227.2h.8M182.5 218.2h.8M622.7 225.5h.8M363.7 225.5h.8M1001.3 201.9h.8M474.5 252.5h.8M466.3 214.8h.8M508.7 226.7h.8M734.7 238.8h.8M345.8 215.8h.8M556.7 233.3h.8M449.3 231.8h.8M674.5 208.5h.8M752.3 231.3h.8M873.5 214.2h.8M812.2 251.6h.8M941.3 237.8h.8M387.7 216.0h.8M308.4 226.4h.8M208.9 222.1h.8M818.5 217.8h.8M610.7 213.0h.8M338.2 236.4h.8M630.5 246.3h.8M939.7 198.3h.8M634.1 252.5h.8M431.3 217.6h.8M603.7 218.4h.8M632.2 211.8h.8M883.5 196.3h.8M579.4 216.1h.8M857.8 247.3h.8M955.5 251.5h.8M542.5 251.9h.8M903.8 216.7h.8M207.8 243.9h.8M752.6 248.5h.8M319.0 244.9h.8M492.8 234.6h.8M366.9 245.9h.8M930.5 252.3h.8M330.5 248.9h.8M578.9 224.7h.8M569.9 196.7h.8M568.2 251.4h.8M263.1 228.1h.8M240.2 214.7h.8M755.4 247.3h.8M970.3 194.2h.8M463.3 250.6h.8M554.3 245.9h.8M846.9 251.0h.8M575.1 240.2h.8M850.3 240.6h.8M262.5 252.5h.8M522.0 241.8h.8M504.2 217.3h.8M453.9 232.9h.8M253.9 252.5h.8M513.5 221.2h.8M435.0 196.6h.8M225.8 251.3h.8M366.7 248.8h.8M260.5 250.0h.8M983.9 244.7h.8M905.0 201.5h.8M536.6 213.4h.8M790.4 225.1h.8M650.0 227.6h.8M226.7 225.4h.8M670.2 203.2h.8M808.0 235.3h.8M678.5 246.4h.8M361.2 250.3h.8M662.2 245.6h.8M350.3 217.8h.8M913.9 251.0h.8M987.4 243.0h.8M522.2 221.8h.8M925.7 206.8h.8M870.6 227.0h.8M690.5 252.5h.8M613.4 252.1h.8M922.6 246.2h.8M699.5 252.2h.8M849.8 249.4h.8M214.3 245.5h.8M732.0 228.6h.8M406.8 240.0h.8M170.5 249.6h.8M249.2 195.4h.8M324.0 223.7h.8M705.3 251.9h.8M809.3 211.0h.8M802.3 251.6h.8M216.4 223.7h.8M967.6 218.0h.8M178.1 222.8h.8M251.3 249.1h.8M499.2 220.5h.8M453.6 247.1h.8M786.2 243.4h.8M477.3 251.8h.8M395.8 215.3h.8M175.5 233.4h.8M405.5 223.9h.8M367.4 236.1h.8M709.9 198.1h.8M278.6 234.5h.8M681.3 252.5h.8M276.0 248.5h.8M509.1 252.5h.8M342.8 238.2h.8M829.9 194.8h.8M915.8 251.6h.8M241.2 230.4h.8M598.7 251.1h.8M588.3 198.3h.8M565.6 238.2h.8M443.1 226.1h.8M969.2 228.9h.8M453.1 220.6h.8M613.7 227.4h.8M501.6 251.6h.8M801.6 245.0h.8M218.0 242.4h.8M344.4 219.1h.8M181.8 208.0h.8M656.2 251.5h.8M778.1 240.4h.8M663.0 245.7h.8M289.5 243.9h.8M657.3 192.5h.8M720.7 234.6h.8M790.6 215.4h.8M482.3 252.3h.8M896.8 250.6h.8M303.4 245.2h.8M748.2 239.3h.8M510.7 250.3h.8M815.4 216.8h.8M689.8 201.7h.8M194.1 209.5h.8M813.8 236.2h.8M481.8 192.5h.8M826.4 196.3h.8M194.8 216.3h.8M393.2 252.4h.8M851.2 202.4h.8M823.0 232.0h.8M640.7 251.7h.8M720.6 246.1h.8M851.0 251.9h.8M326.0 246.9h.8M609.4 245.0h.8M481.5 235.3h.8M288.7 232.5h.8M179.4 238.8h.8M666.4 233.2h.8M178.0 233.3h.8M922.3 242.1h.8M388.5 208.5h.8M868.9 210.9h.8M553.7 248.6h.8M261.0 225.6h.8M289.9 137.1h.8M279.7 166.3h.8M706.3 139.2h.8M424.4 148.0h.8M915.1 119.0h.8M541.2 190.6h.8M232.8 185.8h.8M186.7 134.2h.8M691.9 190.5h.8M974.1 164.7h.8M917.8 186.2h.8M723.6 82.3h.8M744.0 181.1h.8M947.7 178.0h.8M494.3 160.8h.8M399.9 94.9h.8M557.4 189.6h.8M436.3 121.0h.8M918.9 190.3h.8M786.2 98.9h.8M164.9 154.3h.8M921.8 142.1h.8M947.8 129.1h.8M370.2 101.1h.8" stroke="#b4b4b4"/>
<path d="M163 376.1H1003" stroke="#d2d2d2" stroke-width="1"/>
</g>
<g fill="#bd252b"><circle cx="216.5" cy="195.1" r="1.25"/><circle cx="216.5" cy="220.4" r="1.25"/><circle cx="216.5" cy="240.2" r="1.25"/><circle cx="216.5" cy="249.5" r="1.25"/><circle cx="216.5" cy="252.5" r="1.25"/><circle cx="216.5" cy="263.7" r="1.25"/><circle cx="216.5" cy="269.8" r="1.25"/><circle cx="216.5" cy="279.7" r="1.25"/><circle cx="216.5" cy="286.5" r="1.25"/><circle cx="216.5" cy="290.8" r="1.25"/><circle cx="216.5" cy="295.8" r="1.25"/><circle cx="216.5" cy="300.7" r="1.25"/><circle cx="216.5" cy="305.1" r="1.25"/><circle cx="216.5" cy="310.0" r="1.25"/><circle cx="216.5" cy="314.3" r="1.25"/><circle cx="216.5" cy="318.6" r="1.25"/><circle cx="216.5" cy="322.4" r="1.25"/><circle cx="216.5" cy="326.7" r="1.25"/><circle cx="216.5" cy="330.4" r="1.25"/><circle cx="216.5" cy="333.5" r="1.25"/><circle cx="216.5" cy="335.8" r="1.25"/><circle cx="216.5" cy="337.5" r="1.25"/><circle cx="216.5" cy="339.6" r="1.25"/><circle cx="216.5" cy="341.2" r="1.25"/><circle cx="216.5" cy="344.1" r="1.25"/><circle cx="216.5" cy="345.7" r="1.25"/><circle cx="216.5" cy="348.6" r="1.25"/><circle cx="216.5" cy="350.4" r="1.25"/><circle cx="216.5" cy="352.1" r="1.25"/><circle cx="216.5" cy="354.6" r="1.25"/><circle cx="216.5" cy="357.1" r="1.25"/><circle cx="216.5" cy="359.4" r="1.25"/><circle cx="216.5" cy="361.4" r="1.25"/><circle cx="216.5" cy="363.6" r="1.25"/><circle cx="216.5" cy="365.8" r="1.25"/><circle cx="216.5" cy="368.7" r="1.25"/><circle cx="216.5" cy="371.1" r="1.25"/><circle cx="216.5" cy="374.0" r="1.25"/><circle cx="216.5" cy="376.1" r="1.25"/><circle cx="260.9" cy="238.9" r="1.25"/><circle cx="260.9" cy="255.0" r="1.25"/><circle cx="260.9" cy="264.9" r="1.25"/><circle cx="260.9" cy="268.0" r="1.25"/><circle cx="260.9" cy="271.1" r="1.25"/><circle cx="260.9" cy="276.0" r="1.25"/><circle cx="260.9" cy="286.5" r="1.25"/><circle cx="260.9" cy="290.8" r="1.25"/><circle cx="260.9" cy="295.8" r="1.25"/><circle cx="260.9" cy="302.0" r="1.25"/><circle cx="260.9" cy="306.9" r="1.25"/><circle cx="260.9" cy="312.5" r="1.25"/><circle cx="260.9" cy="317.4" r="1.25"/><circle cx="260.9" cy="323.0" r="1.25"/><circle cx="260.9" cy="327.9" r="1.25"/><circle cx="260.9" cy="331.6" r="1.25"/><circle cx="260.9" cy="334.7" r="1.25"/><circle cx="260.9" cy="336.8" r="1.25"/><circle cx="260.9" cy="338.5" r="1.25"/><circle cx="260.9" cy="340.9" r="1.25"/><circle cx="260.9" cy="343.4" r="1.25"/><circle cx="260.9" cy="345.0" r="1.25"/><circle cx="260.9" cy="347.1" r="1.25"/><circle cx="260.9" cy="349.7" r="1.25"/><circle cx="260.9" cy="351.7" r="1.25"/><circle cx="260.9" cy="354.7" r="1.25"/><circle cx="260.9" cy="357.1" r="1.25"/><circle cx="260.9" cy="359.8" r="1.25"/><circle cx="260.9" cy="361.7" r="1.25"/><circle cx="260.9" cy="364.5" r="1.25"/><circle cx="260.9" cy="366.6" r="1.25"/><circle cx="260.9" cy="368.3" r="1.25"/><circle cx="260.9" cy="370.6" r="1.25"/><circle cx="260.9" cy="372.4" r="1.25"/><circle cx="260.9" cy="374.7" r="1.25"/><circle cx="260.9" cy="376.1" r="1.25"/><circle cx="280.8" cy="96.9" r="1.25"/><circle cx="280.8" cy="161.7" r="1.25"/><circle cx="280.8" cy="185.8" r="1.25"/><circle cx="280.8" cy="221.7" r="1.25"/><circle cx="280.8" cy="232.8" r="1.25"/><circle cx="280.8" cy="255.0" r="1.25"/><circle cx="280.8" cy="266.7" r="1.25"/><circle cx="280.8" cy="271.1" r="1.25"/><circle cx="280.8" cy="276.0" r="1.25"/><circle cx="280.8" cy="283.4" r="1.25"/><circle cx="280.8" cy="293.9" r="1.25"/><circle cx="280.8" cy="295.8" r="1.25"/><circle cx="280.8" cy="302.0" r="1.25"/><circle cx="280.8" cy="309.4" r="1.25"/><circle cx="280.8" cy="314.3" r="1.25"/><circle cx="280.8" cy="318.6" r="1.25"/><circle cx="280.8" cy="322.4" r="1.25"/><circle cx="280.8" cy="326.7" r="1.25"/><circle cx="280.8" cy="330.4" r="1.25"/><circle cx="280.8" cy="333.5" r="1.25"/><circle cx="280.8" cy="335.6" r="1.25"/><circle cx="280.8" cy="337.5" r="1.25"/><circle cx="280.8" cy="340.2" r="1.25"/><circle cx="280.8" cy="342.2" r="1.25"/><circle cx="280.8" cy="344.7" r="1.25"/><circle cx="280.8" cy="347.5" r="1.25"/><circle cx="280.8" cy="349.4" r="1.25"/><circle cx="280.8" cy="351.3" r="1.25"/><circle cx="280.8" cy="353.0" r="1.25"/><circle cx="280.8" cy="355.6" r="1.25"/><circle cx="280.8" cy="357.2" r="1.25"/><circle cx="280.8" cy="360.2" r="1.25"/><circle cx="280.8" cy="361.9" r="1.25"/><circle cx="280.8" cy="364.7" r="1.25"/><circle cx="280.8" cy="367.5" r="1.25"/><circle cx="280.8" cy="370.2" r="1.25"/><circle cx="280.8" cy="373.2" r="1.25"/><circle cx="280.8" cy="375.4" r="1.25"/><circle cx="280.8" cy="376.1" r="1.25"/><circle cx="531.4" cy="237.1" r="1.25"/><circle cx="531.4" cy="242.7" r="1.25"/><circle cx="531.4" cy="259.3" r="1.25"/><circle cx="531.4" cy="272.3" r="1.25"/><circle cx="531.4" cy="281.6" r="1.25"/><circle cx="531.4" cy="289.6" r="1.25"/><circle cx="531.4" cy="297.0" r="1.25"/><circle cx="531.4" cy="305.1" r="1.25"/><circle cx="531.4" cy="311.2" r="1.25"/><circle cx="531.4" cy="316.2" r="1.25"/><circle cx="531.4" cy="320.5" r="1.25"/><circle cx="531.4" cy="326.7" r="1.25"/><circle cx="531.4" cy="331.6" r="1.25"/><circle cx="531.4" cy="334.7" r="1.25"/><circle cx="531.4" cy="337.2" r="1.25"/><circle cx="531.4" cy="338.7" r="1.25"/><circle cx="531.4" cy="341.1" r="1.25"/><circle cx="531.4" cy="343.7" r="1.25"/><circle cx="531.4" cy="345.7" r="1.25"/><circle cx="531.4" cy="347.7" r="1.25"/><circle cx="531.4" cy="349.3" r="1.25"/><circle cx="531.4" cy="350.9" r="1.25"/><circle cx="531.4" cy="352.8" r="1.25"/><circle cx="531.4" cy="354.4" r="1.25"/><circle cx="531.4" cy="356.0" r="1.25"/><circle cx="531.4" cy="358.0" r="1.25"/><circle cx="531.4" cy="360.3" r="1.25"/><circle cx="531.4" cy="363.0" r="1.25"/><circle cx="531.4" cy="364.7" r="1.25"/><circle cx="531.4" cy="367.7" r="1.25"/><circle cx="531.4" cy="370.5" r="1.25"/><circle cx="531.4" cy="372.8" r="1.25"/><circle cx="531.4" cy="374.5" r="1.25"/><circle cx="531.4" cy="376.1" r="1.25"/><circle cx="648.3" cy="82.6" r="1.25"/><circle cx="648.3" cy="184.6" r="1.25"/><circle cx="648.3" cy="195.7" r="1.25"/><circle cx="648.3" cy="206.2" r="1.25"/><circle cx="648.3" cy="214.2" r="1.25"/><circle cx="648.3" cy="226.0" r="1.25"/><circle cx="648.3" cy="234.0" r="1.25"/><circle cx="648.3" cy="235.2" r="1.25"/><circle cx="648.3" cy="243.3" r="1.25"/><circle cx="648.3" cy="250.7" r="1.25"/><circle cx="648.3" cy="257.5" r="1.25"/><circle cx="648.3" cy="263.7" r="1.25"/><circle cx="648.3" cy="269.8" r="1.25"/><circle cx="648.3" cy="276.0" r="1.25"/><circle cx="648.3" cy="281.6" r="1.25"/><circle cx="648.3" cy="286.5" r="1.25"/><circle cx="648.3" cy="289.6" r="1.25"/><circle cx="648.3" cy="295.8" r="1.25"/><circle cx="648.3" cy="298.9" r="1.25"/><circle cx="648.3" cy="303.2" r="1.25"/><circle cx="648.3" cy="308.1" r="1.25"/><circle cx="648.3" cy="311.8" r="1.25"/><circle cx="648.3" cy="315.6" r="1.25"/><circle cx="648.3" cy="319.3" r="1.25"/><circle cx="648.3" cy="323.0" r="1.25"/><circle cx="648.3" cy="326.7" r="1.25"/><circle cx="648.3" cy="329.8" r="1.25"/><circle cx="648.3" cy="332.9" r="1.25"/><circle cx="648.3" cy="334.4" r="1.25"/><circle cx="648.3" cy="336.2" r="1.25"/><circle cx="648.3" cy="338.7" r="1.25"/><circle cx="648.3" cy="340.7" r="1.25"/><circle cx="648.3" cy="343.7" r="1.25"/><circle cx="648.3" cy="346.2" r="1.25"/><circle cx="648.3" cy="348.8" r="1.25"/><circle cx="648.3" cy="351.7" r="1.25"/><circle cx="648.3" cy="354.0" r="1.25"/><circle cx="648.3" cy="356.1" r="1.25"/><circle cx="648.3" cy="358.7" r="1.25"/><circle cx="648.3" cy="360.4" r="1.25"/><circle cx="648.3" cy="362.2" r="1.25"/><circle cx="648.3" cy="363.9" r="1.25"/><circle cx="648.3" cy="366.6" r="1.25"/><circle cx="648.3" cy="369.1" r="1.25"/><circle cx="648.3" cy="371.0" r="1.25"/><circle cx="648.3" cy="373.9" r="1.25"/><circle cx="648.3" cy="375.7" r="1.25"/><circle cx="648.3" cy="376.1" r="1.25"/><circle cx="684.4" cy="190.8" r="1.25"/><circle cx="684.4" cy="206.2" r="1.25"/><circle cx="684.4" cy="255.0" r="1.25"/><circle cx="684.4" cy="264.9" r="1.25"/><circle cx="684.4" cy="272.3" r="1.25"/><circle cx="684.4" cy="277.3" r="1.25"/><circle cx="684.4" cy="282.2" r="1.25"/><circle cx="684.4" cy="286.5" r="1.25"/><circle cx="684.4" cy="290.8" r="1.25"/><circle cx="684.4" cy="294.6" r="1.25"/><circle cx="684.4" cy="298.3" r="1.25"/><circle cx="684.4" cy="302.0" r="1.25"/><circle cx="684.4" cy="305.1" r="1.25"/><circle cx="684.4" cy="308.1" r="1.25"/><circle cx="684.4" cy="311.2" r="1.25"/><circle cx="684.4" cy="314.3" r="1.25"/><circle cx="684.4" cy="316.8" r="1.25"/><circle cx="684.4" cy="339.0" r="1.25"/><circle cx="684.4" cy="344.0" r="1.25"/><circle cx="684.4" cy="348.3" r="1.25"/><circle cx="684.4" cy="351.4" r="1.25"/><circle cx="684.4" cy="353.4" r="1.25"/><circle cx="684.4" cy="356.2" r="1.25"/><circle cx="684.4" cy="358.7" r="1.25"/><circle cx="684.4" cy="361.8" r="1.25"/><circle cx="684.4" cy="364.4" r="1.25"/><circle cx="684.4" cy="372.6" r="1.25"/><circle cx="684.4" cy="374.9" r="1.25"/><circle cx="684.4" cy="376.1" r="1.25"/></g>
<rect x="122.7" y="52.7" width="921.2" height="338.0" fill="none" stroke="#000" stroke-width="2"/>
<path d="M216.5 390.7v4.2M260.9 390.7v4.2M280.8 390.7v4.2M531.4 390.7v4.2M648.3 390.7v4.2M684.4 390.7v4.2" stroke="#1a1a1a" stroke-width="1.2" fill="none"/>
<path d="M122.7 376.1h-3.6M122.7 314.3h-3.6M122.7 252.5h-3.6M122.7 190.8h-3.6M122.7 129.0h-3.6M122.7 67.2h-3.6" stroke="#1a1a1a" stroke-width="1.2" fill="none"/>
<text transform="translate(116.2 384.9) scale(1 1.04)" font-size="24.1" text-anchor="end">0</text>
<text transform="translate(116.2 323.1) scale(1 1.04)" font-size="24.1" text-anchor="end">1</text>
<text transform="translate(116.2 261.3) scale(1 1.04)" font-size="24.1" text-anchor="end">2</text>
<text transform="translate(116.2 199.5) scale(1 1.04)" font-size="24.1" text-anchor="end">3</text>
<text transform="translate(116.2 137.7) scale(1 1.04)" font-size="24.1" text-anchor="end">4</text>
<text transform="translate(116.2 76.0) scale(1 1.04)" font-size="24.1" text-anchor="end">5</text>
<text transform="translate(234.6 397.3) rotate(-90) scale(1 1.04)" font-size="24.45" text-anchor="end">B2M</text>
<text transform="translate(279.0 397.3) rotate(-90) scale(1 1.04)" font-size="24.45" text-anchor="end">CARD11</text>
<text transform="translate(298.9 397.3) rotate(-90) scale(1 1.04)" font-size="24.45" text-anchor="end">CCND3</text>
<text transform="translate(549.5 397.3) rotate(-90) scale(1 1.04)" font-size="24.45" text-anchor="end">IDH1</text>
<text transform="translate(666.4 397.3) rotate(-90) scale(1 1.04)" font-size="24.45" text-anchor="end">MYC</text>
<text transform="translate(702.5 397.3) rotate(-90) scale(1 1.04)" font-size="24.45" text-anchor="end">NFKBIE</text>
<text transform="translate(76 195.2) rotate(-90)" font-size="26.7" font-weight="bold" text-anchor="middle">-Log<tspan font-size="17" dy="6.5">10</tspan><tspan dy="-6.5">(FDR)</tspan></text>
<text x="0.5" y="54" font-size="69">a</text>
</g>
<g id="panel-b">
<g>
<rect x="1236.6" y="43.3" width="678.7" height="402.9" fill="#f7fbff"/>
<rect x="1732.97" y="43.30" width="10.73" height="40.29" fill="#96a2cf"/>
<rect x="1743.10" y="43.30" width="10.73" height="40.29" fill="#8c9aca"/>
<rect x="1753.23" y="43.30" width="10.73" height="40.29" fill="#b9c1e2"/>
<rect x="1763.36" y="43.30" width="10.73" height="40.29" fill="#b9c1e2"/>
<rect x="1773.49" y="43.30" width="10.73" height="40.29" fill="#b9c1e2"/>
<rect x="1783.62" y="43.30" width="10.73" height="40.29" fill="#b9c1e2"/>
<rect x="1793.75" y="43.30" width="10.73" height="40.29" fill="#afb8dd"/>
<rect x="1803.88" y="43.30" width="10.73" height="40.29" fill="#afb8dd"/>
<rect x="1814.01" y="43.30" width="10.73" height="40.29" fill="#afb8dd"/>
<rect x="1824.14" y="43.30" width="10.73" height="40.29" fill="#afb8dd"/>
<rect x="1834.27" y="43.30" width="10.73" height="40.29" fill="#a1acd5"/>
<rect x="1844.40" y="43.30" width="10.73" height="40.29" fill="#a1acd5"/>
<rect x="1854.53" y="43.30" width="10.73" height="40.29" fill="#a1acd5"/>
<rect x="1864.66" y="43.30" width="10.73" height="40.29" fill="#aab4da"/>
<rect x="1874.79" y="43.30" width="10.73" height="40.29" fill="#aab4da"/>
<rect x="1884.92" y="43.30" width="10.73" height="40.29" fill="#aab4da"/>
<rect x="1895.05" y="43.30" width="10.73" height="40.29" fill="#aab4da"/>
<rect x="1905.18" y="43.30" width="10.13" height="40.29" fill="#aab4da"/>
<rect x="1408.81" y="83.59" width="10.13" height="40.29" fill="#9da8d2"/>
<rect x="1459.46" y="83.59" width="10.73" height="40.29" fill="#7a8bbf"/>
<rect x="1469.59" y="83.59" width="10.73" height="40.29" fill="#a3aed6"/>
<rect x="1479.72" y="83.59" width="10.73" height="40.29" fill="#9ca8d2"/>
<rect x="1489.85" y="83.59" width="10.73" height="40.29" fill="#adb6dc"/>
<rect x="1499.98" y="83.59" width="10.73" height="40.29" fill="#aab4da"/>
<rect x="1510.11" y="83.59" width="10.73" height="40.29" fill="#a8b2d9"/>
<rect x="1520.24" y="83.59" width="10.73" height="40.29" fill="#b3bcdf"/>
<rect x="1530.37" y="83.59" width="10.73" height="40.29" fill="#b3bcdf"/>
<rect x="1540.50" y="83.59" width="10.73" height="40.29" fill="#b3bcdf"/>
<rect x="1550.63" y="83.59" width="10.73" height="40.29" fill="#b3bcdf"/>
<rect x="1560.76" y="83.59" width="10.73" height="40.29" fill="#b9c1e2"/>
<rect x="1570.89" y="83.59" width="10.73" height="40.29" fill="#b9c1e2"/>
<rect x="1581.02" y="83.59" width="10.73" height="40.29" fill="#b9c1e2"/>
<rect x="1591.15" y="83.59" width="10.73" height="40.29" fill="#b9c1e2"/>
<rect x="1601.28" y="83.59" width="10.13" height="40.29" fill="#b9c1e2"/>
<rect x="1611.41" y="123.88" width="10.73" height="40.29" fill="#7081ba"/>
<rect x="1621.54" y="123.88" width="10.73" height="40.29" fill="#98a3cf"/>
<rect x="1631.67" y="123.88" width="10.73" height="40.29" fill="#929ecb"/>
<rect x="1641.80" y="123.88" width="10.73" height="40.29" fill="#b5bde0"/>
<rect x="1651.93" y="123.88" width="10.73" height="40.29" fill="#b9c0e1"/>
<rect x="1662.06" y="123.88" width="10.73" height="40.29" fill="#a7b1d8"/>
<rect x="1672.19" y="123.88" width="10.73" height="40.29" fill="#b3bbde"/>
<rect x="1682.32" y="123.88" width="10.13" height="40.29" fill="#a9b3d9"/>
<rect x="1327.77" y="164.17" width="10.73" height="40.29" fill="#2f5597"/>
<rect x="1337.90" y="164.17" width="10.73" height="40.29" fill="#7585bb"/>
<rect x="1348.03" y="164.17" width="10.73" height="40.29" fill="#a9b3d9"/>
<rect x="1358.16" y="164.17" width="10.73" height="40.29" fill="#909dcb"/>
<rect x="1368.29" y="164.17" width="10.73" height="40.29" fill="#9ba6d1"/>
<rect x="1378.42" y="164.17" width="10.13" height="40.29" fill="#9ba6d1"/>
<rect x="1408.81" y="204.46" width="10.73" height="40.29" fill="#909dcb"/>
<rect x="1418.94" y="204.46" width="10.73" height="40.29" fill="#b7bfe1"/>
<rect x="1429.07" y="204.46" width="10.73" height="40.29" fill="#b4bcdf"/>
<rect x="1439.20" y="204.46" width="10.73" height="40.29" fill="#adb6dc"/>
<rect x="1449.33" y="204.46" width="10.13" height="40.29" fill="#a8b2d9"/>
<rect x="1236.60" y="244.75" width="10.73" height="40.29" fill="#8494c6"/>
<rect x="1246.73" y="244.75" width="10.73" height="40.29" fill="#6479b5"/>
<rect x="1256.86" y="244.75" width="10.73" height="40.29" fill="#2f5597"/>
<rect x="1266.99" y="244.75" width="10.73" height="40.29" fill="#667ab5"/>
<rect x="1277.12" y="244.75" width="10.13" height="40.29" fill="#5b71b0"/>
<rect x="1692.45" y="285.04" width="10.73" height="40.29" fill="#aeb8dc"/>
<rect x="1702.58" y="285.04" width="10.73" height="40.29" fill="#b5bde0"/>
<rect x="1712.71" y="285.04" width="10.73" height="40.29" fill="#b9c1e2"/>
<rect x="1722.84" y="285.04" width="10.13" height="40.29" fill="#b9c1e2"/>
<rect x="1287.25" y="325.33" width="10.73" height="40.29" fill="#7b8bc0"/>
<rect x="1297.38" y="325.33" width="10.73" height="40.29" fill="#6f80ba"/>
<rect x="1307.51" y="325.33" width="10.73" height="40.29" fill="#2f5699"/>
<rect x="1317.64" y="325.33" width="10.13" height="40.29" fill="#2f5597"/>
<rect x="1256.86" y="365.62" width="10.73" height="40.29" fill="#6a7db7"/>
<rect x="1266.99" y="365.62" width="10.73" height="40.29" fill="#a3aed7"/>
<rect x="1277.12" y="365.62" width="10.13" height="40.29" fill="#8796c7"/>
<rect x="1388.55" y="405.91" width="10.73" height="40.29" fill="#9eaad4"/>
<rect x="1398.68" y="405.91" width="10.13" height="40.29" fill="#6f81ba"/>
</g>
<text transform="translate(1928.4 71.3) scale(1 1.04)" font-size="22.6">IDH1</text>
<text transform="translate(1928.4 111.6) scale(1 1.04)" font-size="22.6">NFKBIE</text>
<text transform="translate(1928.4 151.9) scale(1 1.04)" font-size="22.6">B2M</text>
<text transform="translate(1928.4 192.2) scale(1 1.04)" font-size="22.6">MYC</text>
<text transform="translate(1928.4 232.5) scale(1 1.04)" font-size="22.6">CARD11</text>
<text transform="translate(1928.4 272.8) scale(1 1.04)" font-size="22.6">CCND3</text>
<text transform="translate(1928.4 313.1) scale(1 1.04)" font-size="22.6">CUX1</text>
<text transform="translate(1928.4 353.4) scale(1 1.04)" font-size="22.6">SOCS1</text>
<text transform="translate(1928.4 393.7) scale(1 1.04)" font-size="22.6">SMARCA4</text>
<text transform="translate(1928.4 434.0) scale(1 1.04)" font-size="22.6">BTG1</text>
<text x="1576.4" y="26.8" font-size="36" text-anchor="middle">expression outlier</text>
<text transform="translate(1221.6 244.3) rotate(-90) scale(1 1.03)" font-size="36" text-anchor="middle">COSMIC gene variants</text>
<text x="1120" y="49.5" font-size="69">b</text>
<defs><linearGradient id="lgb" x1="0" y1="0" x2="0" y2="1"><stop offset="0" stop-color="#2f5597"/><stop offset="0.055" stop-color="#34599a"/><stop offset="0.23" stop-color="#536ba9"/><stop offset="0.41" stop-color="#7585bc"/><stop offset="0.585" stop-color="#98a4d0"/><stop offset="0.76" stop-color="#bdc5e4"/><stop offset="0.94" stop-color="#eef0f9"/><stop offset="1" stop-color="#ffffff"/></linearGradient></defs>
<rect x="2048.7" y="151.2" width="28.4" height="155.5" fill="url(#lgb)"/>
<path d="M2048.7 159.7h7.6M2077.1 159.7h-7.6M2048.7 187.3h7.6M2077.1 187.3h-7.6M2048.7 214.8h7.6M2077.1 214.8h-7.6M2048.7 242.2h7.6M2077.1 242.2h-7.6M2048.7 269.6h7.6M2077.1 269.6h-7.6M2048.7 297.1h7.6M2077.1 297.1h-7.6" stroke="#fff" stroke-width="2.4" fill="none"/>
<text transform="translate(2083.2 167.9) scale(1 1.04)" font-size="21.9">10</text>
<text transform="translate(2083.2 195.5) scale(1 1.04)" font-size="21.9">8</text>
<text transform="translate(2083.2 223.0) scale(1 1.04)" font-size="21.9">6</text>
<text transform="translate(2083.2 250.4) scale(1 1.04)" font-size="21.9">4</text>
<text transform="translate(2083.2 277.8) scale(1 1.04)" font-size="21.9">2</text>
<text transform="translate(2083.2 305.3) scale(1 1.04)" font-size="21.9">0</text>
<text x="2050.1" y="141.8" font-size="22.3" font-weight="bold">−log(q)</text>
</g>
<g id="panel-c">
<g stroke="#aaa8ab" stroke-opacity="0.83" fill="none">
<path d="M196.9 663.9L373.5 719.5" stroke-width="9.3"/>
<path d="M196.9 663.9L140.4 878.4" stroke-width="19.3"/>
<path d="M196.9 663.9L246.5 1060.7" stroke-width="8.8"/>
<path d="M196.9 663.9L326.6 993.0" stroke-width="9"/>
<path d="M196.9 663.9L300.4 807.3" stroke-width="8.8"/>
<path d="M140.4 878.4L373.5 719.5" stroke-width="9"/>
<path d="M140.4 878.4L300.4 807.3" stroke-width="9"/>
<path d="M140.4 878.4L326.6 993.0" stroke-width="9"/>
<path d="M140.4 878.4L246.5 1060.7" stroke-width="9"/>
<path d="M373.5 719.5L300.4 807.3" stroke-width="16"/>
<path d="M373.5 719.5L326.6 993.0" stroke-width="18"/>
<path d="M373.5 719.5L246.5 1060.7" stroke-width="16.5"/>
<path d="M373.5 719.5L468.7 1009.9" stroke-width="13.5"/>
<path d="M300.4 807.3L326.6 993.0" stroke-width="16.5"/>
<path d="M300.4 807.3L246.5 1060.7" stroke-width="13.2"/>
<path d="M300.4 807.3L468.7 1009.9" stroke-width="8"/>
<path d="M326.6 993.0L246.5 1060.7" stroke-width="16.5"/>
<path d="M326.6 993.0L468.7 1009.9" stroke-width="15"/>
<path d="M246.5 1060.7L468.7 1009.9" stroke-width="12"/>
<path d="M466.7 1011.4L640.3 1163.7" stroke-width="8.2"/>
<path d="M641.3 1163.2L830.2 1147.7" stroke-width="15.6"/>
<path d="M641.3 1163.2L752.3 1432.0" stroke-width="15.2"/>
<path d="M830.2 1147.7L752.3 1432.0" stroke-width="18.2"/>
</g>
<g fill="none" stroke="#5a3fb4"><path d="M191.2 658.7L198.5 667.9M191.2 667.9L198.5 658.7M191.2 658.7L194.1 667.9M191.2 667.9L194.1 658.7" stroke-width="1.2"/><path d="M198.5 658.7H191.2V667.9H198.5" stroke-width="1.9"/><path d="M198.5 657.7V668.9" stroke-width="1.4" stroke-opacity="0.9"/><circle cx="198.5" cy="663.3" r="6.2" stroke-width="2.5"/></g>
<g fill="none" stroke="#e0301e"><path d="M360.0 707.1L376.8 729.5M360.0 729.5L376.8 707.1M360.0 707.1L366.7 729.5M360.0 729.5L366.7 707.1" stroke-width="1.74"/><path d="M376.8 707.1H360.0V729.5H376.8" stroke-width="2.34"/><path d="M376.8 705.9V730.7" stroke-width="1.4" stroke-opacity="0.9"/><circle cx="376.8" cy="718.3" r="13.7" stroke-width="2.9"/></g>
<g fill="none" stroke="#c0228f"><path d="M289.5 797.2L303.2 815.4M289.5 815.4L303.2 797.2M289.5 797.2L295.0 815.4M289.5 815.4L295.0 797.2" stroke-width="1.44"/><path d="M303.2 797.2H289.5V815.4H303.2" stroke-width="1.94"/><path d="M303.2 796.2V816.4" stroke-width="1.4" stroke-opacity="0.9"/><circle cx="303.2" cy="806.3" r="11.1" stroke-width="2.9"/></g>
<g fill="none" stroke="#4648b4"><path d="M135.1 873.5L142.0 882.1M135.1 882.1L142.0 873.5M135.1 873.5L137.9 882.1M135.1 882.1L137.9 873.5" stroke-width="1.2"/><path d="M142.0 873.5H135.1V882.1H142.0" stroke-width="1.9"/><path d="M142.0 872.5V883.1" stroke-width="1.4" stroke-opacity="0.9"/><circle cx="142.0" cy="877.8" r="5.8" stroke-width="2.5"/></g>
<g fill="none" stroke="#e0321f"><path d="M313.9 981.3L329.7 1002.4M313.9 1002.4L329.7 981.3M313.9 981.3L320.2 1002.4M313.9 1002.4L320.2 981.3" stroke-width="1.64"/><path d="M329.7 981.3H313.9V1002.4H329.7" stroke-width="2.21"/><path d="M329.7 980.2V1003.5" stroke-width="1.4" stroke-opacity="0.9"/><circle cx="329.7" cy="991.9" r="12.8" stroke-width="2.9"/></g>
<g fill="none" stroke="#c9267c"><path d="M458.4 1000.5L471.3 1017.5M458.4 1017.5L471.3 1000.5M458.4 1000.5L463.6 1017.5M458.4 1017.5L463.6 1000.5" stroke-width="1.36"/><path d="M471.3 1000.5H458.4V1017.5H471.3" stroke-width="1.83"/><path d="M471.3 999.6V1018.4" stroke-width="1.4" stroke-opacity="0.9"/><circle cx="471.3" cy="1009.0" r="10.4" stroke-width="2.9"/></g>
<g fill="none" stroke="#e0301e"><path d="M231.5 1046.9L250.2 1071.9M231.5 1071.9L250.2 1046.9M231.5 1046.9L239.0 1071.9M231.5 1071.9L239.0 1046.9" stroke-width="1.92"/><path d="M250.2 1046.9H231.5V1071.9H250.2" stroke-width="2.59"/><path d="M250.2 1045.6V1073.2" stroke-width="1.4" stroke-opacity="0.9"/><circle cx="250.2" cy="1059.4" r="15.2" stroke-width="2.9"/></g>
<g fill="none" stroke="#3b4bad"><path d="M817.8 1136.3L833.3 1156.9M817.8 1156.9L833.3 1136.3M817.8 1136.3L824.0 1156.9M817.8 1156.9L824.0 1136.3" stroke-width="1.61"/><path d="M833.3 1136.3H817.8V1156.9H833.3" stroke-width="2.17"/><path d="M833.3 1135.2V1158.0" stroke-width="1.4" stroke-opacity="0.9"/><circle cx="833.3" cy="1146.6" r="12.6" stroke-width="2.9"/></g>
<g fill="none" stroke="#3350a9"><path d="M629.3 1152.1L644.3 1172.1M629.3 1172.1L644.3 1152.1M629.3 1152.1L635.3 1172.1M629.3 1172.1L635.3 1152.1" stroke-width="1.56"/><path d="M644.3 1152.1H629.3V1172.1H644.3" stroke-width="2.11"/><path d="M644.3 1151.1V1173.1" stroke-width="1.4" stroke-opacity="0.9"/><circle cx="644.3" cy="1162.1" r="12.2" stroke-width="2.9"/></g>
<g fill="none" stroke="#3e49ae"><path d="M739.4 1420.1L755.5 1441.5M739.4 1441.5L755.5 1420.1M739.4 1420.1L745.8 1441.5M739.4 1441.5L745.8 1420.1" stroke-width="1.67"/><path d="M755.5 1420.1H739.4V1441.5H755.5" stroke-width="2.25"/><path d="M755.5 1419.0V1442.6" stroke-width="1.4" stroke-opacity="0.9"/><circle cx="755.5" cy="1430.8" r="13.1" stroke-width="2.9"/></g>
<text x="151.3" y="651.0" font-size="22.95" textLength="530.3" lengthAdjust="spacing">Removal of the Flap Intermediate from the C−strand</text>
<text x="251.5" y="754.0" font-size="22.95" textLength="275.2" lengthAdjust="spacing">Nucleotide Excision Repair</text>
<text x="177.6" y="829.0" font-size="22.95" textLength="624.6" lengthAdjust="spacing">Transcription−Coupled Nucleotide Excision Repair (TC−NER)</text>
<text x="103.3" y="900.0" font-size="22.95" textLength="543.8" lengthAdjust="spacing">Processive synthesis on the C−strand of the telomere</text>
<text x="147.4" y="979.0" font-size="22.95" textLength="562.3" lengthAdjust="spacing">Global Genome Nucleotide Excision Repair (GG−NER)</text>
<text x="305.8" y="1031.0" font-size="22.95" textLength="438.1" lengthAdjust="spacing">Formation of Incision Complex in GG−NER</text>
<text x="193.0" y="1083.9" font-size="22.95" textLength="123.5" lengthAdjust="spacing">DNA Repair</text>
<text x="601.2" y="1128.8" font-size="22.95" textLength="253.8" lengthAdjust="spacing">Mitotic G2−G2/M phases</text>
<text x="523.6" y="1195.3" font-size="22.95" textLength="250.4" lengthAdjust="spacing">Mitotic G1−G1/S phases</text>
<text x="675.0" y="1414.3" font-size="22.95" textLength="159.9" lengthAdjust="spacing">G2/M Transition</text>
<text transform="translate(-3.6 682.6) scale(1.07 1)" font-size="69">c</text>
<defs><linearGradient id="lgc" x1="0" y1="0" x2="0" y2="1"><stop offset="0" stop-color="#e3331d"/><stop offset="0.12" stop-color="#e32a2c"/><stop offset="0.23" stop-color="#e01e46"/><stop offset="0.34" stop-color="#d41f6e"/><stop offset="0.445" stop-color="#c4258f"/><stop offset="0.52" stop-color="#b829a6"/><stop offset="0.655" stop-color="#9a2eb3"/><stop offset="0.76" stop-color="#7c33b3"/><stop offset="0.87" stop-color="#5a41b0"/><stop offset="1" stop-color="#2f5fae"/></linearGradient></defs>
<rect x="184.7" y="1246.8" width="29" height="144.9" fill="url(#lgc)"/>
<path d="M184.7 1280.3h5.8M213.7 1280.3h-5.8M184.7 1311.1h5.8M213.7 1311.1h-5.8M184.7 1341.9h5.8M213.7 1341.9h-5.8M184.7 1373.1h5.8M213.7 1373.1h-5.8" stroke="#fff" stroke-width="1.3" fill="none"/>
<text transform="translate(223.0 1285.7) scale(1 1.04)" font-size="14.7">0.001</text>
<text transform="translate(223.0 1316.5) scale(1 1.04)" font-size="14.7">0.002</text>
<text transform="translate(223.0 1347.3) scale(1 1.04)" font-size="14.7">0.003</text>
<text transform="translate(223.0 1378.5) scale(1 1.04)" font-size="14.7">0.004</text>
<text x="184.6" y="1235.0" font-size="18.1">p.adjust</text>
<text x="283.0" y="1235.0" font-size="18.1">size</text>
<path d="M290.8 1251.7H302.8V1268.8H290.8ZM290.8 1251.7L302.8 1268.8M290.8 1268.8L302.8 1251.7" fill="none" stroke="#000" stroke-width="1.7"/>
<text transform="translate(327.5 1265.6) scale(1 1.04)" font-size="14.7">5.0</text>
<path d="M288.7 1280.0H303.3V1300.4H288.7ZM288.7 1280.0L303.3 1300.4M288.7 1300.4L303.3 1280.0" fill="none" stroke="#000" stroke-width="1.7"/>
<text transform="translate(327.5 1295.8) scale(1 1.04)" font-size="14.7">7.5</text>
<path d="M287.2 1311.9H303.9V1335.6H287.2ZM287.2 1311.9L303.9 1335.6M287.2 1335.6L303.9 1311.9" fill="none" stroke="#000" stroke-width="1.7"/>
<text transform="translate(327.5 1328.8) scale(1 1.04)" font-size="14.7">10.0</text>
</g>
</svg>
</body></html>
